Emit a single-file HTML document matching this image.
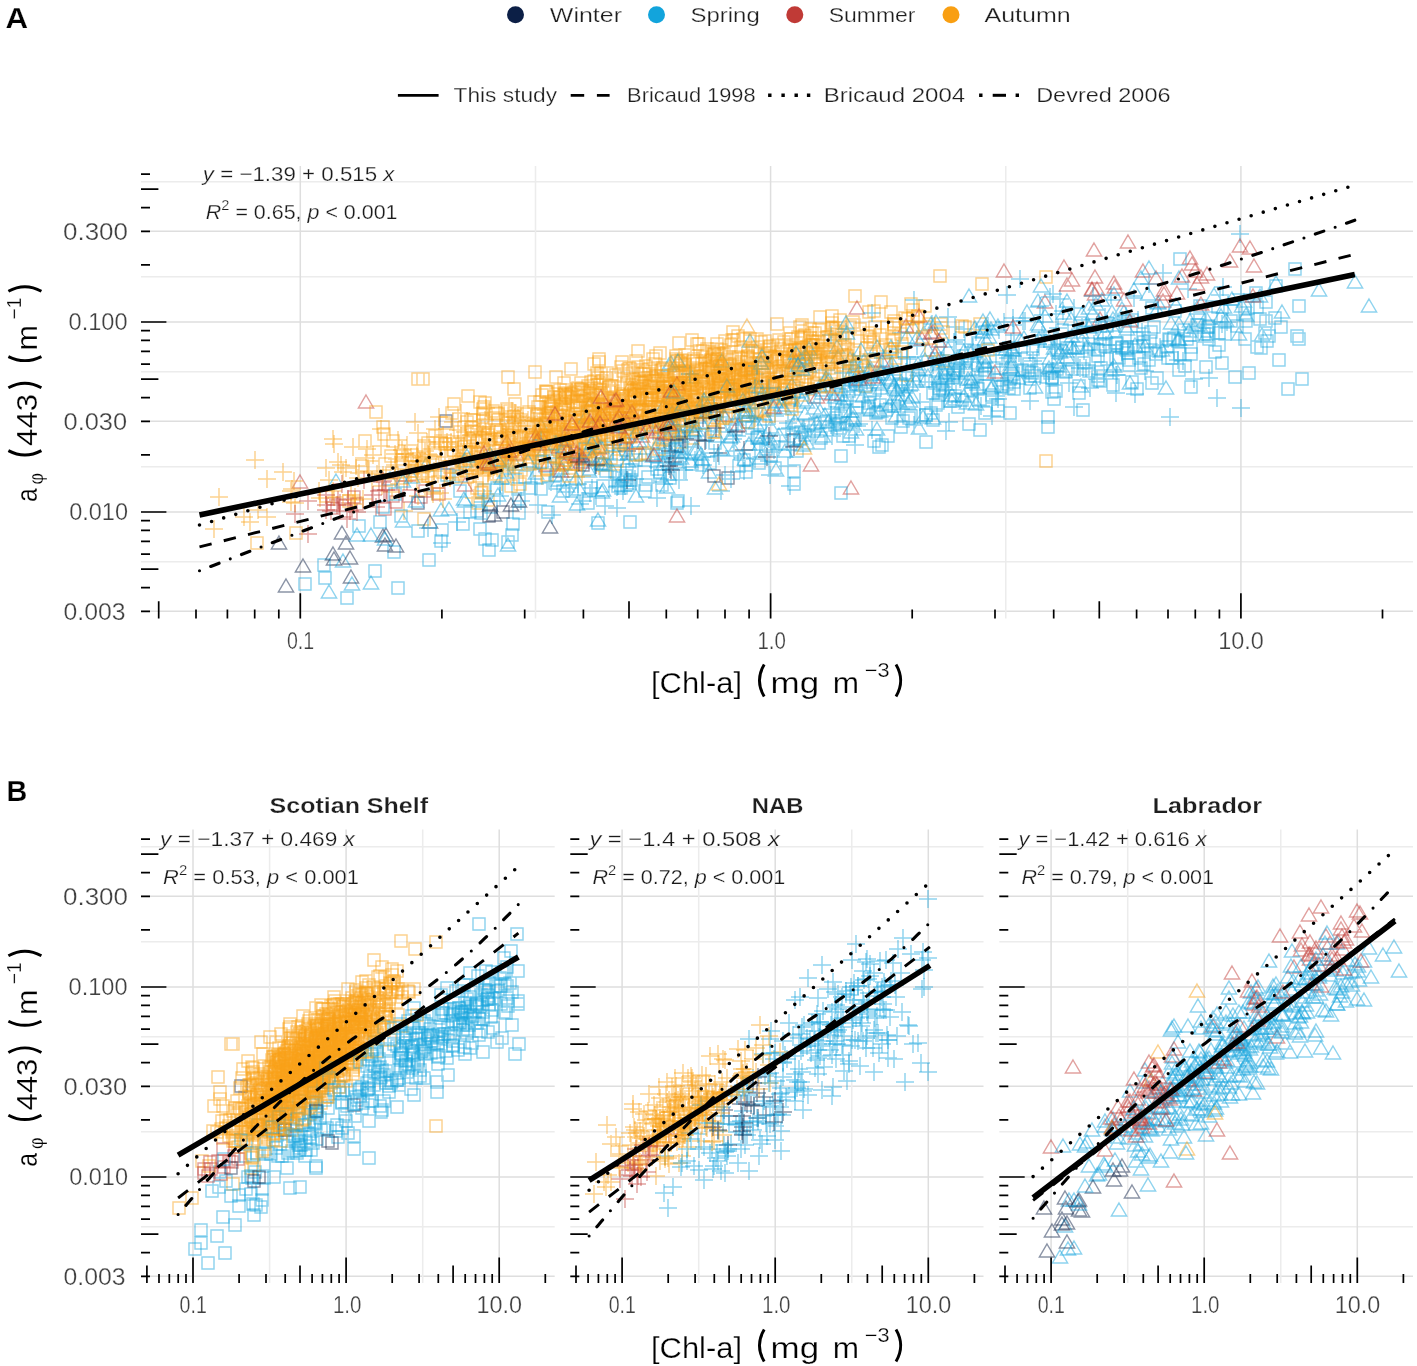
<!DOCTYPE html><html><head><meta charset="utf-8"><style>html,body{margin:0;padding:0;background:#fff;}svg{display:block;will-change:transform;}text{font-family:"Liberation Sans", sans-serif;stroke:#fff;stroke-width:0.25px;}</style></head><body>
<svg width="1417" height="1366" viewBox="0 0 1417 1366">
<rect width="100%" height="100%" fill="#fff"/>
<text x="5.6" y="27.9" font-size="29" font-weight="bold" textLength="22.6" lengthAdjust="spacingAndGlyphs" fill="#000">A</text>
<text x="6.6" y="800.7" font-size="29" font-weight="bold" textLength="20.8" lengthAdjust="spacingAndGlyphs" fill="#000">B</text>
<circle cx="515.5" cy="14.8" r="8.5" fill="#0c1f46"/>
<text x="549.8" y="22.1" font-size="21" textLength="72.2" lengthAdjust="spacingAndGlyphs" fill="#1e1e1e">Winter</text>
<circle cx="656.5" cy="14.8" r="8.5" fill="#12a4dc"/>
<text x="690.5" y="22.1" font-size="21" textLength="69.2" lengthAdjust="spacingAndGlyphs" fill="#1e1e1e">Spring</text>
<circle cx="794.8" cy="14.8" r="8.5" fill="#c03a36"/>
<text x="828.7" y="22.1" font-size="21" textLength="86.8" lengthAdjust="spacingAndGlyphs" fill="#1e1e1e">Summer</text>
<circle cx="951" cy="14.8" r="8.5" fill="#f99f12"/>
<text x="984.5" y="22.1" font-size="21" textLength="86.2" lengthAdjust="spacingAndGlyphs" fill="#1e1e1e">Autumn</text>
<line x1="397.9" x2="438.6" y1="95.3" y2="95.3" stroke="#000" stroke-width="2.8"/>
<text x="453.5" y="102.3" font-size="21" textLength="103.6" lengthAdjust="spacingAndGlyphs" fill="#1e1e1e">This study</text>
<path d="M570.7 95.3h13.5M596.9 95.3h12.7" stroke="#000" stroke-width="2.8"/>
<text x="627.1" y="102.3" font-size="21" textLength="128.5" lengthAdjust="spacingAndGlyphs" fill="#1e1e1e">Bricaud 1998</text>
<path d="M768.1 95.3h3.4M781.4 95.3h3.4M794.5 95.3h3.4M806.9 95.3h3.4" stroke="#000" stroke-width="3.4"/>
<text x="823.7" y="102.3" font-size="21" textLength="141.4" lengthAdjust="spacingAndGlyphs" fill="#1e1e1e">Bricaud 2004</text>
<path d="M979.1 95.3h3.4M1015.6 95.3h3.4" stroke="#000" stroke-width="3.4"/>
<path d="M992.7 95.3h13.3" stroke="#000" stroke-width="3"/>
<text x="1036.2" y="102.3" font-size="21" textLength="134.3" lengthAdjust="spacingAndGlyphs" fill="#1e1e1e">Devred 2006</text>
<line x1="141" x2="1413" y1="561.7" y2="561.7" stroke="#ececec" stroke-width="1.5"/>
<line x1="141" x2="1413" y1="466.7" y2="466.7" stroke="#ececec" stroke-width="1.5"/>
<line x1="141" x2="1413" y1="371.7" y2="371.7" stroke="#ececec" stroke-width="1.5"/>
<line x1="141" x2="1413" y1="276.7" y2="276.7" stroke="#ececec" stroke-width="1.5"/>
<line x1="141" x2="1413" y1="181.7" y2="181.7" stroke="#ececec" stroke-width="1.5"/>
<line x1="141" x2="1413" y1="611.3" y2="611.3" stroke="#dedede" stroke-width="1.5"/>
<line x1="141" x2="1413" y1="512.0" y2="512.0" stroke="#dedede" stroke-width="1.5"/>
<line x1="141" x2="1413" y1="421.3" y2="421.3" stroke="#dedede" stroke-width="1.5"/>
<line x1="141" x2="1413" y1="322.0" y2="322.0" stroke="#dedede" stroke-width="1.5"/>
<line x1="141" x2="1413" y1="231.3" y2="231.3" stroke="#dedede" stroke-width="1.5"/>
<line y1="166" y2="618.6" x1="535.5" x2="535.5" stroke="#ececec" stroke-width="1.5"/>
<line y1="166" y2="618.6" x1="1005.8" x2="1005.8" stroke="#ececec" stroke-width="1.5"/>
<line y1="166" y2="618.6" x1="300.3" x2="300.3" stroke="#dedede" stroke-width="1.5"/>
<line y1="166" y2="618.6" x1="770.6" x2="770.6" stroke="#dedede" stroke-width="1.5"/>
<line y1="166" y2="618.6" x1="1240.9" x2="1240.9" stroke="#dedede" stroke-width="1.5"/>
<g fill="none" stroke-width="1.45" stroke-opacity="0.48">
<path stroke="#12a4dc" d="M890 371l7.6 13h-15.2zM952 388l7.6 13h-15.2zM927 414h12v12h-12zM1355 275l7.6 13h-15.2zM352 577l7.6 13h-15.2zM582 497h12v12h-12zM1229 371h12v12h-12zM967 332h18m-9-9v18M630 454h12v12h-12zM947 394h18m-9-9v18M846 379l7.6 13h-15.2zM1214 287h18m-9-9v18M948 367h12v12h-12zM850 424h18m-9-9v18M625 474h12v12h-12zM1246 308l7.6 13h-15.2zM1024 373h12v12h-12zM817 370h18m-9-9v18M485 501h12v12h-12zM388 546h12v12h-12zM557 446h12v12h-12zM781 435h18m-9-9v18M1184 329h12v12h-12zM1110 351h12v12h-12zM644 436l7.6 13h-15.2zM760 431l7.6 13h-15.2zM940 375h12v12h-12zM513 507h12v12h-12zM1194 314h12v12h-12zM976 397l7.6 13h-15.2zM1162 343l7.6 13h-15.2zM1122 302l7.6 13h-15.2zM602 485l7.6 13h-15.2zM1051 299h18m-9-9v18M998 295h18m-9-9v18M1195 320l7.6 13h-15.2zM1148 321h12v12h-12zM837 430h12v12h-12zM1197 301l7.6 13h-15.2zM535 483h12v12h-12zM779 428l7.6 13h-15.2zM692 370l7.6 13h-15.2zM1369 299l7.6 13h-15.2zM1141 271l7.6 13h-15.2zM693 423l7.6 13h-15.2zM474 523h12v12h-12zM598 513l7.6 13h-15.2zM992 399h12v12h-12zM972 383h12v12h-12zM791 390h18m-9-9v18M832 418h12v12h-12zM864 354l7.6 13h-15.2zM748 408l7.6 13h-15.2zM1129 320h18m-9-9v18M1064 306l7.6 13h-15.2zM946 327h18m-9-9v18M1024 382h12v12h-12zM1043 347h18m-9-9v18M1003 382h12v12h-12zM479 533h12v12h-12zM1135 362h12v12h-12zM620 444h12v12h-12zM880 404h12v12h-12zM968 345h12v12h-12zM881 366h18m-9-9v18M1137 328h12v12h-12zM821 391h18m-9-9v18M934 382h12v12h-12zM1178 324h12v12h-12zM1054 341l7.6 13h-15.2zM842 395l7.6 13h-15.2zM1101 320h12v12h-12zM1055 344h12v12h-12zM795 414l7.6 13h-15.2zM423 491h18m-9-9v18M621 464h12v12h-12zM765 412l7.6 13h-15.2zM519 471h12v12h-12zM1028 358h18m-9-9v18M488 457l7.6 13h-15.2zM880 404l7.6 13h-15.2zM731 411h18m-9-9v18M1260 296h12v12h-12zM931 385h18m-9-9v18M862 401h12v12h-12zM856 422l7.6 13h-15.2zM1078 326h18m-9-9v18M897 383l7.6 13h-15.2zM541 419l7.6 13h-15.2zM876 439h12v12h-12zM1201 325h12v12h-12zM650 450h12v12h-12zM552 464h12v12h-12zM1185 381h12v12h-12zM822 415h18m-9-9v18M906 388l7.6 13h-15.2zM1243 367h12v12h-12zM1044 371h18m-9-9v18M1149 308h18m-9-9v18M684 402l7.6 13h-15.2zM832 388h12v12h-12zM544 450h12v12h-12zM740 409h18m-9-9v18M1126 376h12v12h-12zM1104 370h18m-9-9v18M449 502l7.6 13h-15.2zM936 345l7.6 13h-15.2zM553 436h18m-9-9v18M1130 341h12v12h-12zM695 418l7.6 13h-15.2zM1004 407h12v12h-12zM515 457l7.6 13h-15.2zM1225 315h12v12h-12zM781 486h18m-9-9v18M1123 359h12v12h-12zM1244 294l7.6 13h-15.2zM512 501h18m-9-9v18M550 469h12v12h-12zM863 397h12v12h-12zM1276 276l7.6 13h-15.2zM784 376h18m-9-9v18M1124 305l7.6 13h-15.2zM841 417h18m-9-9v18M357 528l7.6 13h-15.2zM1075 351h18m-9-9v18M845 379h12v12h-12zM928 343l7.6 13h-15.2zM963 418h12v12h-12zM564 457l7.6 13h-15.2zM1119 320h12v12h-12zM968 362h18m-9-9v18M842 407h18m-9-9v18M1112 305l7.6 13h-15.2zM1102 295h18m-9-9v18M1056 324h12v12h-12zM964 344l7.6 13h-15.2zM911 402h18m-9-9v18M738 454h12v12h-12zM979 326h18m-9-9v18M390 472l7.6 13h-15.2zM590 398l7.6 13h-15.2zM1113 312l7.6 13h-15.2zM1144 335h12v12h-12zM1221 309l7.6 13h-15.2zM963 362h18m-9-9v18M614 491h18m-9-9v18M524 469h18m-9-9v18M664 472h12v12h-12zM1051 344h12v12h-12zM1098 321h18m-9-9v18M1074 341l7.6 13h-15.2zM762 387l7.6 13h-15.2zM983 368h12v12h-12zM823 436h18m-9-9v18M586 437h12v12h-12zM841 386h18m-9-9v18M1088 343h12v12h-12zM747 391l7.6 13h-15.2zM995 381h12v12h-12zM1039 332l7.6 13h-15.2zM1260 289l7.6 13h-15.2zM1024 331l7.6 13h-15.2zM746 374h18m-9-9v18M815 432h12v12h-12zM771 420l7.6 13h-15.2zM656 456h18m-9-9v18M799 429h12v12h-12zM898 357h18m-9-9v18M369 565h12v12h-12zM781 450h18m-9-9v18M993 374h12v12h-12zM955 329h18m-9-9v18M1239 307h12v12h-12zM1191 319h12v12h-12zM1161 341h12v12h-12zM579 482l7.6 13h-15.2z"/>
<path stroke="#f99f12" d="M758 405h12v12h-12zM570 415h12v12h-12zM745 387h12v12h-12zM438 447h18m-9-9v18M671 355h12v12h-12zM662 389h12v12h-12zM461 416h12v12h-12zM888 319h12v12h-12zM475 444h12v12h-12zM357 458h18m-9-9v18M657 411h18m-9-9v18M708 376h12v12h-12zM637 364h12v12h-12zM643 394h12v12h-12zM363 480h18m-9-9v18M606 380h12v12h-12zM709 426h12v12h-12zM660 409h18m-9-9v18M734 379h12v12h-12zM480 450h12v12h-12zM606 408l7.6 13h-15.2zM661 415h12v12h-12zM705 397h12v12h-12zM805 353h12v12h-12zM560 390h12v12h-12zM666 405h12v12h-12zM763 343h12v12h-12zM687 432h12v12h-12zM606 395h18m-9-9v18M655 411h12v12h-12zM324 491h18m-9-9v18M694 387h12v12h-12zM624 407h12v12h-12zM706 361h12v12h-12zM587 401h12v12h-12zM708 348h12v12h-12zM470 432h18m-9-9v18M502 371h12v12h-12zM635 426h12v12h-12zM602 470h18m-9-9v18M686 407h12v12h-12zM959 321h12v12h-12zM540 424h12v12h-12zM466 458h12v12h-12zM482 494h12v12h-12zM568 435h12v12h-12zM597 459h12v12h-12zM502 435h12v12h-12zM559 454h12v12h-12zM477 443h12v12h-12zM506 445h12v12h-12zM460 477h18m-9-9v18M767 376h12v12h-12zM849 290h12v12h-12zM697 406h12v12h-12zM429 430h12v12h-12zM274 472h18m-9-9v18M602 433h12v12h-12zM664 408h18m-9-9v18M773 371h12v12h-12zM593 356h12v12h-12zM653 443h12v12h-12zM418 457h12v12h-12zM493 482h18m-9-9v18M584 393h12v12h-12zM396 454h18m-9-9v18M539 418h12v12h-12zM474 463h18m-9-9v18M907 312h12v12h-12zM576 438h12v12h-12zM704 362h12v12h-12zM491 458h12v12h-12zM714 370h12v12h-12zM519 420h18m-9-9v18M385 450h12v12h-12zM618 406h12v12h-12zM596 375h12v12h-12zM715 385h12v12h-12zM501 420h12v12h-12zM821 331h12v12h-12zM767 361h12v12h-12zM728 390h12v12h-12zM556 459h12v12h-12zM708 373h12v12h-12zM466 456h18m-9-9v18M400 470h18m-9-9v18M732 373h12v12h-12zM685 368h12v12h-12zM652 398h12v12h-12zM735 341h12v12h-12zM802 383h12v12h-12zM679 359h12v12h-12zM612 413h18m-9-9v18M738 400h12v12h-12zM716 365h12v12h-12zM740 386h12v12h-12zM701 343h12v12h-12zM464 454h12v12h-12zM714 363h12v12h-12zM477 408h18m-9-9v18M462 465h18m-9-9v18M649 375h12v12h-12zM859 364h12v12h-12zM657 396h18m-9-9v18M467 432h12v12h-12zM707 364h12v12h-12zM837 367h12v12h-12zM525 448h18m-9-9v18M454 426h12v12h-12zM712 379h12v12h-12zM769 351h12v12h-12zM749 381h12v12h-12zM653 385h12v12h-12zM813 368h12v12h-12zM583 442h18m-9-9v18M742 350h12v12h-12zM720 373h12v12h-12zM718 382h12v12h-12zM409 469h18m-9-9v18M622 406h12v12h-12zM650 409h12v12h-12zM585 407h12v12h-12zM691 387h12v12h-12zM557 457h12v12h-12zM577 420h12v12h-12zM823 356h12v12h-12zM595 387h12v12h-12zM656 381h12v12h-12zM769 376h12v12h-12zM638 386h12v12h-12zM377 421h12v12h-12zM552 416h12v12h-12zM601 419h12v12h-12zM649 401h12v12h-12zM492 414h12v12h-12zM730 379h12v12h-12zM532 401h12v12h-12zM777 387h18m-9-9v18M484 470h18m-9-9v18M622 430h12v12h-12zM919 300h12v12h-12zM447 471h12v12h-12zM646 405h12v12h-12zM728 384h12v12h-12zM447 456h18m-9-9v18M825 346h12v12h-12zM592 372h12v12h-12zM642 389h12v12h-12zM652 390h12v12h-12zM557 420h18m-9-9v18M719 363h12v12h-12zM566 419h12v12h-12zM790 380h12v12h-12zM500 446h12v12h-12zM606 393h12v12h-12zM630 383h12v12h-12zM497 432h18m-9-9v18M699 400h12v12h-12zM656 373h12v12h-12zM836 329h12v12h-12zM786 357h12v12h-12zM716 386h12v12h-12zM884 343h12v12h-12zM776 379h12v12h-12zM799 329h12v12h-12zM538 432h12v12h-12zM739 364h12v12h-12zM743 371h18m-9-9v18M430 437h18m-9-9v18M626 409h12v12h-12zM545 438h12v12h-12zM495 442h12v12h-12zM687 423h12v12h-12zM462 446h18m-9-9v18M482 427h12v12h-12zM804 323h12v12h-12zM735 356h12v12h-12zM687 379h12v12h-12zM387 435h12v12h-12zM743 381h12v12h-12zM640 397h12v12h-12zM657 362h12v12h-12zM569 456h18m-9-9v18M770 369h12v12h-12zM565 431h12v12h-12zM585 432h12v12h-12zM754 361h12v12h-12zM549 419h18m-9-9v18M717 394h12v12h-12zM696 358h12v12h-12zM714 382h12v12h-12zM912 310h12v12h-12zM626 423h12v12h-12zM656 370h12v12h-12zM627 416h12v12h-12zM643 391h12v12h-12zM507 445h18m-9-9v18M693 393h12v12h-12zM602 420h12v12h-12zM447 461h12v12h-12zM555 401h12v12h-12zM574 402h12v12h-12zM587 404h12v12h-12zM429 444h12v12h-12zM721 358h12v12h-12zM689 402h12v12h-12zM895 328h12v12h-12zM724 383h12v12h-12zM258 479h18m-9-9v18M592 428h18m-9-9v18M601 401h12v12h-12zM584 387h12v12h-12zM644 406h12v12h-12zM726 381h12v12h-12zM767 379h12v12h-12zM810 348h12v12h-12zM885 306h12v12h-12zM644 404h12v12h-12zM441 477h18m-9-9v18M624 382h12v12h-12zM749 358h12v12h-12zM761 357h12v12h-12zM769 366h12v12h-12zM537 410h18m-9-9v18M634 405h12v12h-12zM622 405h12v12h-12zM751 384h12v12h-12zM458 421h18m-9-9v18M374 475h18m-9-9v18M584 440h12v12h-12zM623 426h12v12h-12zM320 480h18m-9-9v18M758 361h12v12h-12zM358 449h18m-9-9v18M579 395h12v12h-12zM741 367h12v12h-12zM799 352h12v12h-12zM789 344h12v12h-12zM714 366h12v12h-12zM722 381h12v12h-12zM697 378h12v12h-12zM494 455h12v12h-12zM683 384h12v12h-12zM582 400h12v12h-12zM706 391h12v12h-12zM537 460h18m-9-9v18M606 403h12v12h-12zM567 396h12v12h-12zM674 357h12v12h-12zM738 397h12v12h-12zM533 426h12v12h-12zM589 414h12v12h-12zM502 417h12v12h-12zM868 334h12v12h-12zM449 444h18m-9-9v18M627 373h12v12h-12zM543 406h12v12h-12zM566 429h18m-9-9v18M685 383h12v12h-12zM686 403h12v12h-12zM471 482h12v12h-12zM684 377h12v12h-12zM649 358h12v12h-12zM728 393h12v12h-12zM477 407h12v12h-12zM469 471h18m-9-9v18M418 513h12v12h-12zM788 349h12v12h-12zM625 395h12v12h-12zM686 374h12v12h-12zM468 425h12v12h-12zM673 365h12v12h-12zM869 321h12v12h-12zM620 407h12v12h-12zM530 419h12v12h-12zM511 441h12v12h-12zM675 436h12v12h-12zM741 367h12v12h-12zM673 379h12v12h-12zM729 370h12v12h-12zM565 388h12v12h-12zM249 510h18m-9-9v18M754 369h12v12h-12zM593 428h12v12h-12zM536 450h18m-9-9v18M735 369h12v12h-12zM724 391h12v12h-12zM648 381h12v12h-12zM686 407h12v12h-12zM628 388h12v12h-12zM442 442h18m-9-9v18M630 410h12v12h-12zM652 370h12v12h-12z"/>
<path stroke="#c03a36" d="M566 427l7.6 13h-15.2zM1115 280l7.6 13h-15.2zM419 485h12v12h-12zM390 496h12v12h-12zM1192 257l7.6 13h-15.2zM593 418l7.6 13h-15.2zM1092 283l7.6 13h-15.2zM636 415l7.6 13h-15.2zM1045 295l7.6 13h-15.2zM339 499h18m-9-9v18M322 511h18m-9-9v18M724 408l7.6 13h-15.2zM1067 278l7.6 13h-15.2zM366 395l7.6 13h-15.2zM327 498h12v12h-12zM1072 273l7.6 13h-15.2zM465 478l7.6 13h-15.2zM1100 312l7.6 13h-15.2zM575 450l7.6 13h-15.2zM1128 235l7.6 13h-15.2zM333 484h18m-9-9v18"/>
<path stroke="#0c1f46" d="M618 451h18m-9-9v18M670 437h18m-9-9v18M655 439h18m-9-9v18M334 552l7.6 13h-15.2zM788 434h12v12h-12zM440 415h12v12h-12zM604 445h18m-9-9v18M664 462h18m-9-9v18"/>
<path stroke="#12a4dc" d="M842 388l7.6 13h-15.2zM643 448l7.6 13h-15.2zM891 373l7.6 13h-15.2zM695 413h18m-9-9v18M954 370l7.6 13h-15.2zM586 466h18m-9-9v18M1107 393h18m-9-9v18M730 430l7.6 13h-15.2zM853 371h12v12h-12zM1102 293l7.6 13h-15.2zM616 486h18m-9-9v18M1179 332l7.6 13h-15.2zM657 441h12v12h-12zM1185 348h12v12h-12zM1213 339h12v12h-12zM779 423h18m-9-9v18M1089 320l7.6 13h-15.2zM1092 344h12v12h-12zM670 480h18m-9-9v18M969 390h18m-9-9v18M1145 339l7.6 13h-15.2zM843 385h12v12h-12zM952 394l7.6 13h-15.2zM1064 364l7.6 13h-15.2zM665 436l7.6 13h-15.2zM1174 361h18m-9-9v18M1007 368h12v12h-12zM536 466l7.6 13h-15.2zM991 322l7.6 13h-15.2zM945 368l7.6 13h-15.2zM628 416l7.6 13h-15.2zM1203 333h12v12h-12zM1027 305l7.6 13h-15.2zM893 379h18m-9-9v18M1138 336h12v12h-12zM435 535h12v12h-12zM1154 273h18m-9-9v18M1081 379l7.6 13h-15.2zM722 442l7.6 13h-15.2zM896 409l7.6 13h-15.2zM1208 398h18m-9-9v18M1011 279h18m-9-9v18M856 374l7.6 13h-15.2zM969 353h18m-9-9v18M979 368h12v12h-12zM1171 316l7.6 13h-15.2zM663 400l7.6 13h-15.2zM895 421h12v12h-12zM1242 302h12v12h-12zM1145 326h12v12h-12zM983 416h18m-9-9v18M830 412h12v12h-12zM732 389l7.6 13h-15.2zM626 479h18m-9-9v18M939 371l7.6 13h-15.2zM589 464l7.6 13h-15.2zM663 420h18m-9-9v18M626 435l7.6 13h-15.2zM674 468h12v12h-12zM1116 341h12v12h-12zM585 482h12v12h-12zM651 463h12v12h-12zM1051 363h12v12h-12zM695 442l7.6 13h-15.2zM454 485h12v12h-12zM979 407h12v12h-12zM859 373l7.6 13h-15.2zM930 370h18m-9-9v18M851 360h18m-9-9v18M746 459h18m-9-9v18M1046 349h18m-9-9v18M1006 342l7.6 13h-15.2zM927 387h12v12h-12zM904 381h18m-9-9v18M675 440h12v12h-12zM545 442l7.6 13h-15.2zM1020 333l7.6 13h-15.2zM1065 407h18m-9-9v18M1077 368h18m-9-9v18M697 442l7.6 13h-15.2zM1200 378h18m-9-9v18M749 437l7.6 13h-15.2zM1219 305h18m-9-9v18M1048 345h18m-9-9v18M873 441h12v12h-12zM792 419h12v12h-12zM971 372l7.6 13h-15.2zM775 394l7.6 13h-15.2zM758 394h18m-9-9v18M1111 363l7.6 13h-15.2zM1231 234h18m-9-9v18M918 357l7.6 13h-15.2zM547 458h18m-9-9v18M878 367l7.6 13h-15.2zM807 395l7.6 13h-15.2zM910 376h18m-9-9v18M745 452l7.6 13h-15.2zM837 340l7.6 13h-15.2zM491 458l7.6 13h-15.2zM493 454h12v12h-12zM559 473l7.6 13h-15.2zM1029 370h12v12h-12zM455 470h12v12h-12zM892 409h18m-9-9v18M1094 375h12v12h-12zM822 386l7.6 13h-15.2zM781 428h18m-9-9v18M967 375h12v12h-12zM931 353h12v12h-12zM693 457h18m-9-9v18M685 447h12v12h-12zM1190 314l7.6 13h-15.2zM1023 358h12v12h-12zM792 378l7.6 13h-15.2zM899 394l7.6 13h-15.2zM658 432h12v12h-12zM672 391l7.6 13h-15.2zM868 374h18m-9-9v18M1011 357l7.6 13h-15.2zM1219 328h12v12h-12zM901 375l7.6 13h-15.2zM1206 329l7.6 13h-15.2zM478 484h12v12h-12zM608 487h18m-9-9v18M628 454l7.6 13h-15.2zM1071 340l7.6 13h-15.2zM341 592h12v12h-12zM835 450h12v12h-12zM1009 353h12v12h-12zM822 425h18m-9-9v18M1090 322h18m-9-9v18M441 503l7.6 13h-15.2zM1042 421h12v12h-12zM1073 380h12v12h-12zM465 494l7.6 13h-15.2zM892 357h18m-9-9v18M1113 352h18m-9-9v18M319 572h12v12h-12zM1148 287l7.6 13h-15.2zM543 515h18m-9-9v18M948 393h12v12h-12zM951 379h18m-9-9v18M704 397l7.6 13h-15.2zM572 464l7.6 13h-15.2zM952 401h12v12h-12zM598 442h18m-9-9v18M426 458l7.6 13h-15.2zM850 368l7.6 13h-15.2zM892 356l7.6 13h-15.2zM1242 299l7.6 13h-15.2zM1126 394h18m-9-9v18M1169 305h12v12h-12zM870 407h12v12h-12zM620 459h18m-9-9v18M803 419h12v12h-12zM507 518h12v12h-12zM953 367h18m-9-9v18M1049 328h18m-9-9v18M838 350l7.6 13h-15.2zM490 447l7.6 13h-15.2zM1203 320h12v12h-12zM792 391l7.6 13h-15.2zM822 409h18m-9-9v18M1049 361l7.6 13h-15.2zM825 374l7.6 13h-15.2zM823 429l7.6 13h-15.2zM913 320l7.6 13h-15.2zM764 407l7.6 13h-15.2zM636 489l7.6 13h-15.2zM619 430h12v12h-12zM1166 381l7.6 13h-15.2zM674 416l7.6 13h-15.2zM817 416l7.6 13h-15.2zM669 358l7.6 13h-15.2zM725 389h18m-9-9v18M624 516h12v12h-12zM464 506h12v12h-12zM539 460h12v12h-12zM1038 317l7.6 13h-15.2zM561 461l7.6 13h-15.2zM671 356l7.6 13h-15.2zM1108 375h18m-9-9v18M1282 383h12v12h-12zM756 379l7.6 13h-15.2z"/>
<path stroke="#f99f12" d="M431 447h18m-9-9v18M787 390h12v12h-12zM677 387h12v12h-12zM736 378h12v12h-12zM716 348h12v12h-12zM752 341h12v12h-12zM592 389h12v12h-12zM709 392h12v12h-12zM408 472h18m-9-9v18M593 414h12v12h-12zM626 379h12v12h-12zM475 487h12v12h-12zM731 391h12v12h-12zM764 350h12v12h-12zM528 396h12v12h-12zM678 377h12v12h-12zM670 353h12v12h-12zM477 462h18m-9-9v18M715 344h12v12h-12zM524 443h18m-9-9v18M526 434h18m-9-9v18M780 391h12v12h-12zM372 429h18m-9-9v18M657 382h12v12h-12zM474 476h18m-9-9v18M601 426h12v12h-12zM629 385h12v12h-12zM737 333h12v12h-12zM672 399h12v12h-12zM406 455h12v12h-12zM406 465h12v12h-12zM524 458h12v12h-12zM602 409h12v12h-12zM900 369h12v12h-12zM591 367h12v12h-12zM737 374h12v12h-12zM773 334h12v12h-12zM813 332h12v12h-12zM877 344h12v12h-12zM812 373h12v12h-12zM486 449h12v12h-12zM734 383h12v12h-12zM667 402h12v12h-12zM727 377h12v12h-12zM709 349h12v12h-12zM654 433h12v12h-12zM543 440h12v12h-12zM404 461h18m-9-9v18M320 490h12v12h-12zM497 464h12v12h-12zM855 359h12v12h-12zM864 336h12v12h-12zM663 395h12v12h-12zM531 447h18m-9-9v18M550 417h12v12h-12zM711 405h12v12h-12zM535 432h18m-9-9v18M842 343h12v12h-12zM465 498h18m-9-9v18M658 420h12v12h-12zM724 384h12v12h-12zM794 321h12v12h-12zM523 444h12v12h-12zM856 356h12v12h-12zM594 441h12v12h-12zM763 389h12v12h-12zM572 424h12v12h-12zM657 418h12v12h-12zM624 429h18m-9-9v18M548 450h18m-9-9v18M797 389h12v12h-12zM646 384h18m-9-9v18M784 327h12v12h-12zM691 389h12v12h-12zM605 419h12v12h-12zM859 380h12v12h-12zM400 471h18m-9-9v18M472 497h12v12h-12zM658 366h12v12h-12zM654 388h12v12h-12zM644 392h12v12h-12zM509 416h18m-9-9v18M784 354h12v12h-12zM727 326h12v12h-12zM654 400h12v12h-12zM801 341h12v12h-12zM541 401h12v12h-12zM843 355h12v12h-12zM581 436h18m-9-9v18M714 373h12v12h-12zM661 380h12v12h-12zM427 467h18m-9-9v18M660 377h12v12h-12zM728 383h12v12h-12zM888 315h12v12h-12zM854 323h12v12h-12zM778 356h12v12h-12zM663 395h12v12h-12zM613 430h12v12h-12zM725 384h12v12h-12zM346 500h18m-9-9v18M640 374h12v12h-12zM647 353h12v12h-12zM478 463h12v12h-12zM652 416h12v12h-12zM566 435h12v12h-12zM653 380h12v12h-12zM712 353h12v12h-12zM468 414h12v12h-12zM823 344h12v12h-12zM742 344h12v12h-12zM680 393h12v12h-12zM687 355h12v12h-12zM784 376h12v12h-12zM576 420h12v12h-12zM756 404h12v12h-12zM578 421h12v12h-12zM814 311h12v12h-12zM736 364h12v12h-12zM560 384h12v12h-12zM677 407h12v12h-12zM662 382h12v12h-12zM662 408h12v12h-12zM542 402h12v12h-12zM738 372h12v12h-12zM772 353h12v12h-12zM890 352h12v12h-12zM462 435h18m-9-9v18M515 464h12v12h-12zM408 480h18m-9-9v18M395 481h18m-9-9v18M725 392h12v12h-12zM643 376h12v12h-12zM580 394h12v12h-12zM937 355h12v12h-12zM735 366h12v12h-12zM598 412h12v12h-12zM745 373h12v12h-12zM850 360h12v12h-12zM695 405h12v12h-12zM815 365h12v12h-12zM834 314h12v12h-12zM502 455h18m-9-9v18M494 444h18m-9-9v18M667 404h12v12h-12zM506 417h18m-9-9v18M597 417h18m-9-9v18M544 401h12v12h-12zM729 373h12v12h-12zM675 354h12v12h-12zM654 387h12v12h-12zM608 395h12v12h-12zM829 325h12v12h-12zM514 430h12v12h-12zM672 355h12v12h-12zM742 370h12v12h-12zM767 382h12v12h-12zM664 427h12v12h-12zM590 383h12v12h-12zM612 440h12v12h-12zM779 340h12v12h-12zM564 427h12v12h-12zM733 361h12v12h-12zM705 367h12v12h-12zM628 389h12v12h-12zM793 346h12v12h-12zM474 491h18m-9-9v18M559 398h12v12h-12zM583 420h12v12h-12zM533 476h18m-9-9v18M651 410h12v12h-12zM444 422h18m-9-9v18M703 377h12v12h-12zM659 414h12v12h-12zM811 377h12v12h-12zM630 403h12v12h-12zM874 329h12v12h-12zM578 437h12v12h-12zM406 422h18m-9-9v18M372 446h18m-9-9v18M700 377h12v12h-12zM671 407h12v12h-12zM472 429h18m-9-9v18M618 408h12v12h-12zM466 422h12v12h-12zM557 414h12v12h-12zM424 494h18m-9-9v18M554 394h12v12h-12zM571 453h12v12h-12zM703 383h18m-9-9v18M805 340h12v12h-12zM545 407h12v12h-12zM638 421h12v12h-12zM547 399h12v12h-12zM766 393h12v12h-12zM675 399h12v12h-12zM572 458h12v12h-12zM604 405h12v12h-12zM569 409h12v12h-12zM548 391h12v12h-12zM652 389h12v12h-12zM674 377h12v12h-12zM578 419h12v12h-12zM809 354h12v12h-12zM828 368h12v12h-12zM486 434h18m-9-9v18M681 421h12v12h-12zM901 321h12v12h-12zM825 351h12v12h-12zM575 411h12v12h-12zM617 397h12v12h-12zM602 435h18m-9-9v18M741 356h12v12h-12zM643 368h12v12h-12zM867 354h12v12h-12zM571 432h18m-9-9v18M508 383h12v12h-12zM500 458h18m-9-9v18M611 427h18m-9-9v18M661 393h12v12h-12zM643 411h12v12h-12zM550 419h12v12h-12zM584 385h12v12h-12zM344 504h18m-9-9v18M554 409h12v12h-12zM632 361h12v12h-12zM552 445h18m-9-9v18M700 363h12v12h-12zM503 460h12v12h-12zM806 327h12v12h-12zM538 439h18m-9-9v18M783 333h12v12h-12zM395 511h18m-9-9v18M393 450h18m-9-9v18M734 365h12v12h-12zM756 357h12v12h-12zM686 374h12v12h-12zM635 404h12v12h-12zM747 371h12v12h-12zM728 380h12v12h-12zM472 456h18m-9-9v18M783 394h12v12h-12zM448 398h12v12h-12zM796 376h12v12h-12zM737 371h12v12h-12zM684 379h12v12h-12zM795 343h12v12h-12zM653 391h12v12h-12zM617 388h12v12h-12zM560 457h12v12h-12zM703 363h12v12h-12zM766 376h12v12h-12zM683 401h12v12h-12zM719 362h12v12h-12zM515 431h12v12h-12zM644 382h12v12h-12zM784 341h12v12h-12zM907 304h12v12h-12zM593 438h12v12h-12zM728 360h12v12h-12zM934 270h12v12h-12zM360 471h18m-9-9v18M623 404h12v12h-12zM540 385h12v12h-12zM584 393h12v12h-12zM694 371h12v12h-12zM667 413h12v12h-12zM210 497h18m-9-9v18M282 502h18m-9-9v18M664 387h12v12h-12zM396 449h12v12h-12zM843 366h12v12h-12zM558 377h12v12h-12zM561 441h12v12h-12zM716 349h12v12h-12zM743 379h12v12h-12zM956 320h12v12h-12zM498 443h18m-9-9v18M528 434h12v12h-12zM484 444h18m-9-9v18"/>
<path stroke="#c03a36" d="M1163 294l7.6 13h-15.2zM507 435l7.6 13h-15.2zM796 354l7.6 13h-15.2zM617 412l7.6 13h-15.2zM599 441l7.6 13h-15.2zM653 420l7.6 13h-15.2zM600 451l7.6 13h-15.2zM1164 283l7.6 13h-15.2zM625 399l7.6 13h-15.2zM351 498h12v12h-12zM857 301l7.6 13h-15.2zM559 440l7.6 13h-15.2zM331 503h18m-9-9v18M541 429l7.6 13h-15.2zM1156 271l7.6 13h-15.2zM1095 287l7.6 13h-15.2zM995 365l7.6 13h-15.2zM1092 282l7.6 13h-15.2zM415 491h12v12h-12zM300 475l7.6 13h-15.2zM398 481h18m-9-9v18M437 469h18m-9-9v18M581 455l7.6 13h-15.2zM1097 282l7.6 13h-15.2zM1143 264l7.6 13h-15.2z"/>
<path stroke="#0c1f46" d="M722 472h12v12h-12zM383 529l7.6 13h-15.2zM430 515l7.6 13h-15.2zM396 539l7.6 13h-15.2zM351 570l7.6 13h-15.2zM385 538l7.6 13h-15.2zM709 453h18m-9-9v18M735 450h18m-9-9v18M666 458h18m-9-9v18"/>
<path stroke="#12a4dc" d="M828 415l7.6 13h-15.2zM863 403h12v12h-12zM1179 317l7.6 13h-15.2zM905 300h18m-9-9v18M736 412l7.6 13h-15.2zM865 378l7.6 13h-15.2zM985 332l7.6 13h-15.2zM569 484h18m-9-9v18M1010 353h18m-9-9v18M596 506h18m-9-9v18M870 360l7.6 13h-15.2zM795 426h12v12h-12zM1004 373h12v12h-12zM905 425h18m-9-9v18M1046 372h12v12h-12zM624 477h12v12h-12zM947 361l7.6 13h-15.2zM773 401l7.6 13h-15.2zM959 356l7.6 13h-15.2zM835 389h12v12h-12zM730 423h12v12h-12zM649 427h18m-9-9v18M1138 358h12v12h-12zM1052 359h12v12h-12zM848 415l7.6 13h-15.2zM1275 321h12v12h-12zM557 485h12v12h-12zM768 435h12v12h-12zM1097 345h18m-9-9v18M1072 342h12v12h-12zM577 497l7.6 13h-15.2zM697 440h18m-9-9v18M586 448l7.6 13h-15.2zM1023 366h12v12h-12zM1251 301h12v12h-12zM709 465l7.6 13h-15.2zM734 443l7.6 13h-15.2zM1172 335h12v12h-12zM928 369l7.6 13h-15.2zM966 397h12v12h-12zM837 332h18m-9-9v18M760 443h12v12h-12zM850 378h12v12h-12zM506 465l7.6 13h-15.2zM526 484h18m-9-9v18M1107 375h18m-9-9v18M985 350l7.6 13h-15.2zM1198 328h12v12h-12zM1022 365h12v12h-12zM1282 305l7.6 13h-15.2zM931 317l7.6 13h-15.2zM1046 334l7.6 13h-15.2zM1034 315h18m-9-9v18M787 386l7.6 13h-15.2zM829 395h12v12h-12zM834 373h18m-9-9v18M1084 296h18m-9-9v18M615 482h12v12h-12zM794 433h12v12h-12zM890 397l7.6 13h-15.2zM471 505h12v12h-12zM1096 297l7.6 13h-15.2zM662 425h18m-9-9v18M1131 383h12v12h-12zM777 429h18m-9-9v18M659 435l7.6 13h-15.2zM699 429h12v12h-12zM1146 302h12v12h-12zM897 415h12v12h-12zM1021 401h18m-9-9v18M997 380h12v12h-12zM1041 297h18m-9-9v18M1002 355h18m-9-9v18M1224 300l7.6 13h-15.2zM423 554h12v12h-12zM972 337h12v12h-12zM1173 364h12v12h-12zM1021 352h18m-9-9v18M603 483l7.6 13h-15.2zM724 439h18m-9-9v18M850 401h12v12h-12zM574 501h18m-9-9v18M1052 356h12v12h-12zM626 464h12v12h-12zM1209 346h12v12h-12zM803 358h18m-9-9v18M750 334l7.6 13h-15.2zM793 355l7.6 13h-15.2zM678 405l7.6 13h-15.2zM560 489l7.6 13h-15.2zM465 454l7.6 13h-15.2zM1083 338h12v12h-12zM1179 271l7.6 13h-15.2zM1066 344l7.6 13h-15.2zM1093 306l7.6 13h-15.2zM609 458l7.6 13h-15.2zM788 465h12v12h-12zM1120 343h12v12h-12zM655 484h18m-9-9v18M690 454l7.6 13h-15.2zM586 410l7.6 13h-15.2zM665 422h12v12h-12zM1161 417h18m-9-9v18M967 396l7.6 13h-15.2zM436 524h12v12h-12zM986 391h12v12h-12zM1232 294h18m-9-9v18M932 360h18m-9-9v18M776 463l7.6 13h-15.2zM779 466h18m-9-9v18M1005 335h18m-9-9v18M924 326l7.6 13h-15.2zM710 456h18m-9-9v18M735 417l7.6 13h-15.2zM849 414h12v12h-12zM1048 393h12v12h-12zM1296 373h12v12h-12zM843 430h12v12h-12zM895 378h12v12h-12zM908 346h18m-9-9v18M894 378l7.6 13h-15.2zM933 389h12v12h-12zM746 408h18m-9-9v18M1168 332h12v12h-12zM864 388h12v12h-12zM710 395l7.6 13h-15.2zM760 461h18m-9-9v18M671 431h12v12h-12zM827 423h18m-9-9v18M956 350h12v12h-12zM1004 350h12v12h-12zM884 367l7.6 13h-15.2zM1137 340h12v12h-12zM972 371h18m-9-9v18M1158 296l7.6 13h-15.2zM893 385h18m-9-9v18M682 506h18m-9-9v18M913 373h12v12h-12zM985 321l7.6 13h-15.2zM681 451l7.6 13h-15.2zM731 399l7.6 13h-15.2zM929 377h12v12h-12zM919 421l7.6 13h-15.2zM925 407h12v12h-12zM502 471l7.6 13h-15.2zM769 462h12v12h-12zM851 425l7.6 13h-15.2zM761 475h18m-9-9v18M1122 347h12v12h-12zM722 354l7.6 13h-15.2zM740 466h12v12h-12zM834 422h12v12h-12zM938 355l7.6 13h-15.2zM987 396h18m-9-9v18M1162 352h12v12h-12zM725 451h18m-9-9v18M612 480h12v12h-12zM912 390l7.6 13h-15.2zM499 468h18m-9-9v18M802 423l7.6 13h-15.2zM656 479h12v12h-12zM486 534h12v12h-12zM936 379h12v12h-12zM956 344h18m-9-9v18M592 517h12v12h-12zM785 412h18m-9-9v18M1169 360h18m-9-9v18M971 346l7.6 13h-15.2zM644 431h18m-9-9v18M1179 360h12v12h-12zM318 559h12v12h-12zM974 393h12v12h-12zM1121 344h12v12h-12zM860 373h18m-9-9v18M850 352l7.6 13h-15.2zM751 432h12v12h-12zM822 383l7.6 13h-15.2zM937 363l7.6 13h-15.2zM673 423l7.6 13h-15.2zM675 470h18m-9-9v18M1001 378h12v12h-12zM996 352h12v12h-12zM1060 366h12v12h-12z"/>
<path stroke="#f99f12" d="M686 334h12v12h-12zM869 358h12v12h-12zM633 427h12v12h-12zM629 418h12v12h-12zM783 351h12v12h-12zM490 453h18m-9-9v18M728 383h12v12h-12zM734 392h12v12h-12zM696 406h12v12h-12zM793 342h12v12h-12zM570 427h12v12h-12zM768 378h12v12h-12zM460 464h12v12h-12zM711 353h12v12h-12zM465 421h12v12h-12zM912 311h12v12h-12zM589 406h12v12h-12zM503 429h12v12h-12zM666 379h12v12h-12zM650 378h12v12h-12zM672 400h12v12h-12zM807 336h12v12h-12zM593 353h12v12h-12zM590 466h18m-9-9v18M571 437h18m-9-9v18M542 410h12v12h-12zM418 442h18m-9-9v18M733 383h12v12h-12zM571 401h12v12h-12zM636 410h12v12h-12zM646 424h18m-9-9v18M653 406h12v12h-12zM896 338h12v12h-12zM599 407h12v12h-12zM551 433h18m-9-9v18M623 407h12v12h-12zM347 466h18m-9-9v18M881 359h12v12h-12zM571 443h12v12h-12zM609 403h12v12h-12zM611 455h12v12h-12zM615 361h12v12h-12zM676 355h12v12h-12zM819 368h12v12h-12zM536 389h12v12h-12zM595 367h12v12h-12zM541 469h12v12h-12zM863 306h12v12h-12zM570 420h12v12h-12zM460 446h12v12h-12zM733 352h12v12h-12zM545 403h12v12h-12zM694 345h12v12h-12zM589 420h12v12h-12zM588 375h12v12h-12zM568 400h12v12h-12zM658 391h12v12h-12zM526 456h12v12h-12zM562 412h12v12h-12zM623 362h12v12h-12zM682 368h12v12h-12zM402 474h18m-9-9v18M507 423h18m-9-9v18M482 434h12v12h-12zM589 424h12v12h-12zM805 339h12v12h-12zM834 339h12v12h-12zM562 391h18m-9-9v18M614 403h12v12h-12zM537 441h18m-9-9v18M650 370h12v12h-12zM848 319h12v12h-12zM935 318h12v12h-12zM464 462h12v12h-12zM728 374h12v12h-12zM540 418h12v12h-12zM687 373h12v12h-12zM668 369h12v12h-12zM875 296h12v12h-12zM246 460h18m-9-9v18M841 353h12v12h-12zM540 386h12v12h-12zM668 404h12v12h-12zM687 414h12v12h-12zM610 417h12v12h-12zM708 406h12v12h-12zM679 394h12v12h-12zM682 377h12v12h-12zM534 448h12v12h-12zM750 405h12v12h-12zM837 332h12v12h-12zM880 339h12v12h-12zM439 438h12v12h-12zM383 492h18m-9-9v18M558 442h12v12h-12zM562 400h12v12h-12zM472 451h12v12h-12zM974 318h12v12h-12zM337 468h18m-9-9v18M629 395h12v12h-12zM612 435h18m-9-9v18M739 409h12v12h-12zM826 310h12v12h-12zM697 371h12v12h-12zM767 380h12v12h-12zM793 356h12v12h-12zM471 461h18m-9-9v18M526 443h12v12h-12zM630 380l7.6 13h-15.2zM592 440h12v12h-12zM432 476h12v12h-12zM766 391h12v12h-12zM589 443h12v12h-12zM746 342h12v12h-12zM556 435h12v12h-12zM714 361h12v12h-12zM668 400h12v12h-12zM626 406h12v12h-12zM796 348h12v12h-12zM551 463h18m-9-9v18M524 437h12v12h-12zM738 377h12v12h-12zM585 399h12v12h-12zM570 402h12v12h-12zM585 421h12v12h-12zM543 432h12v12h-12zM283 489h18m-9-9v18M480 442h18m-9-9v18M527 436h18m-9-9v18M676 359h12v12h-12zM537 433h12v12h-12zM651 390h12v12h-12zM587 422h12v12h-12zM631 383h12v12h-12zM729 358h12v12h-12zM617 365h12v12h-12zM565 421h12v12h-12zM567 477h18m-9-9v18M524 441h18m-9-9v18M690 355h12v12h-12zM629 411h12v12h-12zM482 429h12v12h-12zM418 440h12v12h-12zM636 385h12v12h-12zM777 343h12v12h-12zM386 467h12v12h-12zM742 351h12v12h-12zM577 453h12v12h-12zM587 398h12v12h-12zM673 337h12v12h-12zM395 454h18m-9-9v18M639 400h12v12h-12zM611 408h12v12h-12zM690 375h12v12h-12zM595 404h12v12h-12zM809 346h12v12h-12zM310 491h18m-9-9v18M705 403h12v12h-12zM842 333h12v12h-12zM569 415h12v12h-12zM508 434h12v12h-12zM502 456h18m-9-9v18M831 328h12v12h-12zM796 325h12v12h-12zM669 429h12v12h-12zM605 432h12v12h-12zM638 418h12v12h-12zM713 376h12v12h-12zM402 457h18m-9-9v18M691 405h12v12h-12zM559 388h12v12h-12zM286 503h18m-9-9v18M531 409h12v12h-12zM714 379h12v12h-12zM848 344h12v12h-12zM773 365h12v12h-12zM758 387h12v12h-12zM635 368h12v12h-12zM665 404h12v12h-12zM722 374h12v12h-12zM737 389h12v12h-12zM762 374h12v12h-12zM624 430h12v12h-12zM725 339h12v12h-12zM581 405h12v12h-12zM420 455h18m-9-9v18M664 380h12v12h-12zM621 378h12v12h-12zM501 458h12v12h-12zM527 433h12v12h-12zM601 367h12v12h-12zM935 322h12v12h-12zM506 427h12v12h-12zM657 387h12v12h-12zM745 366h12v12h-12zM604 415h12v12h-12zM639 447h12v12h-12zM515 414h12v12h-12zM649 401h12v12h-12zM709 408h12v12h-12zM462 448h12v12h-12zM557 435h12v12h-12zM552 443h12v12h-12zM861 342h12v12h-12zM573 383h12v12h-12zM677 414h12v12h-12zM492 408h12v12h-12zM416 451h18m-9-9v18M479 473h18m-9-9v18M779 393h12v12h-12zM554 392h12v12h-12zM558 414h12v12h-12zM636 377h12v12h-12zM670 381h12v12h-12zM786 403h12v12h-12zM687 416h12v12h-12zM523 420h12v12h-12zM569 441h12v12h-12zM781 384h12v12h-12zM796 319h12v12h-12zM463 470h18m-9-9v18M644 407h12v12h-12zM713 378h12v12h-12zM390 484h18m-9-9v18M826 321h12v12h-12zM641 392h12v12h-12zM740 366h12v12h-12zM558 430h12v12h-12zM619 393h12v12h-12zM470 452h12v12h-12zM644 392h12v12h-12zM458 457h12v12h-12zM521 408h12v12h-12zM438 442h18m-9-9v18M691 394h12v12h-12zM564 462h12v12h-12zM638 417h12v12h-12zM474 396h12v12h-12zM465 414h12v12h-12zM809 351h12v12h-12zM670 377h12v12h-12zM523 417h12v12h-12zM674 420h12v12h-12zM574 437h18m-9-9v18M585 432h12v12h-12zM722 380h12v12h-12zM844 321h12v12h-12zM742 352h12v12h-12zM640 394h12v12h-12zM571 415h12v12h-12zM503 411h18m-9-9v18M677 387h12v12h-12zM805 339h12v12h-12zM847 316h12v12h-12zM673 384h12v12h-12zM574 400h12v12h-12zM548 430h12v12h-12zM524 436h18m-9-9v18M896 346h12v12h-12zM627 392h12v12h-12zM787 365h12v12h-12zM622 402h12v12h-12zM700 388h12v12h-12zM699 363h12v12h-12zM755 336h12v12h-12zM572 408h12v12h-12zM616 412h12v12h-12zM426 470h12v12h-12zM610 429h12v12h-12zM408 456h18m-9-9v18M721 369h12v12h-12zM282 491h18m-9-9v18M386 465h18m-9-9v18M698 381h12v12h-12zM706 362h12v12h-12zM735 363h12v12h-12zM515 453h18m-9-9v18M402 472h18m-9-9v18M838 341h12v12h-12zM598 409h12v12h-12zM714 360h18m-9-9v18M241 522h18m-9-9v18M735 392h12v12h-12zM732 330h12v12h-12z"/>
<path stroke="#c03a36" d="M547 458l7.6 13h-15.2zM372 490h12v12h-12zM906 319l7.6 13h-15.2zM1201 270l7.6 13h-15.2zM919 309l7.6 13h-15.2zM433 488h12v12h-12zM1253 289l7.6 13h-15.2zM328 505h18m-9-9v18M859 372l7.6 13h-15.2zM539 437l7.6 13h-15.2zM598 420l7.6 13h-15.2zM642 429l7.6 13h-15.2zM367 507h18m-9-9v18M516 447l7.6 13h-15.2zM403 490h12v12h-12zM601 407l7.6 13h-15.2zM1164 287l7.6 13h-15.2zM832 387l7.6 13h-15.2zM1190 251l7.6 13h-15.2zM341 511h18m-9-9v18M625 412l7.6 13h-15.2zM1240 239l7.6 13h-15.2zM577 445l7.6 13h-15.2zM922 332l7.6 13h-15.2zM355 480h18m-9-9v18"/>
<path stroke="#0c1f46" d="M577 459h12v12h-12zM490 498l7.6 13h-15.2zM386 528l7.6 13h-15.2zM696 441h18m-9-9v18M618 480h18m-9-9v18M494 508l7.6 13h-15.2z"/>
<path stroke="#12a4dc" d="M939 317h18m-9-9v18M796 432h18m-9-9v18M377 501h12v12h-12zM1250 287h12v12h-12zM1255 342h12v12h-12zM419 528h18m-9-9v18M1077 404h12v12h-12zM920 409h12v12h-12zM886 412h12v12h-12zM1125 298h18m-9-9v18M1016 364h12v12h-12zM853 411l7.6 13h-15.2zM1140 284h18m-9-9v18M1150 348h12v12h-12zM863 389l7.6 13h-15.2zM696 459h12v12h-12zM754 419h12v12h-12zM745 441h18m-9-9v18M820 379l7.6 13h-15.2zM639 434l7.6 13h-15.2zM403 514l7.6 13h-15.2zM1046 372h12v12h-12zM985 359l7.6 13h-15.2zM971 382h12v12h-12zM1107 379h12v12h-12zM1047 314h18m-9-9v18M770 432l7.6 13h-15.2zM834 417h12v12h-12zM663 457l7.6 13h-15.2zM576 472l7.6 13h-15.2zM759 380l7.6 13h-15.2zM650 457h18m-9-9v18M1259 327h12v12h-12zM1133 352h12v12h-12zM868 435h12v12h-12zM671 453h12v12h-12zM565 439l7.6 13h-15.2zM667 451h12v12h-12zM506 529h12v12h-12zM992 405h12v12h-12zM871 403l7.6 13h-15.2zM898 359h18m-9-9v18M743 393l7.6 13h-15.2zM1026 367h12v12h-12zM696 423l7.6 13h-15.2zM1089 332h18m-9-9v18M619 474h12v12h-12zM583 488h18m-9-9v18M709 437h12v12h-12zM1116 342h12v12h-12zM1214 288l7.6 13h-15.2zM974 424h12v12h-12zM835 390l7.6 13h-15.2zM672 406l7.6 13h-15.2zM831 417h18m-9-9v18M755 438h18m-9-9v18M336 474l7.6 13h-15.2zM671 438h12v12h-12zM892 333h18m-9-9v18M1103 345h18m-9-9v18M594 431l7.6 13h-15.2zM636 426l7.6 13h-15.2zM1174 348h12v12h-12zM1101 353h12v12h-12zM898 392l7.6 13h-15.2zM671 497h12v12h-12zM900 391h18m-9-9v18M907 330l7.6 13h-15.2zM1081 388h18m-9-9v18M1202 321h12v12h-12zM1011 354l7.6 13h-15.2zM619 419l7.6 13h-15.2zM984 354l7.6 13h-15.2zM1226 313l7.6 13h-15.2zM642 460h18m-9-9v18M433 543h18m-9-9v18M566 485h12v12h-12zM1239 333h12v12h-12zM742 416h12v12h-12zM694 411h12v12h-12zM732 429l7.6 13h-15.2zM609 486h18m-9-9v18M822 335h18m-9-9v18M753 457h12v12h-12zM819 422l7.6 13h-15.2zM1263 330h12v12h-12zM620 470h12v12h-12zM874 399h12v12h-12zM1018 371l7.6 13h-15.2zM1046 386h12v12h-12zM879 377l7.6 13h-15.2zM678 354l7.6 13h-15.2zM1251 341h12v12h-12zM1135 338l7.6 13h-15.2zM639 454h12v12h-12zM999 358h18m-9-9v18M1143 354h12v12h-12zM1046 365h12v12h-12zM1254 313h12v12h-12zM785 444l7.6 13h-15.2zM676 442h12v12h-12zM894 380l7.6 13h-15.2zM978 329h18m-9-9v18M826 371l7.6 13h-15.2zM1045 309l7.6 13h-15.2zM1094 339h18m-9-9v18M800 431l7.6 13h-15.2zM1035 339h18m-9-9v18M905 410h12v12h-12zM868 372l7.6 13h-15.2zM940 422h18m-9-9v18M1042 411h12v12h-12zM1065 365h18m-9-9v18M374 516h12v12h-12zM457 518h12v12h-12zM1293 300h12v12h-12zM868 396h12v12h-12zM965 376h12v12h-12zM966 380h18m-9-9v18M916 374l7.6 13h-15.2zM1200 361h12v12h-12zM1031 306h18m-9-9v18M567 479l7.6 13h-15.2zM896 380h12v12h-12zM1163 333h12v12h-12zM663 446h18m-9-9v18M877 340l7.6 13h-15.2zM839 405h12v12h-12zM965 384h12v12h-12zM1110 337h12v12h-12zM475 507h12v12h-12zM474 502h18m-9-9v18M504 474h18m-9-9v18M960 364h12v12h-12zM1212 301h12v12h-12zM969 289l7.6 13h-15.2zM1095 362h12v12h-12zM787 397h18m-9-9v18M991 381l7.6 13h-15.2zM715 404l7.6 13h-15.2zM1131 332h12v12h-12zM1189 324l7.6 13h-15.2zM686 458h12v12h-12zM784 401l7.6 13h-15.2zM491 484h18m-9-9v18M502 536h12v12h-12zM770 449h18m-9-9v18M628 447l7.6 13h-15.2zM778 442h18m-9-9v18M947 369h12v12h-12zM1087 327h18m-9-9v18M1213 324h18m-9-9v18M1269 312h12v12h-12zM955 365h18m-9-9v18M353 520h12v12h-12zM918 362l7.6 13h-15.2zM1181 333h12v12h-12zM1166 352h12v12h-12zM753 442h18m-9-9v18M581 493h18m-9-9v18M595 458h12v12h-12zM949 390h12v12h-12zM1126 314h12v12h-12zM1211 295h18m-9-9v18M975 321l7.6 13h-15.2zM681 429l7.6 13h-15.2zM1060 338h12v12h-12zM1067 350l7.6 13h-15.2zM1013 343l7.6 13h-15.2zM949 363h12v12h-12zM1260 315h12v12h-12zM1096 317h18m-9-9v18M1289 263h12v12h-12zM704 457h12v12h-12zM1074 317h12v12h-12zM1117 316h18m-9-9v18M395 510h12v12h-12zM1044 367h12v12h-12zM668 467l7.6 13h-15.2zM579 443h12v12h-12zM601 440l7.6 13h-15.2zM1262 328l7.6 13h-15.2zM840 380h18m-9-9v18M561 488h18m-9-9v18M604 451h18m-9-9v18M1004 325h18m-9-9v18M1035 380l7.6 13h-15.2zM1092 374h12v12h-12zM701 447l7.6 13h-15.2z"/>
<path stroke="#f99f12" d="M664 381h12v12h-12zM686 381h12v12h-12zM765 351h12v12h-12zM586 443h12v12h-12zM789 367h12v12h-12zM781 380h12v12h-12zM592 452h12v12h-12zM691 358h12v12h-12zM458 440h18m-9-9v18M588 420h12v12h-12zM548 395h12v12h-12zM792 359h12v12h-12zM751 333h12v12h-12zM446 407h12v12h-12zM430 417h18m-9-9v18M658 411h18m-9-9v18M479 397h12v12h-12zM712 370h12v12h-12zM788 373h12v12h-12zM770 368h12v12h-12zM572 396h12v12h-12zM550 371h12v12h-12zM667 386h12v12h-12zM917 331h12v12h-12zM709 388h12v12h-12zM545 400h12v12h-12zM708 423h12v12h-12zM694 394h18m-9-9v18M807 339h12v12h-12zM575 377h12v12h-12zM633 382h12v12h-12zM488 412h12v12h-12zM455 446h18m-9-9v18M660 404h18m-9-9v18M656 434h12v12h-12zM706 354h12v12h-12zM590 390h12v12h-12zM373 486h18m-9-9v18M591 379h12v12h-12zM509 418h12v12h-12zM660 425h12v12h-12zM388 459h18m-9-9v18M628 384h12v12h-12zM841 350h12v12h-12zM730 390h12v12h-12zM692 406h12v12h-12zM329 462h18m-9-9v18M506 456h12v12h-12zM803 339h12v12h-12zM677 366h12v12h-12zM671 363h12v12h-12zM794 359h12v12h-12zM711 355h12v12h-12zM550 411h18m-9-9v18M735 369h12v12h-12zM741 352h12v12h-12zM654 347h12v12h-12zM586 389h12v12h-12zM777 392h12v12h-12zM565 395h12v12h-12zM537 414h12v12h-12zM1040 271h12v12h-12zM799 375h12v12h-12zM826 366h12v12h-12zM570 458h12v12h-12zM379 458h12v12h-12zM632 345h12v12h-12zM480 457h12v12h-12zM793 351h12v12h-12zM511 458h12v12h-12zM785 396h12v12h-12zM617 390h12v12h-12zM746 418h18m-9-9v18M586 382h12v12h-12zM710 358h12v12h-12zM689 405h12v12h-12zM651 374h12v12h-12zM667 415h12v12h-12zM626 390h12v12h-12zM635 377h12v12h-12zM455 454h12v12h-12zM655 420h12v12h-12zM503 442h12v12h-12zM736 400h12v12h-12zM677 374h12v12h-12zM747 353h12v12h-12zM501 453h18m-9-9v18M826 317h12v12h-12zM804 332h12v12h-12zM505 459h18m-9-9v18M540 417h12v12h-12zM719 477l7.6 13h-15.2zM586 385h12v12h-12zM582 441h12v12h-12zM493 413h18m-9-9v18M547 430h12v12h-12zM564 392h12v12h-12zM495 457h18m-9-9v18M425 471h18m-9-9v18M678 389h12v12h-12zM549 442h18m-9-9v18M823 331h12v12h-12zM324 439h18m-9-9v18M902 313h12v12h-12zM505 430h12v12h-12zM604 409h12v12h-12zM519 451h18m-9-9v18M542 462h12v12h-12zM434 499h18m-9-9v18M727 383h12v12h-12zM687 391h12v12h-12zM713 394h12v12h-12zM552 411h12v12h-12zM441 478h18m-9-9v18M756 376h12v12h-12zM645 394h12v12h-12zM634 383h12v12h-12zM683 366h12v12h-12zM532 452h12v12h-12zM496 455h18m-9-9v18M568 386h12v12h-12zM822 358h12v12h-12zM386 454h18m-9-9v18M576 458h18m-9-9v18M585 412h12v12h-12zM465 474h18m-9-9v18M688 401h12v12h-12zM672 368h12v12h-12zM798 355h12v12h-12zM677 368h12v12h-12zM434 435h18m-9-9v18M605 403h12v12h-12zM759 335h12v12h-12zM634 394h12v12h-12zM616 409h12v12h-12zM575 422h12v12h-12zM798 374h12v12h-12zM716 370h12v12h-12zM518 447h12v12h-12zM485 458h12v12h-12zM747 371h12v12h-12zM389 440h18m-9-9v18M534 396h12v12h-12zM710 381h12v12h-12zM427 457h12v12h-12zM589 411h12v12h-12zM925 344h12v12h-12zM800 346h12v12h-12zM759 344h12v12h-12zM477 403h12v12h-12zM830 322h12v12h-12zM595 418h12v12h-12zM792 360h12v12h-12zM661 365h12v12h-12zM621 422h12v12h-12zM783 352h12v12h-12zM749 345h12v12h-12zM742 399h12v12h-12zM476 435h12v12h-12zM660 406h12v12h-12zM409 496h18m-9-9v18M615 417h12v12h-12zM762 366h12v12h-12zM679 370h12v12h-12zM439 447h18m-9-9v18M821 380h12v12h-12zM646 386h12v12h-12zM695 417h12v12h-12zM763 341h12v12h-12zM793 371h12v12h-12zM672 367h12v12h-12zM525 421h18m-9-9v18M580 423h12v12h-12zM782 365h12v12h-12zM817 345h12v12h-12zM669 372h12v12h-12zM490 461h18m-9-9v18M788 348h12v12h-12zM651 377h12v12h-12zM664 413h18m-9-9v18M633 404h12v12h-12zM590 399h18m-9-9v18M378 428h12v12h-12zM766 352h12v12h-12zM665 421h12v12h-12zM786 379h12v12h-12zM745 368h12v12h-12zM549 422h12v12h-12zM554 384h12v12h-12zM623 401h12v12h-12zM720 368h12v12h-12zM812 343h12v12h-12zM742 416h12v12h-12zM435 437h12v12h-12zM645 372h12v12h-12zM476 420h18m-9-9v18M368 474h18m-9-9v18M638 368h12v12h-12zM580 419h12v12h-12zM648 437h12v12h-12zM565 415h12v12h-12zM532 440h12v12h-12zM553 428h12v12h-12zM689 375h12v12h-12zM675 357h12v12h-12zM656 364h12v12h-12zM707 397h12v12h-12zM572 382h12v12h-12zM742 360h12v12h-12zM612 399h12v12h-12zM485 433h12v12h-12zM581 387h12v12h-12zM744 391h12v12h-12zM565 363h12v12h-12zM778 384h12v12h-12zM800 360h12v12h-12zM490 424h12v12h-12zM782 355h12v12h-12zM567 416h12v12h-12zM827 353h12v12h-12zM449 430h18m-9-9v18M452 413h18m-9-9v18M714 391h12v12h-12zM634 448h12v12h-12zM525 434h12v12h-12zM592 397h12v12h-12zM564 415h12v12h-12zM720 410h12v12h-12zM786 344h12v12h-12zM690 402h12v12h-12zM487 456h12v12h-12zM601 400h12v12h-12zM586 394h12v12h-12zM469 457h18m-9-9v18M744 390h12v12h-12zM441 449h12v12h-12zM806 339h12v12h-12zM662 399h12v12h-12zM543 432h12v12h-12zM716 380h12v12h-12zM578 442h12v12h-12zM527 429h12v12h-12zM711 338h12v12h-12zM474 434h18m-9-9v18M508 411h12v12h-12zM695 375h12v12h-12zM583 389h12v12h-12zM688 391h12v12h-12zM506 413h18m-9-9v18M664 397h12v12h-12zM549 426h18m-9-9v18M370 406h12v12h-12zM665 393h12v12h-12zM737 391h12v12h-12zM508 430h12v12h-12zM923 318h12v12h-12zM474 465h18m-9-9v18M482 433h12v12h-12zM737 387h12v12h-12zM501 437h12v12h-12zM523 431h12v12h-12zM705 372h12v12h-12zM982 344h12v12h-12zM836 349h12v12h-12zM451 460h18m-9-9v18M609 406h12v12h-12zM367 461h12v12h-12zM747 375h12v12h-12zM614 437h12v12h-12zM716 375h12v12h-12zM647 386h12v12h-12zM426 429h18m-9-9v18"/>
<path stroke="#c03a36" d="M577 447l7.6 13h-15.2zM619 410l7.6 13h-15.2zM509 444l7.6 13h-15.2zM935 348l7.6 13h-15.2zM882 354l7.6 13h-15.2zM561 464l7.6 13h-15.2zM338 519h18m-9-9v18M536 429l7.6 13h-15.2zM1207 267l7.6 13h-15.2zM1177 286l7.6 13h-15.2zM327 502h12v12h-12zM1124 293l7.6 13h-15.2zM1114 276l7.6 13h-15.2zM377 490h18m-9-9v18M677 377l7.6 13h-15.2zM632 405l7.6 13h-15.2zM666 427l7.6 13h-15.2zM738 418l7.6 13h-15.2zM567 432l7.6 13h-15.2zM933 325l7.6 13h-15.2zM1094 243l7.6 13h-15.2zM1130 314l7.6 13h-15.2zM364 495h18m-9-9v18M286 514h18m-9-9v18M379 503h12v12h-12zM677 509l7.6 13h-15.2zM774 400l7.6 13h-15.2z"/>
<path stroke="#0c1f46" d="M286 579l7.6 13h-15.2zM671 440h12v12h-12zM661 451h18m-9-9v18M412 497h12v12h-12zM758 457h18m-9-9v18M760 436h18m-9-9v18M497 506h12v12h-12zM550 520l7.6 13h-15.2zM708 412h18m-9-9v18"/>
<path stroke="#12a4dc" d="M1232 292l7.6 13h-15.2zM329 585l7.6 13h-15.2zM910 394l7.6 13h-15.2zM1216 357h12v12h-12zM716 475h18m-9-9v18M908 396l7.6 13h-15.2zM1133 332h18m-9-9v18M392 582h12v12h-12zM717 429l7.6 13h-15.2zM939 366h12v12h-12zM806 350l7.6 13h-15.2zM694 465h18m-9-9v18M776 395l7.6 13h-15.2zM1045 337h18m-9-9v18M1031 376h18m-9-9v18M616 447l7.6 13h-15.2zM686 460h18m-9-9v18M694 425l7.6 13h-15.2zM416 494l7.6 13h-15.2zM872 406h12v12h-12zM529 505h18m-9-9v18M1202 328h12v12h-12zM858 381h18m-9-9v18M1012 343l7.6 13h-15.2zM829 419h12v12h-12zM920 436h12v12h-12zM923 324h18m-9-9v18M1192 319h12v12h-12zM903 412h12v12h-12zM829 373l7.6 13h-15.2zM721 419l7.6 13h-15.2zM713 418l7.6 13h-15.2zM1077 363h12v12h-12zM654 459h18m-9-9v18M681 445l7.6 13h-15.2zM681 374h18m-9-9v18M835 404h18m-9-9v18M1291 330h12v12h-12zM847 326l7.6 13h-15.2zM371 528l7.6 13h-15.2zM889 349h18m-9-9v18M704 393l7.6 13h-15.2zM847 382h18m-9-9v18M1085 344h18m-9-9v18M412 470l7.6 13h-15.2zM601 456l7.6 13h-15.2zM947 372h12v12h-12zM989 330l7.6 13h-15.2zM1270 280h12v12h-12zM642 471h12v12h-12zM743 418h18m-9-9v18M609 466h12v12h-12zM781 398l7.6 13h-15.2zM824 427h18m-9-9v18M979 364h12v12h-12zM722 479h18m-9-9v18M615 484h18m-9-9v18M1071 312l7.6 13h-15.2zM859 365l7.6 13h-15.2zM760 451l7.6 13h-15.2zM988 362h12v12h-12zM464 492l7.6 13h-15.2zM924 365h18m-9-9v18M1293 333h12v12h-12zM1151 347h18m-9-9v18M895 393h18m-9-9v18M726 419h12v12h-12zM1218 322h18m-9-9v18M587 496h18m-9-9v18M863 313h18m-9-9v18M727 379l7.6 13h-15.2zM948 342l7.6 13h-15.2zM1067 353h18m-9-9v18M498 453l7.6 13h-15.2zM952 365h12v12h-12zM820 404l7.6 13h-15.2zM861 343l7.6 13h-15.2zM728 436h18m-9-9v18M945 356l7.6 13h-15.2zM1050 385h12v12h-12zM613 448h12v12h-12zM1130 376l7.6 13h-15.2zM661 469h18m-9-9v18M1027 343h12v12h-12zM937 384h12v12h-12zM1004 318h18m-9-9v18M878 372l7.6 13h-15.2zM746 388h18m-9-9v18M1174 253h12v12h-12zM835 410h12v12h-12zM1145 344h12v12h-12zM803 438l7.6 13h-15.2zM937 390h18m-9-9v18M1178 332l7.6 13h-15.2zM1157 303l7.6 13h-15.2zM680 412l7.6 13h-15.2zM809 342l7.6 13h-15.2zM933 411l7.6 13h-15.2zM994 381h18m-9-9v18M441 469h12v12h-12zM809 359l7.6 13h-15.2zM1060 383h18m-9-9v18M556 436l7.6 13h-15.2zM639 420l7.6 13h-15.2zM1068 331h18m-9-9v18M528 454l7.6 13h-15.2zM758 395l7.6 13h-15.2zM1065 308h18m-9-9v18M990 312l7.6 13h-15.2zM733 460h12v12h-12zM951 358h18m-9-9v18M600 459h18m-9-9v18M1067 294l7.6 13h-15.2zM814 416h12v12h-12zM1008 376h12v12h-12zM1031 364h12v12h-12zM883 403h18m-9-9v18M944 395h12v12h-12zM1231 320h12v12h-12zM788 478h12v12h-12zM880 356h12v12h-12zM654 470h12v12h-12zM846 316l7.6 13h-15.2zM796 346l7.6 13h-15.2zM1008 375h18m-9-9v18M956 394h12v12h-12zM848 426h18m-9-9v18M616 472h12v12h-12zM990 330h18m-9-9v18M491 496h18m-9-9v18M640 479h12v12h-12zM1002 342h18m-9-9v18M947 340h18m-9-9v18M1088 340l7.6 13h-15.2zM1232 408h18m-9-9v18M701 415l7.6 13h-15.2zM938 379h18m-9-9v18M1273 354h12v12h-12zM937 431h18m-9-9v18M920 375h12v12h-12zM1014 321h18m-9-9v18M1071 368h18m-9-9v18M746 422h12v12h-12zM1087 340l7.6 13h-15.2zM508 538l7.6 13h-15.2zM532 440h18m-9-9v18M1185 379h18m-9-9v18M972 406h18m-9-9v18M1073 387h12v12h-12zM887 395h18m-9-9v18M648 498h18m-9-9v18M592 436l7.6 13h-15.2zM802 393l7.6 13h-15.2zM1040 373h18m-9-9v18M891 340l7.6 13h-15.2zM1261 335h12v12h-12zM1078 357h12v12h-12zM448 522h18m-9-9v18M958 351l7.6 13h-15.2zM1149 261l7.6 13h-15.2zM559 446h12v12h-12zM1153 345h12v12h-12zM1089 301l7.6 13h-15.2zM881 381l7.6 13h-15.2zM860 381h12v12h-12zM343 554l7.6 13h-15.2zM1105 325l7.6 13h-15.2zM1024 361h18m-9-9v18M690 419l7.6 13h-15.2zM801 353l7.6 13h-15.2zM1061 342h12v12h-12zM609 465h12v12h-12zM942 365h18m-9-9v18M863 430h18m-9-9v18M1136 371h18m-9-9v18M846 445h18m-9-9v18M1213 327h12v12h-12zM734 458h18m-9-9v18M844 362h18m-9-9v18"/>
<path stroke="#f99f12" d="M325 497h18m-9-9v18M560 447h12v12h-12zM679 349h12v12h-12zM799 353h12v12h-12zM792 370h12v12h-12zM741 376h12v12h-12zM703 373h12v12h-12zM646 414h12v12h-12zM408 453h18m-9-9v18M646 389h12v12h-12zM673 407h12v12h-12zM359 435h12v12h-12zM577 419h18m-9-9v18M801 367h12v12h-12zM673 381h12v12h-12zM514 478h12v12h-12zM474 431h12v12h-12zM631 410h12v12h-12zM699 392h12v12h-12zM761 347h12v12h-12zM679 397h12v12h-12zM545 396h12v12h-12zM444 461h12v12h-12zM708 348h12v12h-12zM412 373h12v12h-12zM205 529h18m-9-9v18M687 363h12v12h-12zM700 366h12v12h-12zM472 435h12v12h-12zM747 367h12v12h-12zM349 478h18m-9-9v18M711 424h18m-9-9v18M805 347h12v12h-12zM657 363h12v12h-12zM865 350h12v12h-12zM627 430h18m-9-9v18M577 429h18m-9-9v18M510 432h12v12h-12zM574 425h12v12h-12zM399 477h18m-9-9v18M809 351h12v12h-12zM598 430h18m-9-9v18M710 368h12v12h-12zM727 384h12v12h-12zM591 453h12v12h-12zM344 447h18m-9-9v18M559 392h12v12h-12zM569 411h12v12h-12zM701 377h12v12h-12zM778 336h12v12h-12zM730 367h12v12h-12zM508 420h12v12h-12zM509 398h12v12h-12zM631 405h12v12h-12zM713 357h12v12h-12zM625 384h12v12h-12zM585 420h12v12h-12zM776 365h12v12h-12zM660 407h12v12h-12zM454 456h18m-9-9v18M498 454h18m-9-9v18M679 358h12v12h-12zM771 387h12v12h-12zM839 339h12v12h-12zM584 411h12v12h-12zM697 389h12v12h-12zM664 395h12v12h-12zM472 446h12v12h-12zM467 443h18m-9-9v18M693 399h12v12h-12zM726 353h12v12h-12zM851 360h12v12h-12zM538 446h18m-9-9v18M346 497h18m-9-9v18M605 452h12v12h-12zM740 363h12v12h-12zM564 439h18m-9-9v18M829 335h12v12h-12zM472 436h12v12h-12zM591 427h18m-9-9v18M481 453h18m-9-9v18M456 432h18m-9-9v18M864 331h12v12h-12zM715 365h12v12h-12zM529 432h18m-9-9v18M582 445h12v12h-12zM582 380h12v12h-12zM496 433h12v12h-12zM771 318h12v12h-12zM311 498h18m-9-9v18M423 492h18m-9-9v18M421 459h18m-9-9v18M712 347h12v12h-12zM549 462h18m-9-9v18M689 399h12v12h-12zM691 338h12v12h-12zM462 390h12v12h-12zM759 403h12v12h-12zM516 443h18m-9-9v18M675 426h12v12h-12zM664 378h12v12h-12zM417 373h12v12h-12zM809 327h12v12h-12zM564 417h12v12h-12zM559 398h12v12h-12zM686 414h12v12h-12zM481 461h12v12h-12zM592 400h12v12h-12zM795 332h12v12h-12zM823 362h12v12h-12zM768 366h12v12h-12zM673 392h12v12h-12zM728 334h12v12h-12zM888 318h12v12h-12zM708 398h12v12h-12zM632 376h12v12h-12zM764 340h12v12h-12zM668 404h18m-9-9v18M659 401h12v12h-12zM481 470h18m-9-9v18M697 389h12v12h-12zM317 468h18m-9-9v18M531 410h12v12h-12zM792 373h12v12h-12zM745 362h12v12h-12zM694 408h12v12h-12zM581 414h12v12h-12zM919 321h12v12h-12zM485 467h18m-9-9v18M538 428h12v12h-12zM669 395h12v12h-12zM614 395h12v12h-12zM325 444h18m-9-9v18M554 434h18m-9-9v18M504 405h12v12h-12zM578 390h12v12h-12zM476 472h12v12h-12zM812 335h12v12h-12zM630 449h12v12h-12zM704 356h12v12h-12zM657 381h12v12h-12zM334 472h18m-9-9v18M350 473h18m-9-9v18M674 407h18m-9-9v18M749 385h12v12h-12zM807 347h12v12h-12zM591 398h12v12h-12zM511 449h12v12h-12zM707 346h12v12h-12zM342 495h18m-9-9v18M629 419h12v12h-12zM658 390h12v12h-12zM888 334h12v12h-12zM775 348h12v12h-12zM699 369h12v12h-12zM416 467h12v12h-12zM500 414h12v12h-12zM493 464h18m-9-9v18M588 433h18m-9-9v18M594 377h12v12h-12zM629 390h12v12h-12zM669 396h12v12h-12zM707 356h12v12h-12zM356 460h12v12h-12zM569 463h18m-9-9v18M687 403h12v12h-12zM477 415h12v12h-12zM595 415h12v12h-12zM570 416h12v12h-12zM672 387h12v12h-12zM396 457h12v12h-12zM691 371h12v12h-12zM702 387h12v12h-12zM557 437h12v12h-12zM538 417h12v12h-12zM670 385h18m-9-9v18M688 353h12v12h-12zM354 499h18m-9-9v18M417 470h12v12h-12zM761 384h12v12h-12zM507 421h12v12h-12zM737 363h12v12h-12zM722 401h12v12h-12zM493 455h12v12h-12zM899 312h12v12h-12zM821 346h12v12h-12zM785 333h12v12h-12zM598 403h12v12h-12zM639 366h12v12h-12zM650 350h12v12h-12zM625 431h12v12h-12zM778 380h12v12h-12zM707 426h12v12h-12zM814 381h12v12h-12zM670 350h12v12h-12zM535 419h12v12h-12zM708 381h12v12h-12zM691 378h12v12h-12zM562 390h12v12h-12zM635 422h12v12h-12zM676 398h12v12h-12zM597 396h12v12h-12zM458 441h12v12h-12zM801 360h12v12h-12zM632 421h12v12h-12zM411 461h18m-9-9v18M759 377h12v12h-12zM636 392h12v12h-12zM771 355h12v12h-12zM573 476h18m-9-9v18M508 407h12v12h-12zM534 457h12v12h-12zM775 370h12v12h-12zM937 326h12v12h-12zM746 362h12v12h-12zM561 432h12v12h-12zM719 378h12v12h-12zM588 399h12v12h-12zM576 411h12v12h-12zM603 382h12v12h-12zM680 419h12v12h-12zM487 405h12v12h-12zM781 383h12v12h-12zM664 410h12v12h-12zM848 347h12v12h-12zM516 451h18m-9-9v18M716 397h12v12h-12zM881 321h12v12h-12zM575 384h12v12h-12zM605 380h12v12h-12zM542 412h12v12h-12zM725 390h12v12h-12zM815 347h12v12h-12zM643 363h12v12h-12zM541 463h12v12h-12zM646 380h12v12h-12zM636 402h12v12h-12zM724 354h12v12h-12zM364 455h18m-9-9v18M540 409h12v12h-12zM577 414h12v12h-12zM823 345h12v12h-12zM721 397h12v12h-12zM596 448h18m-9-9v18M576 386h12v12h-12zM633 403h12v12h-12zM789 362h12v12h-12zM536 424h12v12h-12zM727 367h12v12h-12zM781 345h12v12h-12zM719 367h12v12h-12zM548 422h12v12h-12zM409 433h18m-9-9v18M633 403h12v12h-12zM436 457h18m-9-9v18M615 400h12v12h-12zM804 364h12v12h-12zM661 426h12v12h-12zM624 413h12v12h-12zM666 408h12v12h-12zM585 408h12v12h-12zM558 389h12v12h-12zM501 403h12v12h-12zM541 386h12v12h-12zM476 456h12v12h-12zM407 465h18m-9-9v18M704 358h12v12h-12zM501 424h12v12h-12zM680 396h12v12h-12zM711 370h12v12h-12zM491 426h12v12h-12zM618 438h12v12h-12zM543 396h12v12h-12zM557 423h12v12h-12zM689 362h12v12h-12zM526 455h18m-9-9v18M608 391h12v12h-12zM598 406h12v12h-12zM553 456h18m-9-9v18M554 445h12v12h-12zM477 423h12v12h-12zM569 450h12v12h-12z"/>
<path stroke="#c03a36" d="M851 481l7.6 13h-15.2zM931 326l7.6 13h-15.2zM317 510h18m-9-9v18M374 481h18m-9-9v18M671 384l7.6 13h-15.2zM625 430l7.6 13h-15.2zM817 390l7.6 13h-15.2zM636 436l7.6 13h-15.2zM583 451l7.6 13h-15.2zM567 444l7.6 13h-15.2zM317 505h18m-9-9v18M537 434l7.6 13h-15.2zM656 425l7.6 13h-15.2zM1095 270l7.6 13h-15.2zM571 447l7.6 13h-15.2zM614 394l7.6 13h-15.2zM1230 254l7.6 13h-15.2zM873 370l7.6 13h-15.2zM811 458l7.6 13h-15.2zM387 490h12v12h-12zM1250 241l7.6 13h-15.2zM299 534h18m-9-9v18M385 478h12v12h-12zM373 482h18m-9-9v18M1254 259l7.6 13h-15.2zM580 448l7.6 13h-15.2zM299 501h18m-9-9v18M487 455l7.6 13h-15.2z"/>
<path stroke="#0c1f46" d="M676 439h18m-9-9v18M694 418h18m-9-9v18M785 447h18m-9-9v18M350 551l7.6 13h-15.2zM279 536l7.6 13h-15.2zM303 559l7.6 13h-15.2zM662 470h18m-9-9v18M689 440h18m-9-9v18"/>
<path stroke="#12a4dc" d="M299 578h12v12h-12zM990 355h12v12h-12zM807 436l7.6 13h-15.2zM1167 334h12v12h-12zM986 389h12v12h-12zM403 474l7.6 13h-15.2zM1060 345l7.6 13h-15.2zM835 487h12v12h-12zM600 465h12v12h-12zM791 445h12v12h-12zM1083 365h12v12h-12zM705 453h18m-9-9v18M911 377l7.6 13h-15.2zM932 397h12v12h-12zM888 400h12v12h-12zM765 450h12v12h-12zM770 439l7.6 13h-15.2zM983 325l7.6 13h-15.2zM549 477h12v12h-12zM942 329l7.6 13h-15.2zM715 481l7.6 13h-15.2zM933 383h12v12h-12zM747 403l7.6 13h-15.2zM711 407h12v12h-12zM1113 352h12v12h-12zM1016 321h18m-9-9v18M1082 333l7.6 13h-15.2zM752 431h12v12h-12zM1008 383h12v12h-12zM1176 298l7.6 13h-15.2zM1239 327l7.6 13h-15.2zM702 397h12v12h-12zM925 353l7.6 13h-15.2zM513 493h12v12h-12zM721 404l7.6 13h-15.2zM813 437h12v12h-12zM1114 359l7.6 13h-15.2zM1066 363h12v12h-12zM483 544h12v12h-12zM851 404l7.6 13h-15.2zM671 418l7.6 13h-15.2zM1039 319l7.6 13h-15.2zM1092 366h12v12h-12zM1179 289h18m-9-9v18M1088 379h18m-9-9v18M385 532l7.6 13h-15.2zM808 391h12v12h-12zM766 416h18m-9-9v18M930 399h12v12h-12zM371 576l7.6 13h-15.2zM1121 341h12v12h-12zM1319 283l7.6 13h-15.2zM853 395h12v12h-12zM1240 315h12v12h-12zM884 375h18m-9-9v18M1044 294h18m-9-9v18M1114 287l7.6 13h-15.2zM744 409l7.6 13h-15.2zM748 366h18m-9-9v18M1054 311h18m-9-9v18M676 427h18m-9-9v18M760 437l7.6 13h-15.2zM802 362l7.6 13h-15.2zM989 399h18m-9-9v18M491 482h12v12h-12zM536 456h12v12h-12zM1033 335h18m-9-9v18M653 449l7.6 13h-15.2zM968 372l7.6 13h-15.2zM964 389l7.6 13h-15.2zM1115 325l7.6 13h-15.2zM842 369h18m-9-9v18M1194 300h12v12h-12zM669 452h12v12h-12zM910 357h12v12h-12zM809 418h12v12h-12zM825 408l7.6 13h-15.2zM1151 372h12v12h-12zM923 410l7.6 13h-15.2zM467 449l7.6 13h-15.2zM604 480h18m-9-9v18M672 495h12v12h-12zM512 483h12v12h-12zM1038 294l7.6 13h-15.2zM874 358h18m-9-9v18M592 449l7.6 13h-15.2zM525 482h12v12h-12zM597 480h12v12h-12zM972 375l7.6 13h-15.2zM571 504h18m-9-9v18M936 315l7.6 13h-15.2zM964 354h18m-9-9v18M964 347h18m-9-9v18M805 407l7.6 13h-15.2zM799 394h18m-9-9v18M762 349l7.6 13h-15.2zM681 430h18m-9-9v18M870 363l7.6 13h-15.2zM798 358l7.6 13h-15.2zM1073 327h18m-9-9v18M1146 377h12v12h-12zM976 356l7.6 13h-15.2zM877 422l7.6 13h-15.2zM389 488h12v12h-12zM765 450h18m-9-9v18M570 458h18m-9-9v18M1059 359l7.6 13h-15.2zM1092 350h12v12h-12zM1092 370h12v12h-12zM744 405l7.6 13h-15.2zM669 444h12v12h-12zM712 491h18m-9-9v18M756 416l7.6 13h-15.2zM999 375h18m-9-9v18M995 322h18m-9-9v18M1082 307l7.6 13h-15.2zM1016 376h18m-9-9v18M608 508h18m-9-9v18M654 466h12v12h-12zM917 331l7.6 13h-15.2zM760 388h18m-9-9v18M735 471h18m-9-9v18M667 480l7.6 13h-15.2zM945 359h18m-9-9v18M639 485h12v12h-12zM945 376h18m-9-9v18M649 467h18m-9-9v18M542 482h18m-9-9v18M1134 283l7.6 13h-15.2zM897 372h18m-9-9v18M786 398h18m-9-9v18M1205 312h12v12h-12zM779 387l7.6 13h-15.2zM814 401l7.6 13h-15.2zM674 385l7.6 13h-15.2zM498 488l7.6 13h-15.2zM702 452l7.6 13h-15.2zM1050 351l7.6 13h-15.2zM583 463h12v12h-12zM475 498h18m-9-9v18M1099 340h12v12h-12zM1113 320h18m-9-9v18M881 365l7.6 13h-15.2zM935 347h18m-9-9v18M1127 322l7.6 13h-15.2zM945 342h18m-9-9v18M1111 337h12v12h-12zM1114 318l7.6 13h-15.2zM761 356l7.6 13h-15.2zM993 379l7.6 13h-15.2zM1072 329l7.6 13h-15.2zM1040 383h18m-9-9v18M872 388h18m-9-9v18M808 425h12v12h-12zM1011 360l7.6 13h-15.2zM604 457l7.6 13h-15.2zM412 525h12v12h-12zM542 506h12v12h-12zM998 319l7.6 13h-15.2zM621 479h12v12h-12zM1164 334h12v12h-12zM1041 279l7.6 13h-15.2zM882 430h12v12h-12zM1081 325l7.6 13h-15.2zM983 314l7.6 13h-15.2zM1029 344h18m-9-9v18M971 357h12v12h-12zM683 397l7.6 13h-15.2zM1206 311l7.6 13h-15.2zM1097 338h12v12h-12zM1123 354h12v12h-12zM1185 341h12v12h-12zM920 409h12v12h-12zM842 383h12v12h-12z"/>
<path stroke="#f99f12" d="M550 435h12v12h-12zM617 399h12v12h-12zM543 436h18m-9-9v18M478 401h12v12h-12zM444 438h12v12h-12zM697 406h12v12h-12zM682 398h12v12h-12zM723 410h12v12h-12zM834 356h12v12h-12zM533 448h12v12h-12zM816 340h12v12h-12zM633 375h12v12h-12zM477 432h18m-9-9v18M752 363h12v12h-12zM672 380h12v12h-12zM719 335h12v12h-12zM529 366h12v12h-12zM632 389h12v12h-12zM235 517h18m-9-9v18M451 468h12v12h-12zM643 401h12v12h-12zM674 401h12v12h-12zM712 393h12v12h-12zM472 448h12v12h-12zM521 421h12v12h-12zM543 426h12v12h-12zM511 473h12v12h-12zM686 394h12v12h-12zM667 427h18m-9-9v18M616 356h12v12h-12zM807 343h12v12h-12zM684 415h12v12h-12zM516 426h18m-9-9v18M584 419h12v12h-12zM674 397h12v12h-12zM505 480h12v12h-12zM671 387h12v12h-12zM761 352h12v12h-12zM840 349h12v12h-12zM600 372h12v12h-12zM726 334h12v12h-12zM670 391h12v12h-12zM496 431h18m-9-9v18M623 421h12v12h-12zM663 417h12v12h-12zM905 298h12v12h-12zM821 351h12v12h-12zM712 386h12v12h-12zM697 373h12v12h-12zM545 413h12v12h-12zM419 454h18m-9-9v18M669 406h12v12h-12zM691 365h12v12h-12zM558 404h12v12h-12zM711 343h12v12h-12zM764 382h12v12h-12zM412 462h18m-9-9v18M520 438h18m-9-9v18M495 433h12v12h-12zM755 357h12v12h-12zM814 351h12v12h-12zM523 406h12v12h-12zM533 419h12v12h-12zM601 394h18m-9-9v18M612 397h12v12h-12zM545 431h18m-9-9v18M643 414h12v12h-12zM906 321h12v12h-12zM626 425h12v12h-12zM452 438h12v12h-12zM867 356h12v12h-12zM619 405h12v12h-12zM783 362h12v12h-12zM704 403h12v12h-12zM617 404h12v12h-12zM526 448h12v12h-12zM646 420h12v12h-12zM781 355h12v12h-12zM808 378h12v12h-12zM684 383h12v12h-12zM624 363h12v12h-12zM332 465h18m-9-9v18M707 374h12v12h-12zM413 458h18m-9-9v18M585 376h12v12h-12zM741 363h12v12h-12zM680 413h18m-9-9v18M593 398h12v12h-12zM448 459h18m-9-9v18M798 330h12v12h-12zM700 398h12v12h-12zM744 333h12v12h-12zM693 338h12v12h-12zM804 441l7.6 13h-15.2zM258 517h18m-9-9v18M1040 455h12v12h-12zM563 470h12v12h-12zM586 398h12v12h-12zM689 394h12v12h-12zM607 385h12v12h-12zM555 398h12v12h-12zM976 278h12v12h-12zM285 481h18m-9-9v18M566 387h12v12h-12zM684 391h12v12h-12zM575 384h12v12h-12zM601 429h12v12h-12zM618 370h12v12h-12zM747 319l7.6 13h-15.2zM597 392h12v12h-12zM616 390h12v12h-12zM622 364h12v12h-12zM728 386h12v12h-12zM611 393h12v12h-12zM888 322h12v12h-12zM499 450h18m-9-9v18M759 349h12v12h-12zM706 384h12v12h-12zM582 445h12v12h-12zM531 443h18m-9-9v18M562 391h12v12h-12zM585 389h18m-9-9v18M885 346h12v12h-12zM763 410h12v12h-12zM734 376h12v12h-12zM645 381h12v12h-12zM610 369h12v12h-12zM733 386h12v12h-12zM491 462h12v12h-12zM386 478h18m-9-9v18M431 493h18m-9-9v18M792 344h12v12h-12zM640 360h12v12h-12zM658 373h12v12h-12zM609 396h12v12h-12zM614 413h12v12h-12zM765 361h12v12h-12zM723 380h18m-9-9v18M867 336h12v12h-12zM490 407h12v12h-12zM705 354h12v12h-12zM449 450h18m-9-9v18M691 364h12v12h-12zM524 451h12v12h-12zM684 385h12v12h-12zM509 432h18m-9-9v18M631 381h12v12h-12zM827 323h12v12h-12zM559 387h12v12h-12zM601 423h12v12h-12zM597 427h12v12h-12zM863 327h12v12h-12zM412 469h18m-9-9v18M813 324h12v12h-12zM724 390h18m-9-9v18M634 393h12v12h-12zM827 322h12v12h-12zM738 393h12v12h-12zM683 369h12v12h-12zM624 389h12v12h-12zM697 345h12v12h-12zM714 381h12v12h-12zM686 391h12v12h-12zM744 335h12v12h-12zM670 392h12v12h-12zM418 460h12v12h-12zM461 471h12v12h-12zM522 440h12v12h-12zM552 435h18m-9-9v18M593 398h12v12h-12zM868 305h12v12h-12zM290 527h12v12h-12zM536 425h12v12h-12zM576 383h12v12h-12zM751 357h12v12h-12zM785 399h12v12h-12zM576 390h12v12h-12zM792 331h12v12h-12zM724 359h12v12h-12zM752 366h12v12h-12zM570 439h12v12h-12zM785 368h12v12h-12zM743 400h18m-9-9v18M820 348h12v12h-12zM518 443h12v12h-12zM559 454h12v12h-12zM614 436h12v12h-12zM588 358h12v12h-12zM436 478h18m-9-9v18M752 396h12v12h-12zM556 424h12v12h-12zM617 434h12v12h-12zM612 394h12v12h-12zM476 486h12v12h-12zM886 343h12v12h-12zM634 376h12v12h-12zM551 406h12v12h-12zM422 437h12v12h-12zM704 407h18m-9-9v18M556 458h12v12h-12zM660 370h12v12h-12zM600 405h12v12h-12zM675 390h12v12h-12zM603 381h12v12h-12zM452 436h18m-9-9v18M645 394h12v12h-12zM671 367h12v12h-12zM501 454h12v12h-12zM491 424h12v12h-12zM422 470h12v12h-12zM579 427h18m-9-9v18M747 346h12v12h-12zM570 400h12v12h-12zM489 468h12v12h-12zM590 439h18m-9-9v18M616 399h12v12h-12zM679 385h12v12h-12zM713 395h12v12h-12zM745 382h12v12h-12zM603 428h18m-9-9v18M717 412h12v12h-12zM756 380h12v12h-12zM732 351h12v12h-12zM648 416h12v12h-12zM772 339h12v12h-12zM545 421h12v12h-12zM343 495h12v12h-12zM587 436h12v12h-12zM415 461h12v12h-12zM735 389h12v12h-12zM759 372h12v12h-12zM599 387h12v12h-12zM406 449h12v12h-12zM844 357h12v12h-12zM706 352h12v12h-12zM684 391h12v12h-12zM726 364h12v12h-12zM464 435h12v12h-12zM767 380h12v12h-12zM605 386h12v12h-12zM540 448h18m-9-9v18M597 424h12v12h-12zM648 375h12v12h-12zM726 393h12v12h-12zM837 359h12v12h-12zM554 391h12v12h-12zM630 355h12v12h-12zM419 477h18m-9-9v18M758 357h12v12h-12zM667 398h12v12h-12zM557 441h18m-9-9v18M545 436h18m-9-9v18M887 335h12v12h-12zM597 428h18m-9-9v18M624 392h12v12h-12zM598 413h12v12h-12zM861 330h12v12h-12zM398 445h18m-9-9v18M713 397h12v12h-12zM830 381h12v12h-12zM652 401h12v12h-12zM521 442h12v12h-12zM545 407h12v12h-12zM679 365h12v12h-12zM488 456l7.6 13h-15.2zM713 370h12v12h-12zM724 382h12v12h-12zM566 445h12v12h-12zM674 371h12v12h-12zM584 406h12v12h-12zM439 417h12v12h-12zM718 348h12v12h-12zM538 434h12v12h-12zM534 430h12v12h-12zM596 446h12v12h-12zM251 537h12v12h-12zM621 368h12v12h-12zM699 351h12v12h-12zM659 375h12v12h-12zM607 401h12v12h-12zM846 365h12v12h-12zM820 354h12v12h-12zM550 388h12v12h-12zM532 420h12v12h-12z"/>
<path stroke="#c03a36" d="M348 491h12v12h-12zM939 334l7.6 13h-15.2zM669 417l7.6 13h-15.2zM601 390l7.6 13h-15.2zM1195 264l7.6 13h-15.2zM1182 269l7.6 13h-15.2zM590 414l7.6 13h-15.2zM654 448l7.6 13h-15.2zM572 417l7.6 13h-15.2zM600 416l7.6 13h-15.2zM1004 264l7.6 13h-15.2zM1013 320l7.6 13h-15.2zM348 512h18m-9-9v18M619 420l7.6 13h-15.2zM1201 297l7.6 13h-15.2zM616 393l7.6 13h-15.2zM555 407l7.6 13h-15.2zM340 505h12v12h-12zM666 417l7.6 13h-15.2zM1064 260l7.6 13h-15.2zM1197 277l7.6 13h-15.2zM489 457l7.6 13h-15.2zM317 495h18m-9-9v18M647 422l7.6 13h-15.2zM484 446l7.6 13h-15.2zM370 491h18m-9-9v18M329 500h18m-9-9v18"/>
<path stroke="#0c1f46" d="M346 536l7.6 13h-15.2zM707 428h18m-9-9v18M708 470h12v12h-12zM587 465h18m-9-9v18M511 498l7.6 13h-15.2zM660 466h18m-9-9v18M342 526l7.6 13h-15.2zM333 547l7.6 13h-15.2zM570 462h18m-9-9v18M727 432h18m-9-9v18M519 494l7.6 13h-15.2zM483 510h12v12h-12z"/>
</g>
<polyline points="199.5,546.9 777.2,400.6 1354.8,254.3" fill="none" stroke="#000" stroke-width="2.9" stroke-dasharray="12.5 12.5"/>
<polyline points="199.5,525.0 777.2,355.1 1354.8,185.2" fill="none" stroke="#000" stroke-width="3.6" stroke-linecap="round" stroke-dasharray="0 12.6"/>
<polyline points="199.5,570.8 214.0,565.2 228.4,559.6 242.8,554.0 257.3,548.5 271.7,542.9 286.2,537.4 300.6,531.9 315.0,526.5 329.5,521.0 343.9,515.6 358.4,510.2 372.8,504.9 387.2,499.6 401.7,494.3 416.1,489.0 430.6,483.8 445.0,478.7 459.5,473.5 473.9,468.5 488.3,463.4 502.8,458.5 517.2,453.6 531.7,448.7 546.1,443.9 560.5,439.2 575.0,434.5 589.4,429.9 603.9,425.4 618.3,420.9 632.7,416.5 647.2,412.2 661.6,408.0 676.1,403.9 690.5,399.8 705.0,395.9 719.4,392.0 733.8,388.2 748.3,384.5 762.7,380.9 777.2,377.3 791.6,373.8 806.0,370.4 820.5,367.1 834.9,363.8 849.4,360.6 863.8,357.4 878.2,354.2 892.7,351.1 907.1,347.9 921.6,344.8 936.0,341.6 950.5,338.4 964.9,335.2 979.3,331.9 993.8,328.6 1008.2,325.2 1022.7,321.7 1037.1,318.2 1051.5,314.6 1066.0,310.8 1080.4,307.0 1094.9,303.2 1109.3,299.2 1123.7,295.1 1138.2,291.0 1152.6,286.7 1167.1,282.4 1181.5,278.0 1196.0,273.6 1210.4,269.0 1224.8,264.4 1239.3,259.7 1253.7,255.0 1268.2,250.2 1282.6,245.3 1297.0,240.4 1311.5,235.4 1325.9,230.4 1340.4,225.4 1354.8,220.2" fill="none" stroke="#000" stroke-width="3.1" stroke-linecap="round" stroke-dasharray="0 12 9 12"/>
<polyline points="199.5,514.9 777.2,394.7 1354.8,274.6" fill="none" stroke="#000" stroke-width="5.6"/>
<path d="M141.0 611.3h9.0M141.0 587.6h9.0M141.0 569.2h17.4M141.0 554.2h9.0M141.0 541.4h9.0M141.0 530.4h9.0M141.0 520.7h9.0M141.0 512.0h25.4M141.0 454.8h9.0M141.0 421.3h9.0M141.0 397.6h9.0M141.0 379.2h17.4M158.7 618.6v-17.4M141.0 364.2h9.0M196.0 618.6v-9.0M141.0 351.4h9.0M227.4 618.6v-9.0M141.0 340.4h9.0M254.7 618.6v-9.0M141.0 330.7h9.0M278.8 618.6v-9.0M141.0 322.0h25.4M300.3 618.6v-25.4M141.0 264.8h9.0M441.9 618.6v-9.0M141.0 231.3h9.0M524.7 618.6v-9.0M141.0 207.6h9.0M583.4 618.6v-9.0M141.0 189.2h17.4M629.0 618.6v-17.4M141.0 174.2h9.0M666.3 618.6v-9.0M697.7 618.6v-9.0M725.0 618.6v-9.0M749.1 618.6v-9.0M770.6 618.6v-25.4M912.2 618.6v-9.0M995.0 618.6v-9.0M1053.7 618.6v-9.0M1099.3 618.6v-17.4M1136.6 618.6v-9.0M1168.0 618.6v-9.0M1195.3 618.6v-9.0M1219.4 618.6v-9.0M1240.9 618.6v-25.4M1382.5 618.6v-9.0" stroke="#000" stroke-width="1.7" fill="none"/>
<text x="63.0" y="239.5" font-size="23" textLength="65.0" lengthAdjust="spacingAndGlyphs" fill="#404040">0.300</text>
<text x="68.6" y="330.2" font-size="23" textLength="58.9" lengthAdjust="spacingAndGlyphs" fill="#404040">0.100</text>
<text x="63.5" y="429.5" font-size="23" textLength="63.6" lengthAdjust="spacingAndGlyphs" fill="#404040">0.030</text>
<text x="69.2" y="520.2" font-size="23" textLength="58.8" lengthAdjust="spacingAndGlyphs" fill="#404040">0.010</text>
<text x="63.6" y="619.5" font-size="23" textLength="62.0" lengthAdjust="spacingAndGlyphs" fill="#404040">0.003</text>
<text x="286.9" y="648.5" font-size="23" textLength="27.2" lengthAdjust="spacingAndGlyphs" fill="#404040">0.1</text>
<text x="757.4" y="648.5" font-size="23" textLength="28.5" lengthAdjust="spacingAndGlyphs" fill="#404040">1.0</text>
<text x="1218.3" y="648.5" font-size="23" textLength="45.5" lengthAdjust="spacingAndGlyphs" fill="#404040">10.0</text>
<text x="202.8" y="181" font-size="20.5" fill="#1a1a1a" textLength="191.7" lengthAdjust="spacingAndGlyphs"><tspan font-style="italic">y</tspan> = −1.39 + 0.515 <tspan font-style="italic">x</tspan></text>
<text x="205.8" y="218.5" font-size="20.5" fill="#1a1a1a" textLength="191.7" lengthAdjust="spacingAndGlyphs"><tspan font-style="italic">R</tspan><tspan dy="-9" font-size="14">2</tspan><tspan dy="9"> = 0.65, </tspan><tspan font-style="italic">p</tspan> &lt; 0.001</text>
<g transform="translate(36.7,502.1) rotate(-90)" fill="#000" font-size="29.5">
<text x="0" y="0" textLength="13.8" lengthAdjust="spacingAndGlyphs">a</text>
<text x="17.6" y="6.5" font-size="20" textLength="11.5" lengthAdjust="spacingAndGlyphs">φ</text>
<path d="M51.5,-28.3 Q42.8,-11.8 51.5,4.7" fill="none" stroke="#000" stroke-width="2.9"/>
<text x="56.2" y="0" textLength="51.9" lengthAdjust="spacingAndGlyphs">443</text>
<path d="M114.3,-28.3 Q123.4,-11.8 114.3,4.7" fill="none" stroke="#000" stroke-width="2.9"/>
<path d="M145.5,-28.3 Q137.4,-11.8 145.5,4.7" fill="none" stroke="#000" stroke-width="2.9"/>
<text x="151.6" y="0" textLength="25.5" lengthAdjust="spacingAndGlyphs">m</text>
<text x="182.5" y="-15.5" font-size="20" textLength="22" lengthAdjust="spacingAndGlyphs">−1</text>
<path d="M210.9,-28.3 Q219.9,-11.8 210.9,4.7" fill="none" stroke="#000" stroke-width="2.9"/>
</g>
<g transform="translate(0,0)" fill="#000" font-size="29.5">
<text x="651" y="692.5" textLength="91" lengthAdjust="spacingAndGlyphs">[Chl-a]</text>
<path d="M764.2,664.5 Q754.7,680.5 764.2,696.5" fill="none" stroke="#000" stroke-width="2.9"/>
<text x="770.5" y="692.5" textLength="48.6" lengthAdjust="spacingAndGlyphs">mg</text>
<text x="832.8" y="692.5" textLength="26.3" lengthAdjust="spacingAndGlyphs">m</text>
<text x="864.8" y="676.5" font-size="20" textLength="24.8" lengthAdjust="spacingAndGlyphs">−3</text>
<path d="M896,664.5 Q905.4,680.5 896,696.5" fill="none" stroke="#000" stroke-width="2.9"/>
</g>
<line x1="141" x2="554.7" y1="1226.7" y2="1226.7" stroke="#ececec" stroke-width="1.5"/>
<line x1="141" x2="554.7" y1="1131.7" y2="1131.7" stroke="#ececec" stroke-width="1.5"/>
<line x1="141" x2="554.7" y1="1036.7" y2="1036.7" stroke="#ececec" stroke-width="1.5"/>
<line x1="141" x2="554.7" y1="941.7" y2="941.7" stroke="#ececec" stroke-width="1.5"/>
<line x1="141" x2="554.7" y1="846.7" y2="846.7" stroke="#ececec" stroke-width="1.5"/>
<line x1="141" x2="554.7" y1="1276.3" y2="1276.3" stroke="#dedede" stroke-width="1.5"/>
<line x1="141" x2="554.7" y1="1177.0" y2="1177.0" stroke="#dedede" stroke-width="1.5"/>
<line x1="141" x2="554.7" y1="1086.3" y2="1086.3" stroke="#dedede" stroke-width="1.5"/>
<line x1="141" x2="554.7" y1="987.0" y2="987.0" stroke="#dedede" stroke-width="1.5"/>
<line x1="141" x2="554.7" y1="896.3" y2="896.3" stroke="#dedede" stroke-width="1.5"/>
<line y1="829.6" y2="1283.0" x1="269.6" x2="269.6" stroke="#ececec" stroke-width="1.5"/>
<line y1="829.6" y2="1283.0" x1="422.7" x2="422.7" stroke="#ececec" stroke-width="1.5"/>
<line y1="829.6" y2="1283.0" x1="193.0" x2="193.0" stroke="#dedede" stroke-width="1.5"/>
<line y1="829.6" y2="1283.0" x1="346.1" x2="346.1" stroke="#dedede" stroke-width="1.5"/>
<line y1="829.6" y2="1283.0" x1="499.2" x2="499.2" stroke="#dedede" stroke-width="1.5"/>
<g fill="none" stroke-width="1.45" stroke-opacity="0.48">
<path stroke="#12a4dc" d="M393 1079h12v12h-12zM281 1162h12v12h-12zM491 1036h12v12h-12zM296 1119h12v12h-12zM400 1032h12v12h-12zM295 1139h12v12h-12zM425 1038h12v12h-12zM249 1166h12v12h-12zM217 1211h12v12h-12zM272 1111h12v12h-12zM477 994h12v12h-12zM453 1016h12v12h-12zM397 1040h12v12h-12zM258 1172h12v12h-12zM480 979h12v12h-12zM465 986h12v12h-12zM364 1095h12v12h-12zM265 1148h12v12h-12zM245 1188h12v12h-12zM414 1064h12v12h-12zM408 1048h12v12h-12zM362 1083h12v12h-12zM425 1047h12v12h-12zM418 1047h12v12h-12zM247 1198h12v12h-12zM461 1027h12v12h-12zM293 1109h12v12h-12zM378 1069h12v12h-12zM406 1010h12v12h-12zM461 993h12v12h-12zM395 1047h12v12h-12zM475 989h12v12h-12zM450 985h12v12h-12zM435 1009h12v12h-12zM293 1129h12v12h-12zM260 1136h12v12h-12zM501 961h12v12h-12zM372 1066h12v12h-12zM376 1104h12v12h-12zM482 990h12v12h-12zM303 1115h12v12h-12zM271 1129h12v12h-12zM477 1046h12v12h-12zM496 1032h12v12h-12zM362 1053h12v12h-12zM269 1115h12v12h-12zM458 1041h12v12h-12zM459 1006h12v12h-12zM418 1072h12v12h-12zM490 980h12v12h-12zM457 1024h12v12h-12zM270 1134h12v12h-12zM372 1062h12v12h-12zM366 1044h12v12h-12zM405 1083h12v12h-12zM456 985h12v12h-12zM435 989h12v12h-12zM331 1119h12v12h-12zM464 1000h12v12h-12zM307 1137h12v12h-12zM433 1009h12v12h-12zM411 1033h12v12h-12zM282 1102h12v12h-12zM446 1008h12v12h-12zM415 1046h12v12h-12zM357 1097h12v12h-12zM351 1094h12v12h-12zM211 1230h12v12h-12zM414 1039h12v12h-12zM494 972h12v12h-12zM479 984h12v12h-12zM469 1006h12v12h-12z"/>
<path stroke="#f99f12" d="M338 1070h12v12h-12zM277 1080h12v12h-12zM334 1052h12v12h-12zM310 1020h12v12h-12zM307 1054h12v12h-12zM241 1081h12v12h-12zM380 984h12v12h-12zM246 1109h12v12h-12zM322 1041h12v12h-12zM299 1029h12v12h-12zM301 1059h12v12h-12zM289 1045h12v12h-12zM322 1091h12v12h-12zM330 1044h12v12h-12zM247 1115h12v12h-12zM306 1080h12v12h-12zM321 1062h12v12h-12zM353 1018h12v12h-12zM273 1055h12v12h-12zM308 1070h12v12h-12zM340 1008h12v12h-12zM315 1097h12v12h-12zM305 1076h12v12h-12zM317 1052h12v12h-12zM294 1072h12v12h-12zM321 1026h12v12h-12zM283 1066h12v12h-12zM322 1013h12v12h-12zM255 1036h12v12h-12zM298 1091h12v12h-12zM315 1072h12v12h-12zM403 986h12v12h-12zM267 1089h12v12h-12zM243 1123h12v12h-12zM248 1159h12v12h-12zM276 1100h12v12h-12zM286 1124h12v12h-12zM255 1100h12v12h-12zM273 1119h12v12h-12zM247 1108h12v12h-12zM256 1110h12v12h-12zM341 1041h12v12h-12zM368 954h12v12h-12zM318 1071h12v12h-12zM231 1095h12v12h-12zM287 1098h12v12h-12zM343 1036h12v12h-12zM284 1021h12v12h-12zM304 1108h12v12h-12zM227 1122h12v12h-12zM281 1058h12v12h-12zM267 1083h12v12h-12zM387 977h12v12h-12zM279 1103h12v12h-12zM321 1027h12v12h-12zM251 1123h12v12h-12zM324 1035h12v12h-12zM216 1115h12v12h-12zM292 1071h12v12h-12zM285 1040h12v12h-12zM324 1050h12v12h-12zM254 1085h12v12h-12zM358 996h12v12h-12zM341 1026h12v12h-12zM328 1055h12v12h-12zM272 1124h12v12h-12zM322 1038h12v12h-12zM329 1038h12v12h-12zM314 1033h12v12h-12zM303 1063h12v12h-12zM330 1006h12v12h-12zM352 1048h12v12h-12zM312 1024h12v12h-12zM331 1065h12v12h-12zM324 1030h12v12h-12zM332 1051h12v12h-12zM320 1008h12v12h-12zM242 1119h12v12h-12zM324 1028h12v12h-12zM303 1040h12v12h-12zM371 1029h12v12h-12zM243 1097h12v12h-12zM321 1029h12v12h-12zM364 1032h12v12h-12zM239 1091h12v12h-12zM323 1044h12v12h-12zM341 1016h12v12h-12zM335 1046h12v12h-12zM304 1050h12v12h-12zM356 1033h12v12h-12zM333 1015h12v12h-12zM325 1038h12v12h-12zM325 1047h12v12h-12zM294 1071h12v12h-12zM303 1074h12v12h-12zM282 1072h12v12h-12zM316 1052h12v12h-12zM273 1122h12v12h-12zM279 1085h12v12h-12zM359 1021h12v12h-12zM285 1052h12v12h-12zM305 1046h12v12h-12zM342 1041h12v12h-12zM299 1051h12v12h-12zM214 1086h12v12h-12zM271 1081h12v12h-12zM287 1084h12v12h-12zM302 1066h12v12h-12zM252 1079h12v12h-12zM329 1044h12v12h-12zM264 1066h12v12h-12zM294 1095h12v12h-12zM391 965h12v12h-12zM237 1136h12v12h-12zM301 1070h12v12h-12zM328 1049h12v12h-12zM360 1011h12v12h-12zM284 1037h12v12h-12zM300 1054h12v12h-12zM304 1055h12v12h-12zM325 1028h12v12h-12zM276 1084h12v12h-12zM348 1045h12v12h-12zM254 1111h12v12h-12zM289 1058h12v12h-12zM296 1048h12v12h-12zM319 1065h12v12h-12zM305 1038h12v12h-12zM363 994h12v12h-12zM347 1022h12v12h-12zM324 1051h12v12h-12zM379 1008h12v12h-12zM344 1044h12v12h-12zM351 994h12v12h-12zM266 1097h12v12h-12zM332 1029h12v12h-12zM295 1074h12v12h-12zM269 1103h12v12h-12zM253 1107h12v12h-12zM315 1088h12v12h-12zM248 1092h12v12h-12zM353 988h12v12h-12zM331 1021h12v12h-12zM315 1044h12v12h-12zM217 1100h12v12h-12zM333 1046h12v12h-12zM300 1062h12v12h-12zM305 1027h12v12h-12zM342 1034h12v12h-12zM275 1096h12v12h-12zM282 1097h12v12h-12zM337 1026h12v12h-12zM325 1059h12v12h-12zM318 1023h12v12h-12zM324 1047h12v12h-12zM388 975h12v12h-12zM295 1088h12v12h-12zM305 1035h12v12h-12zM295 1081h12v12h-12zM300 1056h12v12h-12zM317 1058h12v12h-12zM287 1085h12v12h-12zM237 1126h12v12h-12zM272 1066h12v12h-12zM278 1067h12v12h-12zM282 1069h12v12h-12zM231 1109h12v12h-12zM326 1023h12v12h-12zM316 1067h12v12h-12zM383 993h12v12h-12zM327 1048h12v12h-12zM287 1066h12v12h-12zM281 1052h12v12h-12zM301 1071h12v12h-12zM328 1046h12v12h-12zM341 1044h12v12h-12zM355 1013h12v12h-12zM379 971h12v12h-12zM301 1069h12v12h-12zM295 1047h12v12h-12zM335 1023h12v12h-12zM339 1022h12v12h-12zM342 1031h12v12h-12zM297 1070h12v12h-12zM294 1070h12v12h-12zM336 1049h12v12h-12zM281 1105h12v12h-12zM294 1091h12v12h-12zM338 1026h12v12h-12zM280 1060h12v12h-12zM333 1032h12v12h-12zM352 1017h12v12h-12zM348 1009h12v12h-12zM324 1031h12v12h-12zM326 1046h12v12h-12zM318 1043h12v12h-12zM252 1120h12v12h-12zM314 1049h12v12h-12zM281 1065h12v12h-12zM321 1056h12v12h-12zM288 1068h12v12h-12zM276 1061h12v12h-12zM311 1022h12v12h-12zM331 1062h12v12h-12zM265 1091h12v12h-12zM283 1079h12v12h-12zM255 1082h12v12h-12zM374 999h12v12h-12zM295 1038h12v12h-12zM268 1071h12v12h-12zM314 1048h12v12h-12zM315 1068h12v12h-12zM245 1147h12v12h-12zM314 1042h12v12h-12zM302 1023h12v12h-12zM328 1058h12v12h-12zM247 1072h12v12h-12zM227 1178h12v12h-12zM348 1014h12v12h-12zM295 1060h12v12h-12zM314 1039h12v12h-12zM244 1090h12v12h-12zM310 1030h12v12h-12zM374 986h12v12h-12zM293 1072h12v12h-12zM264 1084h12v12h-12zM258 1106h12v12h-12zM311 1101h12v12h-12zM332 1032h12v12h-12zM310 1044h12v12h-12zM328 1035h12v12h-12zM275 1053h12v12h-12zM337 1034h12v12h-12zM284 1093h12v12h-12zM331 1034h12v12h-12zM327 1056h12v12h-12zM302 1046h12v12h-12zM315 1072h12v12h-12zM296 1053h12v12h-12zM296 1075h12v12h-12zM304 1035h12v12h-12z"/>
<path stroke="#c03a36" d="M228 1150h12v12h-12zM218 1161h12v12h-12zM198 1163h12v12h-12z"/>
<path stroke="#0c1f46" d="M348 1099h12v12h-12zM235 1080h12v12h-12z"/>
<path stroke="#12a4dc" d="M369 1036h12v12h-12zM305 1106h12v12h-12zM477 1013h12v12h-12zM486 1004h12v12h-12zM447 1009h12v12h-12zM366 1050h12v12h-12zM419 1033h12v12h-12zM483 998h12v12h-12zM462 1001h12v12h-12zM233 1200h12v12h-12zM410 1033h12v12h-12zM383 1086h12v12h-12zM496 967h12v12h-12zM464 991h12v12h-12zM361 1077h12v12h-12zM311 1133h12v12h-12zM455 1006h12v12h-12zM282 1147h12v12h-12zM303 1128h12v12h-12zM433 1028h12v12h-12zM239 1150h12v12h-12zM410 1072h12v12h-12zM393 1052h12v12h-12zM311 1105h12v12h-12zM375 1106h12v12h-12zM349 1084h12v12h-12zM252 1119h12v12h-12zM426 1035h12v12h-12zM240 1135h12v12h-12zM447 1040h12v12h-12zM406 1040h12v12h-12zM394 1018h12v12h-12zM314 1112h12v12h-12zM424 1023h12v12h-12zM306 1097h12v12h-12zM488 993h12v12h-12zM247 1149h12v12h-12zM202 1257h12v12h-12zM363 1115h12v12h-12zM420 1018h12v12h-12zM431 1086h12v12h-12zM440 1045h12v12h-12zM195 1237h12v12h-12zM400 1058h12v12h-12zM401 1066h12v12h-12zM472 970h12v12h-12zM374 1072h12v12h-12zM353 1084h12v12h-12zM256 1183h12v12h-12zM483 985h12v12h-12zM293 1095h12v12h-12zM294 1181h12v12h-12zM242 1171h12v12h-12zM267 1125h12v12h-12zM509 1048h12v12h-12z"/>
<path stroke="#f99f12" d="M348 1055h12v12h-12zM312 1052h12v12h-12zM331 1043h12v12h-12zM324 1013h12v12h-12zM336 1006h12v12h-12zM284 1054h12v12h-12zM322 1057h12v12h-12zM284 1079h12v12h-12zM295 1044h12v12h-12zM246 1152h12v12h-12zM329 1056h12v12h-12zM340 1015h12v12h-12zM263 1061h12v12h-12zM312 1042h12v12h-12zM309 1018h12v12h-12zM324 1009h12v12h-12zM345 1056h12v12h-12zM305 1047h12v12h-12zM287 1091h12v12h-12zM296 1050h12v12h-12zM331 998h12v12h-12zM310 1064h12v12h-12zM223 1120h12v12h-12zM223 1130h12v12h-12zM262 1123h12v12h-12zM287 1074h12v12h-12zM384 1034h12v12h-12zM284 1032h12v12h-12zM331 1039h12v12h-12zM343 999h12v12h-12zM356 997h12v12h-12zM377 1009h12v12h-12zM356 1038h12v12h-12zM250 1114h12v12h-12zM330 1048h12v12h-12zM308 1067h12v12h-12zM328 1042h12v12h-12zM322 1014h12v12h-12zM304 1098h12v12h-12zM268 1105h12v12h-12zM196 1155h12v12h-12zM253 1129h12v12h-12zM369 1024h12v12h-12zM373 1001h12v12h-12zM307 1060h12v12h-12zM270 1082h12v12h-12zM323 1070h12v12h-12zM365 1008h12v12h-12zM306 1085h12v12h-12zM327 1049h12v12h-12zM350 986h12v12h-12zM261 1109h12v12h-12zM370 1021h12v12h-12zM285 1106h12v12h-12zM340 1054h12v12h-12zM278 1089h12v12h-12zM305 1083h12v12h-12zM351 1054h12v12h-12zM346 992h12v12h-12zM316 1054h12v12h-12zM288 1084h12v12h-12zM371 1045h12v12h-12zM245 1162h12v12h-12zM305 1031h12v12h-12zM304 1053h12v12h-12zM301 1057h12v12h-12zM346 1019h12v12h-12zM328 991h12v12h-12zM304 1065h12v12h-12zM352 1006h12v12h-12zM267 1066h12v12h-12zM366 1020h12v12h-12zM324 1038h12v12h-12zM307 1045h12v12h-12zM306 1042h12v12h-12zM328 1048h12v12h-12zM380 980h12v12h-12zM369 988h12v12h-12zM345 1021h12v12h-12zM307 1060h12v12h-12zM291 1095h12v12h-12zM327 1049h12v12h-12zM300 1039h12v12h-12zM302 1018h12v12h-12zM247 1128h12v12h-12zM304 1081h12v12h-12zM276 1100h12v12h-12zM304 1045h12v12h-12zM323 1018h12v12h-12zM244 1079h12v12h-12zM359 1009h12v12h-12zM333 1009h12v12h-12zM313 1058h12v12h-12zM315 1020h12v12h-12zM346 1041h12v12h-12zM279 1085h12v12h-12zM337 1069h12v12h-12zM279 1086h12v12h-12zM356 976h12v12h-12zM331 1029h12v12h-12zM274 1049h12v12h-12zM312 1072h12v12h-12zM307 1047h12v12h-12zM307 1073h12v12h-12zM268 1067h12v12h-12zM331 1037h12v12h-12zM342 1018h12v12h-12zM381 1017h12v12h-12zM259 1129h12v12h-12zM327 1057h12v12h-12zM301 1041h12v12h-12zM280 1059h12v12h-12zM396 1020h12v12h-12zM331 1031h12v12h-12zM286 1077h12v12h-12zM334 1038h12v12h-12zM368 1025h12v12h-12zM318 1070h12v12h-12zM356 1030h12v12h-12zM363 979h12v12h-12zM309 1069h12v12h-12zM268 1066h12v12h-12zM329 1038h12v12h-12zM311 1019h12v12h-12zM304 1052h12v12h-12zM289 1060h12v12h-12zM361 990h12v12h-12zM259 1095h12v12h-12zM310 1020h12v12h-12zM333 1035h12v12h-12zM341 1047h12v12h-12zM307 1092h12v12h-12zM283 1048h12v12h-12zM290 1105h12v12h-12zM345 1005h12v12h-12zM275 1092h12v12h-12zM330 1026h12v12h-12zM321 1032h12v12h-12zM296 1054h12v12h-12zM349 1011h12v12h-12zM273 1063h12v12h-12zM281 1085h12v12h-12zM303 1075h12v12h-12zM320 1042h12v12h-12zM306 1079h12v12h-12zM355 1042h12v12h-12zM296 1068h12v12h-12zM376 994h12v12h-12zM279 1102h12v12h-12zM319 1042h12v12h-12zM310 1072h12v12h-12zM292 1073h12v12h-12zM243 1087h12v12h-12zM273 1079h12v12h-12zM272 1059h12v12h-12zM277 1118h12v12h-12zM353 1005h12v12h-12zM269 1072h12v12h-12zM299 1086h12v12h-12zM269 1064h12v12h-12zM341 1058h12v12h-12zM311 1064h12v12h-12zM277 1123h12v12h-12zM288 1070h12v12h-12zM276 1074h12v12h-12zM270 1056h12v12h-12zM303 1054h12v12h-12zM311 1042h12v12h-12zM279 1084h12v12h-12zM355 1019h12v12h-12zM361 1033h12v12h-12zM313 1086h12v12h-12zM385 986h12v12h-12zM360 1016h12v12h-12zM278 1076h12v12h-12zM292 1062h12v12h-12zM333 1021h12v12h-12zM301 1033h12v12h-12zM374 1019h12v12h-12zM257 1048h12v12h-12zM306 1058h12v12h-12zM300 1076h12v12h-12zM270 1084h12v12h-12zM281 1050h12v12h-12zM272 1074h12v12h-12zM297 1026h12v12h-12zM319 1028h12v12h-12zM255 1125h12v12h-12zM354 992h12v12h-12zM346 998h12v12h-12zM330 1030h12v12h-12zM337 1022h12v12h-12zM315 1039h12v12h-12zM298 1069h12v12h-12zM334 1036h12v12h-12zM328 1045h12v12h-12zM346 1059h12v12h-12zM237 1063h12v12h-12zM350 1041h12v12h-12zM331 1036h12v12h-12zM314 1044h12v12h-12zM350 1008h12v12h-12zM304 1056h12v12h-12zM292 1053h12v12h-12zM274 1122h12v12h-12zM320 1028h12v12h-12zM341 1041h12v12h-12zM313 1066h12v12h-12zM325 1027h12v12h-12zM259 1096h12v12h-12zM301 1047h12v12h-12zM346 1006h12v12h-12zM386 969h12v12h-12zM284 1103h12v12h-12zM328 1025h12v12h-12zM395 935h12v12h-12zM294 1069h12v12h-12zM267 1050h12v12h-12zM281 1058h12v12h-12zM317 1036h12v12h-12zM308 1078h12v12h-12zM308 1052h12v12h-12zM220 1114h12v12h-12zM366 1031h12v12h-12zM273 1042h12v12h-12zM274 1106h12v12h-12zM324 1014h12v12h-12zM333 1044h12v12h-12zM402 985h12v12h-12zM263 1099h12v12h-12z"/>
<path stroke="#c03a36" d="M205 1163h12v12h-12zM226 1156h12v12h-12z"/>
<path stroke="#0c1f46" d="M326 1137h12v12h-12z"/>
<path stroke="#12a4dc" d="M372 1068h12v12h-12zM350 1091h12v12h-12zM418 1038h12v12h-12zM432 1037h12v12h-12zM294 1142h12v12h-12zM363 1054h12v12h-12zM329 1088h12v12h-12zM462 1023h12v12h-12zM434 1024h12v12h-12zM506 986h12v12h-12zM272 1150h12v12h-12zM341 1100h12v12h-12zM440 1007h12v12h-12zM424 1031h12v12h-12zM498 966h12v12h-12zM473 1000h12v12h-12zM406 1062h12v12h-12zM339 1108h12v12h-12zM368 1043h12v12h-12zM481 993h12v12h-12zM424 1030h12v12h-12zM361 1060h12v12h-12zM291 1147h12v12h-12zM350 1098h12v12h-12zM245 1170h12v12h-12zM459 1048h12v12h-12zM319 1094h12v12h-12zM464 967h12v12h-12zM383 1080h12v12h-12zM416 1045h12v12h-12zM229 1219h12v12h-12zM408 1002h12v12h-12zM473 1029h12v12h-12zM368 1066h12v12h-12zM434 1021h12v12h-12zM295 1129h12v12h-12zM485 1011h12v12h-12zM444 1003h12v12h-12zM348 1130h12v12h-12zM456 1008h12v12h-12zM308 1087h12v12h-12zM233 1189h12v12h-12zM412 1056h12v12h-12zM368 1079h12v12h-12zM432 1058h12v12h-12zM513 1038h12v12h-12zM366 1095h12v12h-12zM382 1043h12v12h-12zM395 1054h12v12h-12zM471 997h12v12h-12zM373 1053h12v12h-12zM310 1096h12v12h-12zM402 1015h12v12h-12zM418 1015h12v12h-12zM461 1005h12v12h-12zM388 1038h12v12h-12zM394 1042h12v12h-12zM393 1072h12v12h-12zM342 1127h12v12h-12zM457 1012h12v12h-12zM332 1131h12v12h-12zM363 1087h12v12h-12zM469 1017h12v12h-12zM290 1145h12v12h-12zM305 1144h12v12h-12zM250 1199h12v12h-12zM396 1044h12v12h-12zM284 1182h12v12h-12zM475 1025h12v12h-12zM195 1224h12v12h-12zM408 1058h12v12h-12zM456 1009h12v12h-12zM336 1097h12v12h-12zM417 1043h12v12h-12zM416 1017h12v12h-12zM436 1031h12v12h-12z"/>
<path stroke="#f99f12" d="M315 999h12v12h-12zM374 1023h12v12h-12zM297 1092h12v12h-12zM296 1083h12v12h-12zM346 1016h12v12h-12zM328 1048h12v12h-12zM330 1057h12v12h-12zM318 1071h12v12h-12zM349 1007h12v12h-12zM277 1092h12v12h-12zM341 1043h12v12h-12zM241 1129h12v12h-12zM323 1018h12v12h-12zM243 1086h12v12h-12zM388 976h12v12h-12zM283 1071h12v12h-12zM255 1094h12v12h-12zM308 1044h12v12h-12zM303 1043h12v12h-12zM310 1065h12v12h-12zM354 1001h12v12h-12zM284 1018h12v12h-12zM268 1075h12v12h-12zM330 1048h12v12h-12zM277 1066h12v12h-12zM298 1075h12v12h-12zM304 1071h12v12h-12zM383 1003h12v12h-12zM286 1072h12v12h-12zM294 1072h12v12h-12zM378 1024h12v12h-12zM277 1108h12v12h-12zM290 1068h12v12h-12zM290 1120h12v12h-12zM291 1026h12v12h-12zM311 1020h12v12h-12zM358 1033h12v12h-12zM266 1054h12v12h-12zM285 1032h12v12h-12zM267 1134h12v12h-12zM372 971h12v12h-12zM277 1085h12v12h-12zM241 1111h12v12h-12zM330 1017h12v12h-12zM269 1068h12v12h-12zM317 1010h12v12h-12zM283 1085h12v12h-12zM283 1040h12v12h-12zM276 1065h12v12h-12zM306 1056h12v12h-12zM262 1121h12v12h-12zM274 1077h12v12h-12zM294 1027h12v12h-12zM313 1033h12v12h-12zM248 1099h12v12h-12zM283 1089h12v12h-12zM353 1004h12v12h-12zM363 1004h12v12h-12zM291 1068h12v12h-12zM303 1035h12v12h-12zM367 984h12v12h-12zM396 983h12v12h-12zM242 1127h12v12h-12zM328 1039h12v12h-12zM267 1083h12v12h-12zM315 1038h12v12h-12zM309 1034h12v12h-12zM376 961h12v12h-12zM365 1018h12v12h-12zM267 1051h12v12h-12zM309 1069h12v12h-12zM315 1079h12v12h-12zM290 1082h12v12h-12zM322 1071h12v12h-12zM312 1059h12v12h-12zM313 1042h12v12h-12zM265 1113h12v12h-12zM335 1070h12v12h-12zM364 997h12v12h-12zM378 1004h12v12h-12zM234 1103h12v12h-12zM273 1107h12v12h-12zM274 1065h12v12h-12zM245 1116h12v12h-12zM408 983h12v12h-12zM296 1060h12v12h-12zM332 1074h12v12h-12zM360 975h12v12h-12zM318 1036h12v12h-12zM341 1045h12v12h-12zM349 1021h12v12h-12zM263 1108h12v12h-12zM284 1105h12v12h-12zM232 1141h12v12h-12zM341 1056h12v12h-12zM283 1108h12v12h-12zM334 1007h12v12h-12zM272 1100h12v12h-12zM324 1026h12v12h-12zM309 1065h12v12h-12zM295 1071h12v12h-12zM350 1013h12v12h-12zM262 1102h12v12h-12zM332 1042h12v12h-12zM282 1064h12v12h-12zM277 1067h12v12h-12zM282 1086h12v12h-12zM268 1097h12v12h-12zM311 1024h12v12h-12zM266 1098h12v12h-12zM303 1055h12v12h-12zM282 1087h12v12h-12zM297 1048h12v12h-12zM329 1023h12v12h-12zM292 1030h12v12h-12zM275 1086h12v12h-12zM316 1020h12v12h-12zM296 1076h12v12h-12zM248 1094h12v12h-12zM227 1105h12v12h-12zM298 1050h12v12h-12zM344 1008h12v12h-12zM217 1132h12v12h-12zM333 1016h12v12h-12zM279 1118h12v12h-12zM282 1063h12v12h-12zM310 1002h12v12h-12zM299 1065h12v12h-12zM290 1073h12v12h-12zM316 1040h12v12h-12zM285 1069h12v12h-12zM354 1011h12v12h-12zM321 1068h12v12h-12zM365 998h12v12h-12zM276 1080h12v12h-12zM257 1099h12v12h-12zM362 993h12v12h-12zM350 990h12v12h-12zM309 1094h12v12h-12zM288 1097h12v12h-12zM299 1083h12v12h-12zM323 1041h12v12h-12zM316 1070h12v12h-12zM273 1053h12v12h-12zM264 1074h12v12h-12zM324 1044h12v12h-12zM367 1009h12v12h-12zM343 1030h12v12h-12zM338 1052h12v12h-12zM298 1033h12v12h-12zM308 1069h12v12h-12zM326 1039h12v12h-12zM331 1054h12v12h-12zM339 1039h12v12h-12zM295 1095h12v12h-12zM327 1004h12v12h-12zM281 1070h12v12h-12zM308 1045h12v12h-12zM293 1043h12v12h-12zM254 1123h12v12h-12zM263 1098h12v12h-12zM287 1032h12v12h-12zM396 987h12v12h-12zM256 1092h12v12h-12zM305 1052h12v12h-12zM334 1031h12v12h-12zM288 1080h12v12h-12zM299 1112h12v12h-12zM259 1079h12v12h-12zM303 1066h12v12h-12zM322 1073h12v12h-12zM242 1113h12v12h-12zM273 1100h12v12h-12zM271 1108h12v12h-12zM372 1007h12v12h-12zM278 1048h12v12h-12zM312 1079h12v12h-12zM251 1073h12v12h-12zM345 1058h12v12h-12zM271 1057h12v12h-12zM273 1079h12v12h-12zM298 1042h12v12h-12zM309 1046h12v12h-12zM347 1068h12v12h-12zM315 1081h12v12h-12zM262 1085h12v12h-12zM276 1106h12v12h-12zM346 1049h12v12h-12zM350 984h12v12h-12zM301 1072h12v12h-12zM324 1043h12v12h-12zM360 986h12v12h-12zM300 1057h12v12h-12zM332 1031h12v12h-12zM273 1095h12v12h-12zM293 1058h12v12h-12zM244 1117h12v12h-12zM301 1057h12v12h-12zM240 1122h12v12h-12zM261 1073h12v12h-12zM316 1059h12v12h-12zM275 1127h12v12h-12zM299 1082h12v12h-12zM246 1061h12v12h-12zM243 1079h12v12h-12zM354 1016h12v12h-12zM309 1042h12v12h-12zM262 1082h12v12h-12zM311 1085h12v12h-12zM282 1097h12v12h-12zM326 1045h12v12h-12zM366 986h12v12h-12zM333 1017h12v12h-12zM300 1059h12v12h-12zM277 1080h12v12h-12zM312 1052h12v12h-12zM353 1004h12v12h-12zM367 981h12v12h-12zM310 1049h12v12h-12zM278 1065h12v12h-12zM270 1095h12v12h-12zM383 1011h12v12h-12zM295 1057h12v12h-12zM347 1030h12v12h-12zM294 1067h12v12h-12zM319 1053h12v12h-12zM319 1028h12v12h-12zM337 1001h12v12h-12zM278 1073h12v12h-12zM292 1077h12v12h-12zM230 1135h12v12h-12zM290 1094h12v12h-12zM326 1034h12v12h-12zM318 1046h12v12h-12zM321 1027h12v12h-12zM331 1028h12v12h-12zM364 1006h12v12h-12zM286 1074h12v12h-12zM330 1057h12v12h-12zM329 995h12v12h-12z"/>
<path stroke="#c03a36" d="M212 1155h12v12h-12zM232 1153h12v12h-12zM223 1155h12v12h-12z"/>
<path stroke="#0c1f46" d="M279 1124h12v12h-12z"/>
<path stroke="#12a4dc" d="M214 1166h12v12h-12zM498 952h12v12h-12zM500 1007h12v12h-12zM442 1069h12v12h-12zM391 1074h12v12h-12zM380 1077h12v12h-12zM422 1029h12v12h-12zM466 1013h12v12h-12zM318 1124h12v12h-12zM337 1084h12v12h-12zM432 1037h12v12h-12zM407 1047h12v12h-12zM452 1044h12v12h-12zM363 1082h12v12h-12zM501 992h12v12h-12zM460 1017h12v12h-12zM374 1100h12v12h-12zM310 1118h12v12h-12zM308 1116h12v12h-12zM256 1194h12v12h-12zM414 1070h12v12h-12zM425 1032h12v12h-12zM293 1139h12v12h-12zM322 1102h12v12h-12zM455 1007h12v12h-12zM408 1089h12v12h-12zM310 1103h12v12h-12zM473 1013h12v12h-12zM450 1018h12v12h-12zM310 1162h12v12h-12zM482 986h12v12h-12zM276 1150h12v12h-12zM495 998h12v12h-12zM333 1081h12v12h-12zM317 1076h12v12h-12zM336 1122h12v12h-12zM502 995h12v12h-12zM293 1135h12v12h-12zM376 1064h12v12h-12zM432 1051h12v12h-12zM498 1006h12v12h-12zM299 1119h12v12h-12zM463 1019h12v12h-12zM432 1030h12v12h-12zM499 978h12v12h-12zM311 1107h12v12h-12zM386 1075h12v12h-12zM431 1076h12v12h-12zM213 1181h12v12h-12zM240 1183h12v12h-12zM512 965h12v12h-12zM374 1061h12v12h-12zM405 1041h12v12h-12zM482 1026h12v12h-12zM383 1045h12v12h-12zM470 998h12v12h-12zM364 1070h12v12h-12zM406 1049h12v12h-12zM453 1002h12v12h-12zM246 1172h12v12h-12zM404 1029h12v12h-12zM486 966h12v12h-12zM448 1027h12v12h-12zM459 997h12v12h-12zM315 1123h12v12h-12zM255 1201h12v12h-12zM400 1034h12v12h-12zM504 977h12v12h-12zM206 1185h12v12h-12zM476 998h12v12h-12zM471 1017h12v12h-12zM285 1123h12v12h-12zM400 1055h12v12h-12zM458 979h12v12h-12zM436 1003h12v12h-12zM400 1028h12v12h-12zM501 980h12v12h-12zM511 928h12v12h-12zM321 1122h12v12h-12zM441 982h12v12h-12zM220 1175h12v12h-12zM431 1032h12v12h-12zM280 1108h12v12h-12zM447 1039h12v12h-12z"/>
<path stroke="#f99f12" d="M307 1046h12v12h-12zM315 1046h12v12h-12zM340 1016h12v12h-12zM282 1108h12v12h-12zM348 1032h12v12h-12zM346 1045h12v12h-12zM284 1117h12v12h-12zM316 1023h12v12h-12zM283 1085h12v12h-12zM270 1060h12v12h-12zM349 1024h12v12h-12zM336 998h12v12h-12zM236 1072h12v12h-12zM247 1062h12v12h-12zM323 1035h12v12h-12zM348 1038h12v12h-12zM342 1033h12v12h-12zM277 1061h12v12h-12zM270 1036h12v12h-12zM308 1051h12v12h-12zM390 996h12v12h-12zM322 1053h12v12h-12zM269 1065h12v12h-12zM322 1088h12v12h-12zM354 1004h12v12h-12zM278 1042h12v12h-12zM297 1047h12v12h-12zM250 1077h12v12h-12zM305 1099h12v12h-12zM321 1019h12v12h-12zM283 1055h12v12h-12zM284 1044h12v12h-12zM257 1083h12v12h-12zM306 1090h12v12h-12zM296 1049h12v12h-12zM365 1015h12v12h-12zM329 1055h12v12h-12zM316 1071h12v12h-12zM256 1121h12v12h-12zM353 1004h12v12h-12zM312 1031h12v12h-12zM310 1028h12v12h-12zM350 1024h12v12h-12zM323 1020h12v12h-12zM330 1034h12v12h-12zM333 1017h12v12h-12zM304 1012h12v12h-12zM282 1054h12v12h-12zM344 1057h12v12h-12zM275 1060h12v12h-12zM266 1079h12v12h-12zM430 936h12v12h-12zM351 1040h12v12h-12zM360 1031h12v12h-12zM277 1123h12v12h-12zM215 1123h12v12h-12zM297 1010h12v12h-12zM248 1122h12v12h-12zM349 1016h12v12h-12zM257 1123h12v12h-12zM347 1061h12v12h-12zM292 1055h12v12h-12zM282 1047h12v12h-12zM322 1023h12v12h-12zM316 1070h12v12h-12zM303 1039h12v12h-12zM308 1080h12v12h-12zM295 1055h12v12h-12zM298 1042h12v12h-12zM240 1119h12v12h-12zM304 1085h12v12h-12zM255 1107h12v12h-12zM331 1065h12v12h-12zM312 1039h12v12h-12zM334 1018h12v12h-12zM360 982h12v12h-12zM353 997h12v12h-12zM267 1082h12v12h-12zM282 1050h12v12h-12zM281 1106h12v12h-12zM269 1095h12v12h-12zM275 1057h12v12h-12zM312 1054h12v12h-12zM359 996h12v12h-12zM385 978h12v12h-12zM256 1095h12v12h-12zM288 1074h12v12h-12zM268 1127h12v12h-12zM328 1048h12v12h-12zM315 1056h12v12h-12zM323 1059h12v12h-12zM271 1076h12v12h-12zM337 1041h12v12h-12zM301 1059h12v12h-12zM298 1048h12v12h-12zM314 1031h12v12h-12zM264 1117h12v12h-12zM276 1051h12v12h-12zM359 1023h12v12h-12zM282 1077h12v12h-12zM315 1066h12v12h-12zM310 1033h12v12h-12zM351 1020h12v12h-12zM312 1033h12v12h-12zM288 1068h12v12h-12zM338 1000h12v12h-12zM298 1059h12v12h-12zM292 1074h12v12h-12zM279 1087h12v12h-12zM351 1039h12v12h-12zM324 1035h12v12h-12zM260 1112h12v12h-12zM249 1123h12v12h-12zM335 1036h12v12h-12zM265 1061h12v12h-12zM322 1046h12v12h-12zM230 1122h12v12h-12zM283 1076h12v12h-12zM392 1009h12v12h-12zM352 1011h12v12h-12zM338 1009h12v12h-12zM246 1068h12v12h-12zM361 987h12v12h-12zM285 1083h12v12h-12zM349 1025h12v12h-12zM306 1030h12v12h-12zM293 1087h12v12h-12zM346 1017h12v12h-12zM335 1010h12v12h-12zM333 1064h12v12h-12zM246 1100h12v12h-12zM306 1071h12v12h-12zM292 1082h12v12h-12zM339 1031h12v12h-12zM312 1035h12v12h-12zM359 1045h12v12h-12zM301 1051h12v12h-12zM318 1082h12v12h-12zM340 1006h12v12h-12zM350 1036h12v12h-12zM310 1032h12v12h-12zM280 1088h12v12h-12zM346 1030h12v12h-12zM357 1010h12v12h-12zM309 1037h12v12h-12zM348 1013h12v12h-12zM303 1042h12v12h-12zM297 1069h12v12h-12zM214 1093h12v12h-12zM341 1017h12v12h-12zM308 1086h12v12h-12zM347 1044h12v12h-12zM334 1033h12v12h-12zM270 1087h12v12h-12zM272 1049h12v12h-12zM294 1066h12v12h-12zM326 1033h12v12h-12zM356 1008h12v12h-12zM333 1081h12v12h-12zM233 1102h12v12h-12zM301 1037h12v12h-12zM299 1033h12v12h-12zM280 1084h12v12h-12zM302 1102h12v12h-12zM275 1080h12v12h-12zM264 1105h12v12h-12zM271 1093h12v12h-12zM315 1040h12v12h-12zM311 1022h12v12h-12zM305 1029h12v12h-12zM321 1062h12v12h-12zM278 1047h12v12h-12zM333 1025h12v12h-12zM291 1064h12v12h-12zM249 1098h12v12h-12zM280 1052h12v12h-12zM334 1056h12v12h-12zM275 1028h12v12h-12zM345 1049h12v12h-12zM352 1025h12v12h-12zM251 1089h12v12h-12zM346 1020h12v12h-12zM276 1081h12v12h-12zM360 1018h12v12h-12zM324 1056h12v12h-12zM298 1113h12v12h-12zM262 1099h12v12h-12zM284 1062h12v12h-12zM275 1080h12v12h-12zM326 1075h12v12h-12zM347 1009h12v12h-12zM316 1067h12v12h-12zM250 1121h12v12h-12zM287 1065h12v12h-12zM282 1059h12v12h-12zM334 1055h12v12h-12zM235 1114h12v12h-12zM354 1004h12v12h-12zM307 1064h12v12h-12zM268 1097h12v12h-12zM324 1045h12v12h-12zM280 1107h12v12h-12zM263 1094h12v12h-12zM323 1003h12v12h-12zM257 1076h12v12h-12zM317 1040h12v12h-12zM281 1054h12v12h-12zM315 1056h12v12h-12zM308 1062h12v12h-12zM212 1071h12v12h-12zM308 1058h12v12h-12zM331 1056h12v12h-12zM257 1095h12v12h-12zM392 983h12v12h-12zM248 1098h12v12h-12zM331 1052h12v12h-12zM254 1102h12v12h-12zM262 1096h12v12h-12zM321 1037h12v12h-12zM411 1009h12v12h-12zM363 1014h12v12h-12zM290 1071h12v12h-12zM211 1126h12v12h-12zM335 1040h12v12h-12zM291 1102h12v12h-12zM324 1040h12v12h-12zM302 1051h12v12h-12z"/>
<path stroke="#c03a36" d="M198 1167h12v12h-12zM215 1168h12v12h-12z"/>
<path stroke="#0c1f46" d="M310 1105h12v12h-12zM225 1162h12v12h-12zM253 1171h12v12h-12z"/>
<path stroke="#12a4dc" d="M487 1022h12v12h-12zM219 1247h12v12h-12zM397 1031h12v12h-12zM375 1071h12v12h-12zM482 993h12v12h-12zM361 1084h12v12h-12zM391 1101h12v12h-12zM479 984h12v12h-12zM385 1077h12v12h-12zM442 1028h12v12h-12zM512 995h12v12h-12zM400 1037h12v12h-12zM505 945h12v12h-12zM300 1136h12v12h-12zM289 1131h12v12h-12zM410 1029h12v12h-12zM413 1027h12v12h-12zM512 998h12v12h-12zM328 1084h12v12h-12zM401 1030h12v12h-12zM433 1050h12v12h-12zM291 1113h12v12h-12zM426 1008h12v12h-12zM396 1049h12v12h-12zM473 918h12v12h-12zM363 1075h12v12h-12zM464 1009h12v12h-12zM235 1134h12v12h-12zM330 1125h12v12h-12zM356 1081h12v12h-12zM419 1041h12v12h-12zM427 1029h12v12h-12zM399 1060h12v12h-12zM492 985h12v12h-12zM348 1143h12v12h-12zM378 1021h12v12h-12zM304 1135h12v12h-12zM403 1059h12v12h-12zM292 1137h12v12h-12zM300 1144h12v12h-12zM506 1019h12v12h-12zM391 1040h12v12h-12zM334 1087h12v12h-12zM441 1052h12v12h-12zM502 1000h12v12h-12zM442 1022h12v12h-12zM273 1111h12v12h-12zM467 1010h12v12h-12zM371 1046h12v12h-12zM437 1007h12v12h-12zM289 1130h12v12h-12zM486 992h12v12h-12z"/>
<path stroke="#f99f12" d="M274 1112h12v12h-12zM312 1014h12v12h-12zM351 1018h12v12h-12zM349 1035h12v12h-12zM333 1041h12v12h-12zM320 1038h12v12h-12zM301 1079h12v12h-12zM302 1054h12v12h-12zM310 1072h12v12h-12zM208 1100h12v12h-12zM352 1032h12v12h-12zM310 1046h12v12h-12zM259 1143h12v12h-12zM245 1096h12v12h-12zM297 1075h12v12h-12zM319 1057h12v12h-12zM339 1012h12v12h-12zM312 1062h12v12h-12zM269 1061h12v12h-12zM236 1126h12v12h-12zM322 1013h12v12h-12zM225 1038h12v12h-12zM315 1028h12v12h-12zM319 1031h12v12h-12zM245 1100h12v12h-12zM335 1032h12v12h-12zM353 1012h12v12h-12zM305 1028h12v12h-12zM373 1015h12v12h-12zM257 1097h12v12h-12zM278 1090h12v12h-12zM355 1016h12v12h-12zM322 1033h12v12h-12zM328 1049h12v12h-12zM284 1118h12v12h-12zM273 1057h12v12h-12zM277 1076h12v12h-12zM320 1042h12v12h-12zM345 1001h12v12h-12zM329 1032h12v12h-12zM257 1085h12v12h-12zM257 1063h12v12h-12zM297 1070h12v12h-12zM324 1022h12v12h-12zM295 1049h12v12h-12zM282 1085h12v12h-12zM344 1030h12v12h-12zM306 1072h12v12h-12zM312 1023h12v12h-12zM342 1052h12v12h-12zM364 1004h12v12h-12zM281 1076h12v12h-12zM318 1054h12v12h-12zM307 1060h12v12h-12zM245 1111h12v12h-12zM317 1064h12v12h-12zM328 1018h12v12h-12zM368 1025h12v12h-12zM288 1117h12v12h-12zM332 1028h12v12h-12zM361 1000h12v12h-12zM245 1101h12v12h-12zM373 996h12v12h-12zM324 1030h12v12h-12zM281 1110h12v12h-12zM281 1045h12v12h-12zM253 1098h12v12h-12zM342 983h12v12h-12zM323 1012h12v12h-12zM316 1064h12v12h-12zM316 1003h12v12h-12zM242 1055h12v12h-12zM338 1068h12v12h-12zM311 1091h12v12h-12zM308 1043h12v12h-12zM227 1038h12v12h-12zM355 992h12v12h-12zM275 1082h12v12h-12zM273 1063h12v12h-12zM315 1079h12v12h-12zM248 1126h12v12h-12zM284 1065h12v12h-12zM350 997h12v12h-12zM359 1027h12v12h-12zM341 1031h12v12h-12zM310 1057h12v12h-12zM328 999h12v12h-12zM380 983h12v12h-12zM322 1063h12v12h-12zM297 1041h12v12h-12zM340 1005h12v12h-12zM306 1066h12v12h-12zM318 1054h12v12h-12zM264 1075h12v12h-12zM349 1038h12v12h-12zM334 1027h12v12h-12zM317 1073h12v12h-12zM280 1079h12v12h-12zM390 986h12v12h-12zM266 1093h12v12h-12zM309 1060h12v12h-12zM291 1060h12v12h-12zM255 1070h12v12h-12zM280 1055h12v12h-12zM246 1137h12v12h-12zM356 1000h12v12h-12zM296 1114h12v12h-12zM321 1021h12v12h-12zM305 1046h12v12h-12zM335 1050h12v12h-12zM354 1012h12v12h-12zM284 1063h12v12h-12zM257 1114h12v12h-12zM321 1011h12v12h-12zM296 1084h12v12h-12zM305 1055h12v12h-12zM380 999h12v12h-12zM343 1013h12v12h-12zM319 1034h12v12h-12zM227 1132h12v12h-12zM254 1079h12v12h-12zM285 1042h12v12h-12zM296 1055h12v12h-12zM309 1061h12v12h-12zM321 1021h12v12h-12zM207 1125h12v12h-12zM315 1068h12v12h-12zM246 1080h12v12h-12zM285 1080h12v12h-12zM277 1081h12v12h-12zM310 1052h12v12h-12zM220 1122h12v12h-12zM316 1036h12v12h-12zM320 1052h12v12h-12zM273 1102h12v12h-12zM266 1082h12v12h-12zM315 1018h12v12h-12zM227 1135h12v12h-12zM339 1049h12v12h-12zM256 1086h12v12h-12zM331 1028h12v12h-12zM326 1066h12v12h-12zM252 1120h12v12h-12zM384 977h12v12h-12zM359 1011h12v12h-12zM347 998h12v12h-12zM286 1068h12v12h-12zM299 1031h12v12h-12zM303 1015h12v12h-12zM295 1096h12v12h-12zM345 1045h12v12h-12zM321 1091h12v12h-12zM356 1046h12v12h-12zM310 1015h12v12h-12zM265 1084h12v12h-12zM322 1046h12v12h-12zM316 1043h12v12h-12zM274 1055h12v12h-12zM298 1087h12v12h-12zM311 1063h12v12h-12zM286 1061h12v12h-12zM240 1106h12v12h-12zM352 1025h12v12h-12zM297 1086h12v12h-12zM338 1042h12v12h-12zM298 1057h12v12h-12zM342 1020h12v12h-12zM257 1072h12v12h-12zM265 1122h12v12h-12zM343 1035h12v12h-12zM396 991h12v12h-12zM334 1027h12v12h-12zM274 1097h12v12h-12zM325 1043h12v12h-12zM283 1064h12v12h-12zM279 1076h12v12h-12zM288 1047h12v12h-12zM313 1084h12v12h-12zM250 1070h12v12h-12zM346 1048h12v12h-12zM307 1075h12v12h-12zM367 1012h12v12h-12zM324 1062h12v12h-12zM378 986h12v12h-12zM278 1049h12v12h-12zM288 1045h12v12h-12zM268 1077h12v12h-12zM327 1055h12v12h-12zM356 1012h12v12h-12zM301 1028h12v12h-12zM267 1128h12v12h-12zM302 1045h12v12h-12zM298 1067h12v12h-12zM327 1019h12v12h-12zM267 1074h12v12h-12zM279 1079h12v12h-12zM359 1010h12v12h-12zM326 1062h12v12h-12zM279 1051h12v12h-12zM297 1068h12v12h-12zM348 1027h12v12h-12zM266 1089h12v12h-12zM328 1032h12v12h-12zM346 1010h12v12h-12zM325 1032h12v12h-12zM270 1087h12v12h-12zM297 1068h12v12h-12zM291 1065h12v12h-12zM353 1029h12v12h-12zM307 1091h12v12h-12zM294 1078h12v12h-12zM308 1073h12v12h-12zM282 1073h12v12h-12zM273 1054h12v12h-12zM254 1068h12v12h-12zM268 1051h12v12h-12zM246 1121h12v12h-12zM320 1023h12v12h-12zM254 1089h12v12h-12zM313 1061h12v12h-12zM323 1035h12v12h-12zM251 1091h12v12h-12zM293 1103h12v12h-12zM268 1061h12v12h-12zM273 1088h12v12h-12zM316 1027h12v12h-12zM289 1056h12v12h-12zM286 1071h12v12h-12zM272 1110h12v12h-12zM246 1088h12v12h-12zM277 1115h12v12h-12z"/>
<path stroke="#c03a36" d="M217 1155h12v12h-12zM217 1143h12v12h-12z"/>
<path stroke="#12a4dc" d="M189 1243h12v12h-12zM413 1020h12v12h-12zM471 999h12v12h-12zM412 1054h12v12h-12zM363 1152h12v12h-12zM287 1130h12v12h-12zM349 1110h12v12h-12zM444 1030h12v12h-12zM395 1062h12v12h-12zM380 1065h12v12h-12zM340 1115h12v12h-12zM270 1142h12v12h-12zM395 1048h12v12h-12zM323 1072h12v12h-12zM454 1017h12v12h-12zM336 1096h12v12h-12zM419 1048h12v12h-12zM320 1062h12v12h-12zM258 1158h12v12h-12zM356 1102h12v12h-12zM438 1028h12v12h-12zM248 1209h12v12h-12zM447 1031h12v12h-12zM354 1056h12v12h-12zM394 1064h12v12h-12zM456 1006h12v12h-12zM369 1060h12v12h-12zM495 980h12v12h-12zM251 1147h12v12h-12zM266 1121h12v12h-12zM480 965h12v12h-12zM309 1117h12v12h-12zM388 1022h12v12h-12zM354 1083h12v12h-12zM466 1037h12v12h-12zM310 1160h12v12h-12zM258 1148h12v12h-12zM262 1147h12v12h-12zM286 1145h12v12h-12zM464 1042h12v12h-12zM218 1153h12v12h-12zM447 1015h12v12h-12zM447 1035h12v12h-12zM309 1109h12v12h-12zM304 1131h12v12h-12zM299 1150h12v12h-12zM483 977h12v12h-12zM281 1128h12v12h-12zM449 1005h12v12h-12zM453 1002h12v12h-12zM354 1090h12v12h-12zM225 1190h12v12h-12zM268 1171h12v12h-12zM293 1144h12v12h-12zM470 999h12v12h-12zM378 1095h12v12h-12zM407 1022h12v12h-12zM448 1003h12v12h-12zM457 1019h12v12h-12zM477 1006h12v12h-12zM391 1074h12v12h-12zM365 1048h12v12h-12z"/>
<path stroke="#f99f12" d="M270 1100h12v12h-12zM292 1064h12v12h-12zM247 1066h12v12h-12zM236 1103h12v12h-12zM318 1071h12v12h-12zM313 1063h12v12h-12zM327 1075h12v12h-12zM363 1021h12v12h-12zM265 1113h12v12h-12zM357 1005h12v12h-12zM297 1040h12v12h-12zM336 1028h12v12h-12zM310 1045h12v12h-12zM325 1000h12v12h-12zM264 1031h12v12h-12zM297 1054h12v12h-12zM238 1133h12v12h-12zM301 1066h12v12h-12zM311 1066h12v12h-12zM323 1058h12v12h-12zM245 1113h12v12h-12zM261 1086h12v12h-12zM268 1091h12v12h-12zM258 1138h12v12h-12zM314 1059h12v12h-12zM292 1021h12v12h-12zM354 1008h12v12h-12zM314 1080h12v12h-12zM281 1084h12v12h-12zM311 1062h12v12h-12zM256 1145h12v12h-12zM310 1052h12v12h-12zM339 1017h12v12h-12zM365 1014h12v12h-12zM287 1037h12v12h-12zM328 999h12v12h-12zM309 1056h12v12h-12zM294 1086h12v12h-12zM307 1082h12v12h-12zM386 963h12v12h-12zM359 1016h12v12h-12zM323 1051h12v12h-12zM318 1038h12v12h-12zM269 1078h12v12h-12zM309 1071h12v12h-12zM316 1030h12v12h-12zM273 1069h12v12h-12zM323 1008h12v12h-12zM340 1047h12v12h-12zM252 1098h12v12h-12zM337 1022h12v12h-12zM356 1016h12v12h-12zM261 1071h12v12h-12zM265 1084h12v12h-12zM291 1062h12v12h-12zM301 1079h12v12h-12zM386 986h12v12h-12zM295 1090h12v12h-12zM239 1103h12v12h-12zM374 1021h12v12h-12zM293 1070h12v12h-12zM346 1027h12v12h-12zM320 1068h12v12h-12zM292 1069h12v12h-12zM262 1113h12v12h-12zM301 1085h12v12h-12zM346 1020h12v12h-12zM354 1043h12v12h-12zM314 1048h12v12h-12zM294 1028h12v12h-12zM321 1039h12v12h-12zM282 1041h12v12h-12zM333 1028h12v12h-12zM284 1063h12v12h-12zM351 995h12v12h-12zM319 1063h12v12h-12zM334 998h12v12h-12zM317 1003h12v12h-12zM430 1120h12v12h-12zM275 1135h12v12h-12zM282 1063h12v12h-12zM316 1059h12v12h-12zM289 1050h12v12h-12zM272 1063h12v12h-12zM409 943h12v12h-12zM275 1052h12v12h-12zM314 1056h12v12h-12zM279 1049h12v12h-12zM287 1094h12v12h-12zM293 1035h12v12h-12zM286 1057h12v12h-12zM292 1055h12v12h-12zM294 1029h12v12h-12zM328 1051h12v12h-12zM290 1058h12v12h-12zM380 987h12v12h-12zM338 1014h12v12h-12zM321 1049h12v12h-12zM281 1110h12v12h-12zM274 1056h12v12h-12zM379 1011h12v12h-12zM340 1075h12v12h-12zM330 1041h12v12h-12zM301 1046h12v12h-12zM290 1034h12v12h-12zM330 1051h12v12h-12zM251 1127h12v12h-12zM349 1009h12v12h-12zM300 1025h12v12h-12zM306 1038h12v12h-12zM290 1061h12v12h-12zM291 1078h12v12h-12zM340 1026h12v12h-12zM373 1001h12v12h-12zM251 1072h12v12h-12zM321 1019h12v12h-12zM316 1029h12v12h-12zM262 1116h12v12h-12zM314 1050h12v12h-12zM297 1046h12v12h-12zM360 988h12v12h-12zM273 1052h12v12h-12zM287 1088h12v12h-12zM286 1092h12v12h-12zM372 992h12v12h-12zM356 989h12v12h-12zM297 1058h12v12h-12zM360 987h12v12h-12zM331 1058h12v12h-12zM313 1034h12v12h-12zM294 1054h12v12h-12zM318 1010h12v12h-12zM324 1046h12v12h-12zM315 1056h12v12h-12zM333 1000h12v12h-12zM309 1057h12v12h-12zM227 1125h12v12h-12zM241 1136h12v12h-12zM261 1105h12v12h-12zM284 1063h12v12h-12zM374 970h12v12h-12zM186 1192h12v12h-12zM266 1090h12v12h-12zM279 1048h12v12h-12zM336 1022h12v12h-12zM347 1064h12v12h-12zM279 1055h12v12h-12zM349 996h12v12h-12zM327 1024h12v12h-12zM336 1031h12v12h-12zM277 1104h12v12h-12zM347 1033h12v12h-12zM358 1013h12v12h-12zM260 1108h12v12h-12zM273 1119h12v12h-12zM291 1101h12v12h-12zM283 1023h12v12h-12zM336 1061h12v12h-12zM272 1089h12v12h-12zM292 1099h12v12h-12zM290 1059h12v12h-12zM246 1151h12v12h-12zM380 1008h12v12h-12zM298 1041h12v12h-12zM271 1071h12v12h-12zM229 1102h12v12h-12zM272 1123h12v12h-12zM306 1035h12v12h-12zM287 1070h12v12h-12zM311 1055h12v12h-12zM288 1046h12v12h-12zM301 1059h12v12h-12zM310 1032h12v12h-12zM254 1119h12v12h-12zM251 1089h12v12h-12zM229 1135h12v12h-12zM334 1011h12v12h-12zM277 1065h12v12h-12zM250 1133h12v12h-12zM292 1064h12v12h-12zM312 1050h12v12h-12zM323 1060h12v12h-12zM334 1047h12v12h-12zM325 1077h12v12h-12zM337 1045h12v12h-12zM329 1016h12v12h-12zM302 1081h12v12h-12zM343 1004h12v12h-12zM269 1086h12v12h-12zM203 1160h12v12h-12zM282 1101h12v12h-12zM226 1126h12v12h-12zM330 1054h12v12h-12zM338 1037h12v12h-12zM286 1052h12v12h-12zM224 1114h12v12h-12zM366 1022h12v12h-12zM321 1017h12v12h-12zM314 1056h12v12h-12zM328 1029h12v12h-12zM242 1100h12v12h-12zM341 1045h12v12h-12zM288 1051h12v12h-12zM286 1089h12v12h-12zM302 1040h12v12h-12zM328 1058h12v12h-12zM364 1024h12v12h-12zM271 1056h12v12h-12zM296 1020h12v12h-12zM338 1022h12v12h-12zM308 1063h12v12h-12zM380 1000h12v12h-12zM294 1057h12v12h-12zM286 1078h12v12h-12zM371 995h12v12h-12zM323 1062h12v12h-12zM361 1046h12v12h-12zM304 1066h12v12h-12zM261 1107h12v12h-12zM269 1072h12v12h-12zM312 1030h12v12h-12zM323 1035h12v12h-12zM327 1047h12v12h-12zM276 1110h12v12h-12zM311 1036h12v12h-12zM281 1071h12v12h-12zM234 1082h12v12h-12zM325 1013h12v12h-12zM266 1099h12v12h-12zM265 1095h12v12h-12zM285 1111h12v12h-12zM173 1202h12v12h-12zM294 1033h12v12h-12zM319 1016h12v12h-12zM306 1040h12v12h-12zM289 1066h12v12h-12zM367 1030h12v12h-12zM358 1019h12v12h-12zM270 1053h12v12h-12zM265 1085h12v12h-12z"/>
<path stroke="#c03a36" d="M204 1156h12v12h-12zM202 1170h12v12h-12z"/>
<path stroke="#0c1f46" d="M322 1135h12v12h-12zM248 1175h12v12h-12z"/>
</g>
<polyline points="178.1,1198.0 348.3,1065.6 518.4,933.2" fill="none" stroke="#000" stroke-width="2.9" stroke-dasharray="12.5 12.5"/>
<polyline points="178.1,1173.8 348.3,1020.1 518.4,866.4" fill="none" stroke="#000" stroke-width="3.6" stroke-linecap="round" stroke-dasharray="0 12.6"/>
<polyline points="178.1,1214.5 182.4,1209.4 186.7,1204.5 190.9,1199.5 195.2,1194.5 199.4,1189.6 203.7,1184.7 207.9,1179.8 212.2,1174.9 216.4,1170.1 220.7,1165.3 224.9,1160.5 229.2,1155.7 233.4,1151.0 237.7,1146.3 241.9,1141.7 246.2,1137.0 250.5,1132.5 254.7,1127.9 259.0,1123.4 263.2,1119.0 267.5,1114.6 271.7,1110.2 276.0,1105.9 280.2,1101.7 284.5,1097.5 288.7,1093.3 293.0,1089.3 297.2,1085.2 301.5,1081.3 305.7,1077.4 310.0,1073.6 314.2,1069.8 318.5,1066.2 322.8,1062.5 327.0,1059.0 331.3,1055.5 335.5,1052.1 339.8,1048.8 344.0,1045.5 348.3,1042.3 352.5,1039.1 356.8,1036.1 361.0,1033.0 365.3,1030.0 369.5,1027.1 373.8,1024.2 378.0,1021.3 382.3,1018.4 386.6,1015.6 390.8,1012.8 395.1,1009.9 399.3,1007.1 403.6,1004.2 407.8,1001.3 412.1,998.3 416.3,995.3 420.6,992.3 424.8,989.2 429.1,986.0 433.3,982.8 437.6,979.5 441.8,976.2 446.1,972.7 450.3,969.2 454.6,965.7 458.9,962.0 463.1,958.3 467.4,954.5 471.6,950.7 475.9,946.8 480.1,942.8 484.4,938.7 488.6,934.6 492.9,930.5 497.1,926.3 501.4,922.0 505.6,917.7 509.9,913.3 514.1,908.9 518.4,904.4" fill="none" stroke="#000" stroke-width="3.1" stroke-linecap="round" stroke-dasharray="0 12 9 12"/>
<polyline points="178.1,1155.1 348.3,1056.0 518.4,957.0" fill="none" stroke="#000" stroke-width="5.6"/>
<path d="M141.0 1276.3h9.0M141.0 1252.6h9.0M141.0 1234.2h17.4M141.0 1219.2h9.0M141.0 1206.4h9.0M141.0 1195.4h9.0M141.0 1185.7h9.0M141.0 1177.0h25.4M141.0 1119.8h9.0M141.0 1086.3h9.0M141.0 1062.6h9.0M141.0 1044.2h17.4M146.9 1283.0v-17.4M141.0 1029.2h9.0M159.0 1283.0v-9.0M141.0 1016.4h9.0M169.3 1283.0v-9.0M141.0 1005.4h9.0M178.2 1283.0v-9.0M141.0 995.7h9.0M186.0 1283.0v-9.0M141.0 987.0h25.4M193.0 1283.0v-25.4M141.0 929.8h9.0M239.1 1283.0v-9.0M141.0 896.3h9.0M266.0 1283.0v-9.0M141.0 872.6h9.0M285.2 1283.0v-9.0M141.0 854.2h17.4M300.0 1283.0v-17.4M141.0 839.2h9.0M312.1 1283.0v-9.0M322.4 1283.0v-9.0M331.3 1283.0v-9.0M339.1 1283.0v-9.0M346.1 1283.0v-25.4M392.2 1283.0v-9.0M419.1 1283.0v-9.0M438.3 1283.0v-9.0M453.1 1283.0v-17.4M465.2 1283.0v-9.0M475.5 1283.0v-9.0M484.4 1283.0v-9.0M492.2 1283.0v-9.0M499.2 1283.0v-25.4M545.3 1283.0v-9.0" stroke="#000" stroke-width="1.7" fill="none"/>
<text x="179.6" y="1313.3" font-size="23" textLength="27.2" lengthAdjust="spacingAndGlyphs" fill="#404040">0.1</text>
<text x="332.9" y="1313.3" font-size="23" textLength="28.5" lengthAdjust="spacingAndGlyphs" fill="#404040">1.0</text>
<text x="476.6" y="1313.3" font-size="23" textLength="45.5" lengthAdjust="spacingAndGlyphs" fill="#404040">10.0</text>
<text x="269.6" y="813.3" font-size="22.5" font-weight="bold" textLength="158.4" lengthAdjust="spacingAndGlyphs" fill="#1e1e1e">Scotian Shelf</text>
<text x="160.1" y="846.1" font-size="20.5" fill="#1a1a1a" textLength="194.8" lengthAdjust="spacingAndGlyphs"><tspan font-style="italic">y</tspan> = −1.37 + 0.469 <tspan font-style="italic">x</tspan></text>
<text x="163.1" y="883.6" font-size="20.5" fill="#1a1a1a" textLength="195.9" lengthAdjust="spacingAndGlyphs"><tspan font-style="italic">R</tspan><tspan dy="-9" font-size="14">2</tspan><tspan dy="9"> = 0.53, </tspan><tspan font-style="italic">p</tspan> &lt; 0.001</text>
<line x1="570.3" x2="983.5" y1="1226.7" y2="1226.7" stroke="#ececec" stroke-width="1.5"/>
<line x1="570.3" x2="983.5" y1="1131.7" y2="1131.7" stroke="#ececec" stroke-width="1.5"/>
<line x1="570.3" x2="983.5" y1="1036.7" y2="1036.7" stroke="#ececec" stroke-width="1.5"/>
<line x1="570.3" x2="983.5" y1="941.7" y2="941.7" stroke="#ececec" stroke-width="1.5"/>
<line x1="570.3" x2="983.5" y1="846.7" y2="846.7" stroke="#ececec" stroke-width="1.5"/>
<line x1="570.3" x2="983.5" y1="1276.3" y2="1276.3" stroke="#dedede" stroke-width="1.5"/>
<line x1="570.3" x2="983.5" y1="1177.0" y2="1177.0" stroke="#dedede" stroke-width="1.5"/>
<line x1="570.3" x2="983.5" y1="1086.3" y2="1086.3" stroke="#dedede" stroke-width="1.5"/>
<line x1="570.3" x2="983.5" y1="987.0" y2="987.0" stroke="#dedede" stroke-width="1.5"/>
<line x1="570.3" x2="983.5" y1="896.3" y2="896.3" stroke="#dedede" stroke-width="1.5"/>
<line y1="829.6" y2="1283.0" x1="698.7" x2="698.7" stroke="#ececec" stroke-width="1.5"/>
<line y1="829.6" y2="1283.0" x1="851.8" x2="851.8" stroke="#ececec" stroke-width="1.5"/>
<line y1="829.6" y2="1283.0" x1="622.1" x2="622.1" stroke="#dedede" stroke-width="1.5"/>
<line y1="829.6" y2="1283.0" x1="775.2" x2="775.2" stroke="#dedede" stroke-width="1.5"/>
<line y1="829.6" y2="1283.0" x1="928.3" x2="928.3" stroke="#dedede" stroke-width="1.5"/>
<g fill="none" stroke-width="1.45" stroke-opacity="0.48">
<path stroke="#12a4dc" d="M833 997h18m-9-9v18M827 1059h18m-9-9v18M914 952h18m-9-9v18M795 1089h18m-9-9v18M784 1035h18m-9-9v18M773 1100h18m-9-9v18M861 964h18m-9-9v18M843 960h18m-9-9v18M776 1055h18m-9-9v18M886 985h18m-9-9v18M826 992h18m-9-9v18M858 1012h18m-9-9v18M805 1031h18m-9-9v18M786 1056h18m-9-9v18M656 1156h18m-9-9v18M853 1023h18m-9-9v18M756 1076h18m-9-9v18M821 1050h18m-9-9v18M869 991h18m-9-9v18M786 1080h18m-9-9v18M858 1036h18m-9-9v18M892 973h18m-9-9v18M759 1074h18m-9-9v18M878 1035h18m-9-9v18M698 1101h18m-9-9v18M772 1151h18m-9-9v18M685 1166h18m-9-9v18M774 1041h18m-9-9v18M792 1082h18m-9-9v18M868 1016h18m-9-9v18M833 1027h18m-9-9v18M793 1072h18m-9-9v18M877 960h18m-9-9v18M815 1067h18m-9-9v18M837 991h18m-9-9v18M832 1027h18m-9-9v18M718 1156h18m-9-9v18M689 1134h18m-9-9v18M876 986h18m-9-9v18M786 1101h18m-9-9v18M792 1051h18m-9-9v18M761 1039h18m-9-9v18M732 1121h18m-9-9v18M811 1022h18m-9-9v18M773 1115h18m-9-9v18M829 994h18m-9-9v18"/>
<path stroke="#f99f12" d="M661 1112h18m-9-9v18M634 1123h18m-9-9v18M732 1076h18m-9-9v18M636 1145h18m-9-9v18M733 1074h18m-9-9v18M716 1060h18m-9-9v18M624 1156h18m-9-9v18M671 1097h18m-9-9v18M714 1135h18m-9-9v18M668 1142h18m-9-9v18M607 1137h18m-9-9v18M734 1073h18m-9-9v18M679 1147h18m-9-9v18M647 1119h18m-9-9v18M673 1128h18m-9-9v18M687 1085h18m-9-9v18M670 1121h18m-9-9v18M648 1135h18m-9-9v18M718 1078h18m-9-9v18M674 1073h18m-9-9v18M669 1130h18m-9-9v18M732 1061h18m-9-9v18M689 1113h18m-9-9v18M708 1107h18m-9-9v18M651 1134h18m-9-9v18M771 1052h18m-9-9v18M676 1135h18m-9-9v18M664 1121h18m-9-9v18M700 1085h18m-9-9v18M680 1097h18m-9-9v18M760 1036h18m-9-9v18M658 1102h18m-9-9v18M669 1111h18m-9-9v18M703 1121h18m-9-9v18M697 1084h18m-9-9v18M683 1110h18m-9-9v18M602 1144h18m-9-9v18M711 1093h18m-9-9v18M662 1142h18m-9-9v18M693 1075h18m-9-9v18M667 1086h18m-9-9v18M640 1140h18m-9-9v18M622 1145h18m-9-9v18M635 1114h18m-9-9v18M693 1125h18m-9-9v18M665 1109h18m-9-9v18M703 1094h18m-9-9v18M671 1136h18m-9-9v18M599 1175h18m-9-9v18M693 1115h18m-9-9v18M662 1107h18m-9-9v18"/>
<path stroke="#c03a36" d="M629 1164h18m-9-9v18M623 1176h18m-9-9v18M627 1149h18m-9-9v18"/>
<path stroke="#0c1f46" d="M720 1116h18m-9-9v18M736 1102h18m-9-9v18M732 1104h18m-9-9v18M715 1110h18m-9-9v18M734 1127h18m-9-9v18"/>
<path stroke="#12a4dc" d="M744 1078h18m-9-9v18M709 1131h18m-9-9v18M879 1058h18m-9-9v18M719 1151h18m-9-9v18M772 1088h18m-9-9v18M736 1145h18m-9-9v18M834 1055h18m-9-9v18M900 1026h18m-9-9v18M809 1044h18m-9-9v18M894 938h18m-9-9v18M912 1063h18m-9-9v18M847 944h18m-9-9v18M834 1018h18m-9-9v18M838 1081h18m-9-9v18M722 1144h18m-9-9v18M734 1085h18m-9-9v18M821 1035h18m-9-9v18M795 1025h18m-9-9v18M761 1124h18m-9-9v18M859 1014h18m-9-9v18M812 1046h18m-9-9v18M865 1072h18m-9-9v18M869 1033h18m-9-9v18M909 1043h18m-9-9v18M915 970h18m-9-9v18M859 1010h18m-9-9v18M765 1059h18m-9-9v18M919 899h18m-9-9v18M696 1123h18m-9-9v18M814 1041h18m-9-9v18M809 1074h18m-9-9v18M772 1093h18m-9-9v18M744 1122h18m-9-9v18M801 1039h18m-9-9v18M716 1152h18m-9-9v18M786 1090h18m-9-9v18M873 987h18m-9-9v18M809 1022h18m-9-9v18M881 1017h18m-9-9v18M695 1180h18m-9-9v18M828 1044h18m-9-9v18M713 1107h18m-9-9v18M885 1059h18m-9-9v18M720 1124h18m-9-9v18M828 1032h18m-9-9v18M860 993h18m-9-9v18M786 1074h18m-9-9v18M754 1054h18m-9-9v18M879 1040h18m-9-9v18"/>
<path stroke="#f99f12" d="M659 1112h18m-9-9v18M651 1137h18m-9-9v18M674 1127h18m-9-9v18M689 1108h18m-9-9v18M689 1099h18m-9-9v18M640 1094h18m-9-9v18M673 1141h18m-9-9v18M650 1126h18m-9-9v18M691 1112h18m-9-9v18M692 1097h18m-9-9v18M670 1163h18m-9-9v18M722 1094h18m-9-9v18M697 1115h18m-9-9v18M729 1049h18m-9-9v18M649 1136h18m-9-9v18M684 1081h18m-9-9v18M708 1101h18m-9-9v18M657 1132h18m-9-9v18M631 1165h18m-9-9v18M669 1100h18m-9-9v18M651 1145h18m-9-9v18M647 1146h18m-9-9v18M682 1120h18m-9-9v18M679 1109h18m-9-9v18M683 1082h18m-9-9v18M713 1082h18m-9-9v18M673 1156h18m-9-9v18M692 1141h18m-9-9v18M663 1087h18m-9-9v18M650 1087h18m-9-9v18M639 1111h18m-9-9v18M672 1094h18m-9-9v18M656 1159h18m-9-9v18M747 1048h18m-9-9v18M676 1099h18m-9-9v18M714 1100h18m-9-9v18M704 1097h18m-9-9v18M681 1123h18m-9-9v18M717 1092h18m-9-9v18M630 1169h18m-9-9v18M698 1110h18m-9-9v18M693 1104h18m-9-9v18M647 1176h18m-9-9v18M646 1115h18m-9-9v18M672 1121h18m-9-9v18M635 1136h18m-9-9v18M587 1162h18m-9-9v18M610 1167h18m-9-9v18M680 1108h18m-9-9v18M676 1109h18m-9-9v18"/>
<path stroke="#c03a36" d="M626 1168h18m-9-9v18M648 1146h18m-9-9v18M660 1134h18m-9-9v18"/>
<path stroke="#0c1f46" d="M749 1118h18m-9-9v18M757 1115h18m-9-9v18M735 1123h18m-9-9v18"/>
<path stroke="#12a4dc" d="M813 965h18m-9-9v18M703 1149h18m-9-9v18M847 1018h18m-9-9v18M712 1171h18m-9-9v18M813 1090h18m-9-9v18M730 1092h18m-9-9v18M875 1010h18m-9-9v18M745 1105h18m-9-9v18M791 997h18m-9-9v18M690 1149h18m-9-9v18M879 1040h18m-9-9v18M855 980h18m-9-9v18M790 1038h18m-9-9v18M871 961h18m-9-9v18M734 1090h18m-9-9v18M771 1094h18m-9-9v18M851 1066h18m-9-9v18M857 962h18m-9-9v18M844 1020h18m-9-9v18M851 1017h18m-9-9v18M754 1104h18m-9-9v18M705 1166h18m-9-9v18M780 1023h18m-9-9v18M732 1149h18m-9-9v18M896 1082h18m-9-9v18M919 958h18m-9-9v18M822 1025h18m-9-9v18M772 1131h18m-9-9v18M845 1000h18m-9-9v18M749 1121h18m-9-9v18M814 1011h18m-9-9v18M761 1073h18m-9-9v18M766 1126h18m-9-9v18M788 1088h18m-9-9v18M835 1036h18m-9-9v18M809 1050h18m-9-9v18M740 1171h18m-9-9v18M766 1140h18m-9-9v18M840 1061h18m-9-9v18M754 1116h18m-9-9v18M681 1133h18m-9-9v18M829 1009h18m-9-9v18M774 1077h18m-9-9v18M899 1025h18m-9-9v18M728 1096h18m-9-9v18M798 1038h18m-9-9v18M738 1135h18m-9-9v18"/>
<path stroke="#f99f12" d="M678 1118h18m-9-9v18M710 1131h18m-9-9v18M704 1102h18m-9-9v18M654 1107h18m-9-9v18M728 1089h18m-9-9v18M698 1098h18m-9-9v18M631 1131h18m-9-9v18M649 1139h18m-9-9v18M683 1088h18m-9-9v18M701 1056h18m-9-9v18M693 1106h18m-9-9v18M598 1125h18m-9-9v18M643 1157h18m-9-9v18M628 1133h18m-9-9v18M718 1100h18m-9-9v18M672 1126h18m-9-9v18M698 1128h18m-9-9v18M610 1154h18m-9-9v18M674 1107h18m-9-9v18M690 1101h18m-9-9v18M703 1142h18m-9-9v18M689 1106h18m-9-9v18M647 1119h18m-9-9v18M619 1156h18m-9-9v18M682 1121h18m-9-9v18M649 1122h18m-9-9v18M611 1168h18m-9-9v18M655 1120h18m-9-9v18M654 1116h18m-9-9v18M674 1138h18m-9-9v18M669 1135h18m-9-9v18M645 1149h18m-9-9v18M661 1107h18m-9-9v18M705 1102h18m-9-9v18M682 1076h18m-9-9v18M689 1101h18m-9-9v18M651 1121h18m-9-9v18M610 1156h18m-9-9v18M644 1130h18m-9-9v18M686 1118h18m-9-9v18M649 1137h18m-9-9v18M751 1025h18m-9-9v18M597 1187h18m-9-9v18"/>
<path stroke="#c03a36" d="M625 1170h18m-9-9v18M638 1172h18m-9-9v18M629 1176h18m-9-9v18M634 1145h18m-9-9v18"/>
<path stroke="#0c1f46" d="M745 1106h18m-9-9v18M719 1145h18m-9-9v18"/>
<path stroke="#12a4dc" d="M824 982h18m-9-9v18M777 1097h18m-9-9v18M655 1193h18m-9-9v18M884 963h18m-9-9v18M889 949h18m-9-9v18M761 1106h18m-9-9v18M859 979h18m-9-9v18M730 1122h18m-9-9v18M811 1024h18m-9-9v18M873 997h18m-9-9v18M708 1153h18m-9-9v18M789 1082h18m-9-9v18M764 1103h18m-9-9v18M809 998h18m-9-9v18M877 1010h18m-9-9v18M811 1056h18m-9-9v18M870 1053h18m-9-9v18M727 1125h18m-9-9v18M659 1208h18m-9-9v18M717 1151h18m-9-9v18M786 1000h18m-9-9v18M843 1023h18m-9-9v18M837 994h18m-9-9v18M874 1004h18m-9-9v18M855 1004h18m-9-9v18M824 1087h18m-9-9v18M865 1030h18m-9-9v18M833 1045h18m-9-9v18M854 971h18m-9-9v18M734 1111h18m-9-9v18M672 1167h18m-9-9v18M682 1139h18m-9-9v18M774 1062h18m-9-9v18M678 1149h18m-9-9v18M769 1114h18m-9-9v18M771 1107h18m-9-9v18M872 992h18m-9-9v18M913 989h18m-9-9v18M829 1030h18m-9-9v18M764 1107h18m-9-9v18M707 1158h18m-9-9v18M913 960h18m-9-9v18M875 982h18m-9-9v18M882 981h18m-9-9v18M792 1045h18m-9-9v18M701 1153h18m-9-9v18M715 1116h18m-9-9v18M845 990h18m-9-9v18"/>
<path stroke="#f99f12" d="M667 1105h18m-9-9v18M658 1082h18m-9-9v18M733 1076h18m-9-9v18M744 1059h18m-9-9v18M666 1111h18m-9-9v18M733 1069h18m-9-9v18M640 1151h18m-9-9v18M644 1124h18m-9-9v18M625 1127h18m-9-9v18M697 1076h18m-9-9v18M761 1083h18m-9-9v18M682 1118h18m-9-9v18M683 1124h18m-9-9v18M679 1078h18m-9-9v18M679 1122h18m-9-9v18M657 1136h18m-9-9v18M697 1107h18m-9-9v18M624 1104h18m-9-9v18M687 1116h18m-9-9v18M660 1164h18m-9-9v18M662 1143h18m-9-9v18M680 1120h18m-9-9v18M644 1119h18m-9-9v18M706 1123h18m-9-9v18M670 1139h18m-9-9v18M660 1100h18m-9-9v18M645 1105h18m-9-9v18M651 1161h18m-9-9v18M661 1112h18m-9-9v18M689 1086h18m-9-9v18M678 1126h18m-9-9v18M734 1078h18m-9-9v18M710 1064h18m-9-9v18M673 1085h18m-9-9v18M638 1139h18m-9-9v18M665 1095h18m-9-9v18M666 1078h18m-9-9v18M671 1122h18m-9-9v18M672 1099h18m-9-9v18M683 1078h18m-9-9v18M697 1091h18m-9-9v18M672 1130h18m-9-9v18M665 1125h18m-9-9v18M657 1094h18m-9-9v18"/>
<path stroke="#c03a36" d="M628 1184h18m-9-9v18M641 1155h18m-9-9v18M637 1160h18m-9-9v18M611 1179h18m-9-9v18"/>
<path stroke="#0c1f46" d="M733 1116h18m-9-9v18M765 1122h18m-9-9v18M766 1101h18m-9-9v18M749 1077h18m-9-9v18"/>
<path stroke="#12a4dc" d="M751 1140h18m-9-9v18M887 997h18m-9-9v18M744 1130h18m-9-9v18M858 1002h18m-9-9v18M854 1041h18m-9-9v18M741 1125h18m-9-9v18M690 1170h18m-9-9v18M798 1046h18m-9-9v18M819 989h18m-9-9v18M731 1124h18m-9-9v18M740 1039h18m-9-9v18M790 1069h18m-9-9v18M808 1014h18m-9-9v18M794 1047h18m-9-9v18M871 1009h18m-9-9v18M760 1083h18m-9-9v18M786 1092h18m-9-9v18M753 1144h18m-9-9v18M719 1149h18m-9-9v18M819 1030h18m-9-9v18M893 1012h18m-9-9v18M809 1058h18m-9-9v18M915 987h18m-9-9v18M709 1161h18m-9-9v18M799 978h18m-9-9v18M866 1018h18m-9-9v18M755 1101h18m-9-9v18M734 1134h18m-9-9v18M845 983h18m-9-9v18M761 1053h18m-9-9v18M823 1055h18m-9-9v18M842 1046h18m-9-9v18M864 1048h18m-9-9v18M866 996h18m-9-9v18M865 973h18m-9-9v18M828 1023h18m-9-9v18M714 1124h18m-9-9v18M806 1068h18m-9-9v18M846 1040h18m-9-9v18M794 1091h18m-9-9v18M841 995h18m-9-9v18M678 1161h18m-9-9v18M844 1007h18m-9-9v18M827 1005h18m-9-9v18M919 1072h18m-9-9v18M824 1044h18m-9-9v18M823 1096h18m-9-9v18M849 986h18m-9-9v18M867 1033h18m-9-9v18M692 1105h18m-9-9v18M904 1044h18m-9-9v18M835 1071h18m-9-9v18M807 1060h18m-9-9v18M729 1163h18m-9-9v18M857 1038h18m-9-9v18M664 1187h18m-9-9v18M852 1026h18m-9-9v18M825 1030h18m-9-9v18M799 1095h18m-9-9v18M888 1036h18m-9-9v18M794 1110h18m-9-9v18M757 1123h18m-9-9v18M793 1027h18m-9-9v18"/>
<path stroke="#f99f12" d="M624 1162h18m-9-9v18M651 1118h18m-9-9v18M706 1084h18m-9-9v18M585 1194h18m-9-9v18M632 1143h18m-9-9v18M750 1089h18m-9-9v18M723 1095h18m-9-9v18M706 1094h18m-9-9v18M648 1142h18m-9-9v18M713 1095h18m-9-9v18M630 1112h18m-9-9v18M666 1121h18m-9-9v18M680 1119h18m-9-9v18M670 1108h18m-9-9v18M693 1111h18m-9-9v18M631 1162h18m-9-9v18M702 1104h18m-9-9v18M711 1092h18m-9-9v18M675 1118h18m-9-9v18M667 1097h18m-9-9v18M690 1097h18m-9-9v18M619 1163h18m-9-9v18M656 1157h18m-9-9v18M655 1124h18m-9-9v18M697 1127h18m-9-9v18M686 1108h18m-9-9v18M736 1069h18m-9-9v18M675 1135h18m-9-9v18M621 1133h18m-9-9v18M676 1132h18m-9-9v18M624 1109h18m-9-9v18M699 1099h18m-9-9v18M627 1137h18m-9-9v18M632 1138h18m-9-9v18M738 1072h18m-9-9v18M630 1160h18m-9-9v18M679 1129h18m-9-9v18M710 1098h18m-9-9v18M703 1128h18m-9-9v18M736 1050h18m-9-9v18M633 1164h18m-9-9v18M652 1126h18m-9-9v18M705 1141h18m-9-9v18M686 1116h18m-9-9v18M637 1120h18m-9-9v18M712 1113h18m-9-9v18M651 1098h18m-9-9v18M660 1122h18m-9-9v18M651 1130h18m-9-9v18M690 1120h18m-9-9v18M698 1121h18m-9-9v18"/>
<path stroke="#c03a36" d="M621 1175h18m-9-9v18M640 1146h18m-9-9v18M621 1170h18m-9-9v18M616 1199h18m-9-9v18M640 1147h18m-9-9v18M616 1166h18m-9-9v18"/>
<path stroke="#0c1f46" d="M738 1104h18m-9-9v18M744 1083h18m-9-9v18M774 1112h18m-9-9v18M734 1135h18m-9-9v18M742 1105h18m-9-9v18"/>
<path stroke="#12a4dc" d="M748 1118h18m-9-9v18M849 986h18m-9-9v18M902 954h18m-9-9v18M873 1044h18m-9-9v18M767 1081h18m-9-9v18M806 1040h18m-9-9v18M858 959h18m-9-9v18M762 1031h18m-9-9v18M861 976h18m-9-9v18M738 1092h18m-9-9v18M840 1064h18m-9-9v18M854 1000h18m-9-9v18M792 1034h18m-9-9v18M715 1145h18m-9-9v18M803 1023h18m-9-9v18M704 1169h18m-9-9v18M832 1019h18m-9-9v18M832 1012h18m-9-9v18M778 1059h18m-9-9v18M740 1095h18m-9-9v18M868 992h18m-9-9v18M767 1115h18m-9-9v18M704 1123h18m-9-9v18M750 1156h18m-9-9v18M843 1040h18m-9-9v18M842 987h18m-9-9v18M849 1041h18m-9-9v18M716 1173h18m-9-9v18M766 1053h18m-9-9v18M758 1136h18m-9-9v18M826 1024h18m-9-9v18M826 1041h18m-9-9v18M730 1132h18m-9-9v18M695 1147h18m-9-9v18M810 1037h18m-9-9v18M774 1063h18m-9-9v18M673 1163h18m-9-9v18M881 985h18m-9-9v18M823 1012h18m-9-9v18M826 1007h18m-9-9v18M857 1048h18m-9-9v18M802 1053h18m-9-9v18M853 1009h18m-9-9v18"/>
<path stroke="#f99f12" d="M695 1101h18m-9-9v18M674 1097h18m-9-9v18M595 1182h18m-9-9v18M735 1092h18m-9-9v18M686 1091h18m-9-9v18M680 1096h18m-9-9v18M655 1119h18m-9-9v18M652 1127h18m-9-9v18M687 1103h18m-9-9v18M714 1059h18m-9-9v18M696 1096h18m-9-9v18M626 1130h18m-9-9v18M653 1123h18m-9-9v18M740 1078h18m-9-9v18M664 1124h18m-9-9v18M602 1182h18m-9-9v18M611 1146h18m-9-9v18M681 1115h18m-9-9v18M691 1108h18m-9-9v18M709 1054h18m-9-9v18M644 1143h18m-9-9v18M659 1158h18m-9-9v18M754 1045h18m-9-9v18M665 1115h18m-9-9v18M684 1097h18m-9-9v18M653 1134h18m-9-9v18M754 1055h18m-9-9v18M698 1100h18m-9-9v18M760 1065h18m-9-9v18M660 1143h18m-9-9v18M747 1072h18m-9-9v18M666 1101h18m-9-9v18M707 1092h18m-9-9v18M710 1104h18m-9-9v18M715 1093h18m-9-9v18M694 1113h18m-9-9v18M655 1142h18m-9-9v18M700 1106h18m-9-9v18M696 1101h18m-9-9v18M713 1093h18m-9-9v18M648 1110h18m-9-9v18"/>
<path stroke="#c03a36" d="M632 1177h18m-9-9v18M621 1160h18m-9-9v18M639 1156h18m-9-9v18M625 1165h18m-9-9v18"/>
<path stroke="#0c1f46" d="M748 1093h18m-9-9v18M709 1130h18m-9-9v18M733 1131h18m-9-9v18M704 1127h18m-9-9v18M755 1097h18m-9-9v18"/>
</g>
<polyline points="589.1,1212.1 759.5,1079.5 929.9,946.9" fill="none" stroke="#000" stroke-width="2.9" stroke-dasharray="12.5 12.5"/>
<polyline points="589.1,1190.2 759.5,1036.2 929.9,882.3" fill="none" stroke="#000" stroke-width="3.6" stroke-linecap="round" stroke-dasharray="0 12.6"/>
<polyline points="589.1,1236.0 593.4,1230.9 597.6,1225.9 601.9,1220.8 606.1,1215.8 610.4,1210.8 614.7,1205.7 618.9,1200.8 623.2,1195.8 627.4,1190.8 631.7,1185.9 636.0,1181.0 640.2,1176.1 644.5,1171.3 648.7,1166.4 653.0,1161.6 657.3,1156.9 661.5,1152.1 665.8,1147.4 670.0,1142.8 674.3,1138.1 678.6,1133.5 682.8,1129.0 687.1,1124.5 691.3,1120.0 695.6,1115.6 699.9,1111.2 704.1,1106.9 708.4,1102.6 712.6,1098.4 716.9,1094.2 721.2,1090.1 725.4,1086.1 729.7,1082.1 733.9,1078.2 738.2,1074.4 742.5,1070.6 746.7,1066.9 751.0,1063.3 755.2,1059.7 759.5,1056.2 763.8,1052.8 768.0,1049.4 772.3,1046.1 776.5,1042.9 780.8,1039.8 785.1,1036.6 789.3,1033.6 793.6,1030.6 797.8,1027.6 802.1,1024.7 806.4,1021.8 810.6,1019.0 814.9,1016.1 819.1,1013.3 823.4,1010.4 827.7,1007.6 831.9,1004.7 836.2,1001.8 840.4,998.8 844.7,995.8 849.0,992.8 853.2,989.7 857.5,986.6 861.7,983.4 866.0,980.1 870.3,976.7 874.5,973.3 878.8,969.8 883.0,966.2 887.3,962.6 891.6,958.9 895.8,955.1 900.1,951.3 904.3,947.3 908.6,943.4 912.9,939.3 917.1,935.2 921.4,931.1 925.6,926.9 929.9,922.6" fill="none" stroke="#000" stroke-width="3.1" stroke-linecap="round" stroke-dasharray="0 12 9 12"/>
<polyline points="589.1,1180.3 759.5,1072.9 929.9,965.5" fill="none" stroke="#000" stroke-width="5.6"/>
<path d="M570.3 1276.3h9.0M570.3 1252.6h9.0M570.3 1234.2h17.4M570.3 1219.2h9.0M570.3 1206.4h9.0M570.3 1195.4h9.0M570.3 1185.7h9.0M570.3 1177.0h25.4M570.3 1119.8h9.0M570.3 1086.3h9.0M570.3 1062.6h9.0M570.3 1044.2h17.4M576.0 1283.0v-17.4M570.3 1029.2h9.0M588.1 1283.0v-9.0M570.3 1016.4h9.0M598.4 1283.0v-9.0M570.3 1005.4h9.0M607.3 1283.0v-9.0M570.3 995.7h9.0M615.1 1283.0v-9.0M570.3 987.0h25.4M622.1 1283.0v-25.4M570.3 929.8h9.0M668.2 1283.0v-9.0M570.3 896.3h9.0M695.1 1283.0v-9.0M570.3 872.6h9.0M714.3 1283.0v-9.0M570.3 854.2h17.4M729.1 1283.0v-17.4M570.3 839.2h9.0M741.2 1283.0v-9.0M751.5 1283.0v-9.0M760.4 1283.0v-9.0M768.2 1283.0v-9.0M775.2 1283.0v-25.4M821.3 1283.0v-9.0M848.2 1283.0v-9.0M867.4 1283.0v-9.0M882.2 1283.0v-17.4M894.3 1283.0v-9.0M904.6 1283.0v-9.0M913.5 1283.0v-9.0M921.3 1283.0v-9.0M928.3 1283.0v-25.4M974.4 1283.0v-9.0" stroke="#000" stroke-width="1.7" fill="none"/>
<text x="608.7" y="1313.3" font-size="23" textLength="27.2" lengthAdjust="spacingAndGlyphs" fill="#404040">0.1</text>
<text x="762.0" y="1313.3" font-size="23" textLength="28.5" lengthAdjust="spacingAndGlyphs" fill="#404040">1.0</text>
<text x="905.7" y="1313.3" font-size="23" textLength="45.5" lengthAdjust="spacingAndGlyphs" fill="#404040">10.0</text>
<text x="751.8" y="813.3" font-size="22.5" font-weight="bold" textLength="51.5" lengthAdjust="spacingAndGlyphs" fill="#1e1e1e">NAB</text>
<text x="589.4" y="846.1" font-size="20.5" fill="#1a1a1a" textLength="190.6" lengthAdjust="spacingAndGlyphs"><tspan font-style="italic">y</tspan> = −1.4 + 0.508 <tspan font-style="italic">x</tspan></text>
<text x="592.4" y="883.6" font-size="20.5" fill="#1a1a1a" textLength="193.0" lengthAdjust="spacingAndGlyphs"><tspan font-style="italic">R</tspan><tspan dy="-9" font-size="14">2</tspan><tspan dy="9"> = 0.72, </tspan><tspan font-style="italic">p</tspan> &lt; 0.001</text>
<line x1="999.3" x2="1413" y1="1226.7" y2="1226.7" stroke="#ececec" stroke-width="1.5"/>
<line x1="999.3" x2="1413" y1="1131.7" y2="1131.7" stroke="#ececec" stroke-width="1.5"/>
<line x1="999.3" x2="1413" y1="1036.7" y2="1036.7" stroke="#ececec" stroke-width="1.5"/>
<line x1="999.3" x2="1413" y1="941.7" y2="941.7" stroke="#ececec" stroke-width="1.5"/>
<line x1="999.3" x2="1413" y1="846.7" y2="846.7" stroke="#ececec" stroke-width="1.5"/>
<line x1="999.3" x2="1413" y1="1276.3" y2="1276.3" stroke="#dedede" stroke-width="1.5"/>
<line x1="999.3" x2="1413" y1="1177.0" y2="1177.0" stroke="#dedede" stroke-width="1.5"/>
<line x1="999.3" x2="1413" y1="1086.3" y2="1086.3" stroke="#dedede" stroke-width="1.5"/>
<line x1="999.3" x2="1413" y1="987.0" y2="987.0" stroke="#dedede" stroke-width="1.5"/>
<line x1="999.3" x2="1413" y1="896.3" y2="896.3" stroke="#dedede" stroke-width="1.5"/>
<line y1="829.6" y2="1283.0" x1="1127.7" x2="1127.7" stroke="#ececec" stroke-width="1.5"/>
<line y1="829.6" y2="1283.0" x1="1280.8" x2="1280.8" stroke="#ececec" stroke-width="1.5"/>
<line y1="829.6" y2="1283.0" x1="1051.1" x2="1051.1" stroke="#dedede" stroke-width="1.5"/>
<line y1="829.6" y2="1283.0" x1="1204.2" x2="1204.2" stroke="#dedede" stroke-width="1.5"/>
<line y1="829.6" y2="1283.0" x1="1357.3" x2="1357.3" stroke="#dedede" stroke-width="1.5"/>
<g fill="none" stroke-width="1.45" stroke-opacity="0.48">
<path stroke="#12a4dc" d="M1243 1036l7.6 13h-15.2zM1263 1053l7.6 13h-15.2zM1394 940l7.6 13h-15.2zM1068 1242l7.6 13h-15.2zM1229 1044l7.6 13h-15.2zM1359 973l7.6 13h-15.2zM1163 1101l7.6 13h-15.2zM1201 1096l7.6 13h-15.2zM1271 1062l7.6 13h-15.2zM1331 1008l7.6 13h-15.2zM1319 967l7.6 13h-15.2zM1149 1150l7.6 13h-15.2zM1342 985l7.6 13h-15.2zM1343 966l7.6 13h-15.2zM1207 1093l7.6 13h-15.2zM1178 1035l7.6 13h-15.2zM1399 964l7.6 13h-15.2zM1325 936l7.6 13h-15.2zM1179 1088l7.6 13h-15.2zM1148 1178l7.6 13h-15.2zM1235 1019l7.6 13h-15.2zM1197 1073l7.6 13h-15.2zM1300 971l7.6 13h-15.2zM1296 1006l7.6 13h-15.2zM1227 1060l7.6 13h-15.2zM1212 1079l7.6 13h-15.2zM1202 1077l7.6 13h-15.2zM1112 1122l7.6 13h-15.2zM1240 1069l7.6 13h-15.2zM1232 1087l7.6 13h-15.2zM1245 1048l7.6 13h-15.2zM1130 1084l7.6 13h-15.2zM1248 1053l7.6 13h-15.2zM1176 1067l7.6 13h-15.2zM1099 1167l7.6 13h-15.2zM1258 1010l7.6 13h-15.2zM1180 1083l7.6 13h-15.2zM1121 1122l7.6 13h-15.2zM1358 959l7.6 13h-15.2zM1369 941l7.6 13h-15.2zM1319 970l7.6 13h-15.2zM1069 1193l7.6 13h-15.2zM1256 1008l7.6 13h-15.2zM1137 1122l7.6 13h-15.2zM1315 970l7.6 13h-15.2zM1267 1009l7.6 13h-15.2zM1080 1137l7.6 13h-15.2zM1145 1063l7.6 13h-15.2zM1316 977l7.6 13h-15.2zM1351 974l7.6 13h-15.2zM1303 1006l7.6 13h-15.2zM1201 1052l7.6 13h-15.2zM1197 1056l7.6 13h-15.2zM1291 997l7.6 13h-15.2zM1364 954l7.6 13h-15.2zM1287 996l7.6 13h-15.2zM1204 1085l7.6 13h-15.2zM1142 1147l7.6 13h-15.2z"/>
<path stroke="#f99f12" d="M1151 1073l7.6 13h-15.2z"/>
<path stroke="#c03a36" d="M1138 1092l7.6 13h-15.2zM1316 945l7.6 13h-15.2zM1341 922l7.6 13h-15.2zM1146 1083l7.6 13h-15.2zM1309 948l7.6 13h-15.2zM1160 1080l7.6 13h-15.2zM1294 960l7.6 13h-15.2zM1189 1073l7.6 13h-15.2zM1301 943l7.6 13h-15.2zM1073 1060l7.6 13h-15.2zM1302 938l7.6 13h-15.2zM1105 1143l7.6 13h-15.2zM1312 977l7.6 13h-15.2zM1140 1115l7.6 13h-15.2zM1321 900l7.6 13h-15.2z"/>
<path stroke="#0c1f46" d="M1062 1217l7.6 13h-15.2z"/>
<path stroke="#12a4dc" d="M1227 1053l7.6 13h-15.2zM1163 1113l7.6 13h-15.2zM1243 1038l7.6 13h-15.2zM1264 1035l7.6 13h-15.2zM1191 1095l7.6 13h-15.2zM1312 958l7.6 13h-15.2zM1337 997l7.6 13h-15.2zM1308 985l7.6 13h-15.2zM1326 1004l7.6 13h-15.2zM1263 1059l7.6 13h-15.2zM1300 1029l7.6 13h-15.2zM1170 1101l7.6 13h-15.2zM1128 1131l7.6 13h-15.2zM1276 987l7.6 13h-15.2zM1261 1033l7.6 13h-15.2zM1158 1081l7.6 13h-15.2zM1288 970l7.6 13h-15.2zM1305 1044l7.6 13h-15.2zM1188 1107l7.6 13h-15.2zM1245 1074l7.6 13h-15.2zM1232 1039l7.6 13h-15.2zM1335 981l7.6 13h-15.2zM1169 1065l7.6 13h-15.2zM1192 1054l7.6 13h-15.2zM1259 1036l7.6 13h-15.2zM1145 1129l7.6 13h-15.2zM1157 1100l7.6 13h-15.2zM1180 1107l7.6 13h-15.2zM1233 1038l7.6 13h-15.2zM1281 1007l7.6 13h-15.2zM1131 1107l7.6 13h-15.2zM1285 998l7.6 13h-15.2zM1180 1107l7.6 13h-15.2zM1197 1102l7.6 13h-15.2zM1269 1037l7.6 13h-15.2zM1206 1059l7.6 13h-15.2zM1315 1028l7.6 13h-15.2zM1252 1022l7.6 13h-15.2zM1239 1032l7.6 13h-15.2zM1216 1060l7.6 13h-15.2zM1196 1117l7.6 13h-15.2zM1226 1005l7.6 13h-15.2zM1113 1123l7.6 13h-15.2zM1135 1138l7.6 13h-15.2zM1221 1051l7.6 13h-15.2zM1341 979l7.6 13h-15.2zM1211 1043l7.6 13h-15.2zM1246 1059l7.6 13h-15.2zM1172 1056l7.6 13h-15.2zM1282 1022l7.6 13h-15.2zM1247 1040l7.6 13h-15.2zM1346 994l7.6 13h-15.2zM1158 1119l7.6 13h-15.2zM1302 1005l7.6 13h-15.2zM1097 1168l7.6 13h-15.2zM1105 1159l7.6 13h-15.2zM1327 952l7.6 13h-15.2zM1183 1062l7.6 13h-15.2zM1140 1129l7.6 13h-15.2zM1092 1123l7.6 13h-15.2zM1230 1033l7.6 13h-15.2zM1244 1021l7.6 13h-15.2zM1358 964l7.6 13h-15.2zM1226 1015l7.6 13h-15.2zM1113 1112l7.6 13h-15.2zM1211 1056l7.6 13h-15.2zM1295 1026l7.6 13h-15.2zM1222 1039l7.6 13h-15.2zM1221 1094l7.6 13h-15.2zM1251 985l7.6 13h-15.2zM1202 1072l7.6 13h-15.2zM1161 1154l7.6 13h-15.2zM1333 1046l7.6 13h-15.2zM1173 1081l7.6 13h-15.2zM1219 1081l7.6 13h-15.2zM1171 1023l7.6 13h-15.2zM1291 982l7.6 13h-15.2zM1136 1126l7.6 13h-15.2zM1172 1021l7.6 13h-15.2zM1199 1044l7.6 13h-15.2z"/>
<path stroke="#c03a36" d="M1332 959l7.6 13h-15.2zM1118 1100l7.6 13h-15.2zM1213 1019l7.6 13h-15.2zM1154 1077l7.6 13h-15.2zM1148 1106l7.6 13h-15.2zM1166 1085l7.6 13h-15.2zM1149 1116l7.6 13h-15.2zM1332 948l7.6 13h-15.2zM1157 1064l7.6 13h-15.2zM1232 966l7.6 13h-15.2zM1135 1105l7.6 13h-15.2zM1130 1094l7.6 13h-15.2zM1330 936l7.6 13h-15.2zM1310 952l7.6 13h-15.2zM1277 1030l7.6 13h-15.2zM1309 947l7.6 13h-15.2zM1051 1140l7.6 13h-15.2zM1142 1120l7.6 13h-15.2zM1310 947l7.6 13h-15.2zM1326 929l7.6 13h-15.2z"/>
<path stroke="#0c1f46" d="M1078 1194l7.6 13h-15.2zM1093 1180l7.6 13h-15.2zM1082 1204l7.6 13h-15.2zM1067 1235l7.6 13h-15.2zM1079 1203l7.6 13h-15.2z"/>
<path stroke="#12a4dc" d="M1223 1080l7.6 13h-15.2zM1337 982l7.6 13h-15.2zM1193 1077l7.6 13h-15.2zM1235 1043l7.6 13h-15.2zM1274 997l7.6 13h-15.2zM1236 1025l7.6 13h-15.2zM1262 1026l7.6 13h-15.2zM1205 1066l7.6 13h-15.2zM1266 1021l7.6 13h-15.2zM1229 1080l7.6 13h-15.2zM1141 1162l7.6 13h-15.2zM1144 1113l7.6 13h-15.2zM1184 1130l7.6 13h-15.2zM1192 1108l7.6 13h-15.2zM1255 1034l7.6 13h-15.2zM1118 1130l7.6 13h-15.2zM1274 1015l7.6 13h-15.2zM1371 970l7.6 13h-15.2zM1256 982l7.6 13h-15.2zM1294 999l7.6 13h-15.2zM1209 1051l7.6 13h-15.2zM1243 1062l7.6 13h-15.2zM1310 962l7.6 13h-15.2zM1168 1100l7.6 13h-15.2zM1352 965l7.6 13h-15.2zM1150 1148l7.6 13h-15.2zM1198 999l7.6 13h-15.2zM1211 1020l7.6 13h-15.2zM1174 1070l7.6 13h-15.2zM1136 1154l7.6 13h-15.2zM1105 1119l7.6 13h-15.2zM1337 936l7.6 13h-15.2zM1300 1009l7.6 13h-15.2zM1309 971l7.6 13h-15.2zM1152 1123l7.6 13h-15.2zM1178 1119l7.6 13h-15.2zM1144 1075l7.6 13h-15.2zM1268 1061l7.6 13h-15.2zM1206 1128l7.6 13h-15.2zM1254 991l7.6 13h-15.2zM1192 1082l7.6 13h-15.2zM1244 1043l7.6 13h-15.2zM1185 1060l7.6 13h-15.2zM1241 1032l7.6 13h-15.2zM1330 961l7.6 13h-15.2zM1274 986l7.6 13h-15.2zM1175 1116l7.6 13h-15.2zM1191 1064l7.6 13h-15.2zM1253 1086l7.6 13h-15.2zM1117 1136l7.6 13h-15.2zM1230 1090l7.6 13h-15.2zM1188 1019l7.6 13h-15.2zM1259 1020l7.6 13h-15.2zM1250 1055l7.6 13h-15.2zM1214 1088l7.6 13h-15.2zM1269 1011l7.6 13h-15.2zM1230 1017l7.6 13h-15.2zM1221 1048l7.6 13h-15.2zM1258 1028l7.6 13h-15.2zM1172 1088l7.6 13h-15.2z"/>
<path stroke="#f99f12" d="M1158 1045l7.6 13h-15.2z"/>
<path stroke="#c03a36" d="M1131 1123l7.6 13h-15.2zM1248 984l7.6 13h-15.2zM1344 935l7.6 13h-15.2zM1252 974l7.6 13h-15.2zM1361 954l7.6 13h-15.2zM1233 1037l7.6 13h-15.2zM1129 1102l7.6 13h-15.2zM1148 1085l7.6 13h-15.2zM1162 1094l7.6 13h-15.2zM1121 1112l7.6 13h-15.2zM1149 1072l7.6 13h-15.2zM1332 952l7.6 13h-15.2zM1224 1052l7.6 13h-15.2zM1341 916l7.6 13h-15.2zM1157 1077l7.6 13h-15.2zM1357 904l7.6 13h-15.2zM1141 1110l7.6 13h-15.2zM1254 997l7.6 13h-15.2z"/>
<path stroke="#0c1f46" d="M1113 1163l7.6 13h-15.2zM1079 1193l7.6 13h-15.2zM1114 1173l7.6 13h-15.2z"/>
<path stroke="#12a4dc" d="M1231 1076l7.6 13h-15.2zM1234 1054l7.6 13h-15.2zM1220 1044l7.6 13h-15.2zM1161 1099l7.6 13h-15.2zM1085 1179l7.6 13h-15.2zM1274 1024l7.6 13h-15.2zM1204 1097l7.6 13h-15.2zM1169 1122l7.6 13h-15.2zM1141 1137l7.6 13h-15.2zM1200 1045l7.6 13h-15.2zM1137 1104l7.6 13h-15.2zM1237 1068l7.6 13h-15.2zM1195 1058l7.6 13h-15.2zM1180 1088l7.6 13h-15.2zM1348 953l7.6 13h-15.2zM1225 1055l7.6 13h-15.2zM1172 1071l7.6 13h-15.2zM1063 1139l7.6 13h-15.2zM1147 1096l7.6 13h-15.2zM1160 1091l7.6 13h-15.2zM1246 1057l7.6 13h-15.2zM1249 995l7.6 13h-15.2zM1282 1019l7.6 13h-15.2zM1155 1084l7.6 13h-15.2zM1274 1019l7.6 13h-15.2zM1352 978l7.6 13h-15.2zM1192 1094l7.6 13h-15.2zM1220 1087l7.6 13h-15.2zM1285 1036l7.6 13h-15.2zM1240 1042l7.6 13h-15.2zM1174 1019l7.6 13h-15.2zM1323 1003l7.6 13h-15.2zM1209 1109l7.6 13h-15.2zM1244 1045l7.6 13h-15.2zM1222 1036l7.6 13h-15.2zM1293 974l7.6 13h-15.2zM1214 1096l7.6 13h-15.2zM1236 1037l7.6 13h-15.2zM1251 1039l7.6 13h-15.2zM1138 1144l7.6 13h-15.2zM1239 1005l7.6 13h-15.2zM1269 954l7.6 13h-15.2zM1276 1046l7.6 13h-15.2zM1186 1069l7.6 13h-15.2zM1340 989l7.6 13h-15.2zM1208 1066l7.6 13h-15.2zM1158 1112l7.6 13h-15.2zM1252 1027l7.6 13h-15.2zM1271 986l7.6 13h-15.2zM1175 1094l7.6 13h-15.2zM1301 1015l7.6 13h-15.2zM1283 1008l7.6 13h-15.2zM1171 1132l7.6 13h-15.2zM1149 1105l7.6 13h-15.2zM1364 993l7.6 13h-15.2zM1290 1045l7.6 13h-15.2zM1181 1112l7.6 13h-15.2z"/>
<path stroke="#f99f12" d="M1187 1142l7.6 13h-15.2z"/>
<path stroke="#c03a36" d="M1141 1112l7.6 13h-15.2zM1155 1075l7.6 13h-15.2zM1119 1109l7.6 13h-15.2zM1258 1013l7.6 13h-15.2zM1240 1019l7.6 13h-15.2zM1136 1129l7.6 13h-15.2zM1128 1094l7.6 13h-15.2zM1346 932l7.6 13h-15.2zM1337 951l7.6 13h-15.2zM1319 958l7.6 13h-15.2zM1316 941l7.6 13h-15.2zM1174 1042l7.6 13h-15.2zM1159 1070l7.6 13h-15.2zM1170 1092l7.6 13h-15.2zM1194 1083l7.6 13h-15.2zM1138 1097l7.6 13h-15.2zM1257 990l7.6 13h-15.2zM1309 908l7.6 13h-15.2zM1321 979l7.6 13h-15.2zM1174 1174l7.6 13h-15.2zM1205 1065l7.6 13h-15.2z"/>
<path stroke="#0c1f46" d="M1047 1244l7.6 13h-15.2zM1132 1185l7.6 13h-15.2z"/>
<path stroke="#12a4dc" d="M1355 957l7.6 13h-15.2zM1060 1250l7.6 13h-15.2zM1250 1059l7.6 13h-15.2zM1249 1061l7.6 13h-15.2zM1187 1094l7.6 13h-15.2zM1216 1015l7.6 13h-15.2zM1206 1060l7.6 13h-15.2zM1154 1112l7.6 13h-15.2zM1179 1090l7.6 13h-15.2zM1089 1159l7.6 13h-15.2zM1283 1008l7.6 13h-15.2zM1223 1038l7.6 13h-15.2zM1188 1084l7.6 13h-15.2zM1185 1083l7.6 13h-15.2zM1175 1110l7.6 13h-15.2zM1229 991l7.6 13h-15.2zM1074 1193l7.6 13h-15.2zM1183 1058l7.6 13h-15.2zM1087 1135l7.6 13h-15.2zM1149 1121l7.6 13h-15.2zM1275 995l7.6 13h-15.2zM1208 1063l7.6 13h-15.2zM1302 977l7.6 13h-15.2zM1233 1030l7.6 13h-15.2zM1201 1116l7.6 13h-15.2zM1104 1157l7.6 13h-15.2zM1190 1044l7.6 13h-15.2zM1262 1007l7.6 13h-15.2zM1115 1118l7.6 13h-15.2zM1220 1069l7.6 13h-15.2zM1233 1008l7.6 13h-15.2zM1261 1021l7.6 13h-15.2zM1321 1041l7.6 13h-15.2zM1239 1037l7.6 13h-15.2zM1215 1103l7.6 13h-15.2zM1337 997l7.6 13h-15.2zM1330 968l7.6 13h-15.2zM1175 1077l7.6 13h-15.2zM1217 1007l7.6 13h-15.2zM1257 1076l7.6 13h-15.2zM1217 1024l7.6 13h-15.2zM1134 1101l7.6 13h-15.2zM1161 1085l7.6 13h-15.2zM1125 1119l7.6 13h-15.2zM1200 1060l7.6 13h-15.2zM1276 977l7.6 13h-15.2zM1301 959l7.6 13h-15.2zM1229 981l7.6 13h-15.2zM1213 1011l7.6 13h-15.2zM1307 1005l7.6 13h-15.2zM1182 1080l7.6 13h-15.2zM1307 1005l7.6 13h-15.2zM1119 1203l7.6 13h-15.2zM1146 1101l7.6 13h-15.2zM1215 1058l7.6 13h-15.2zM1243 1005l7.6 13h-15.2zM1265 1016l7.6 13h-15.2zM1327 926l7.6 13h-15.2zM1308 966l7.6 13h-15.2zM1240 1046l7.6 13h-15.2zM1065 1219l7.6 13h-15.2zM1313 990l7.6 13h-15.2zM1178 1084l7.6 13h-15.2zM1214 1018l7.6 13h-15.2z"/>
<path stroke="#c03a36" d="M1230 1146l7.6 13h-15.2zM1256 991l7.6 13h-15.2zM1172 1049l7.6 13h-15.2zM1157 1095l7.6 13h-15.2zM1219 1055l7.6 13h-15.2zM1161 1101l7.6 13h-15.2zM1143 1116l7.6 13h-15.2zM1138 1109l7.6 13h-15.2zM1128 1099l7.6 13h-15.2zM1167 1090l7.6 13h-15.2zM1310 935l7.6 13h-15.2zM1139 1112l7.6 13h-15.2zM1153 1059l7.6 13h-15.2zM1354 919l7.6 13h-15.2zM1237 1035l7.6 13h-15.2zM1217 1123l7.6 13h-15.2zM1360 906l7.6 13h-15.2zM1362 924l7.6 13h-15.2zM1142 1113l7.6 13h-15.2zM1112 1120l7.6 13h-15.2z"/>
<path stroke="#0c1f46" d="M1067 1216l7.6 13h-15.2zM1044 1201l7.6 13h-15.2zM1052 1224l7.6 13h-15.2z"/>
<path stroke="#12a4dc" d="M1216 1101l7.6 13h-15.2zM1085 1139l7.6 13h-15.2zM1298 1010l7.6 13h-15.2zM1250 1042l7.6 13h-15.2zM1204 1104l7.6 13h-15.2zM1273 990l7.6 13h-15.2zM1260 994l7.6 13h-15.2zM1186 1146l7.6 13h-15.2zM1196 1068l7.6 13h-15.2zM1306 998l7.6 13h-15.2zM1336 963l7.6 13h-15.2zM1357 992l7.6 13h-15.2zM1254 1018l7.6 13h-15.2zM1188 1069l7.6 13h-15.2zM1316 1024l7.6 13h-15.2zM1230 1069l7.6 13h-15.2zM1172 1083l7.6 13h-15.2zM1292 984l7.6 13h-15.2zM1079 1197l7.6 13h-15.2zM1074 1241l7.6 13h-15.2zM1383 948l7.6 13h-15.2zM1316 952l7.6 13h-15.2zM1195 1074l7.6 13h-15.2zM1201 1102l7.6 13h-15.2zM1215 1027l7.6 13h-15.2zM1166 1114l7.6 13h-15.2zM1268 1037l7.6 13h-15.2zM1267 1054l7.6 13h-15.2zM1316 990l7.6 13h-15.2zM1222 1073l7.6 13h-15.2zM1254 1075l7.6 13h-15.2zM1105 1114l7.6 13h-15.2zM1291 959l7.6 13h-15.2zM1146 1114l7.6 13h-15.2zM1270 1040l7.6 13h-15.2zM1258 980l7.6 13h-15.2zM1215 1072l7.6 13h-15.2zM1201 1014l7.6 13h-15.2zM1237 1028l7.6 13h-15.2zM1213 1023l7.6 13h-15.2zM1271 1021l7.6 13h-15.2zM1239 1087l7.6 13h-15.2zM1298 1024l7.6 13h-15.2zM1196 1070l7.6 13h-15.2zM1199 1081l7.6 13h-15.2zM1306 972l7.6 13h-15.2zM1252 996l7.6 13h-15.2zM1170 1145l7.6 13h-15.2zM1323 948l7.6 13h-15.2zM1207 1052l7.6 13h-15.2zM1218 1066l7.6 13h-15.2zM1173 1050l7.6 13h-15.2zM1115 1153l7.6 13h-15.2zM1182 1117l7.6 13h-15.2zM1295 1016l7.6 13h-15.2zM1240 1030l7.6 13h-15.2zM1320 987l7.6 13h-15.2zM1316 983l7.6 13h-15.2zM1201 1021l7.6 13h-15.2zM1277 1044l7.6 13h-15.2zM1302 994l7.6 13h-15.2zM1282 1025l7.6 13h-15.2zM1150 1122l7.6 13h-15.2zM1278 984l7.6 13h-15.2zM1292 944l7.6 13h-15.2zM1305 990l7.6 13h-15.2zM1273 979l7.6 13h-15.2zM1176 1062l7.6 13h-15.2zM1346 976l7.6 13h-15.2z"/>
<path stroke="#f99f12" d="M1215 1106l7.6 13h-15.2zM1197 984l7.6 13h-15.2zM1112 1121l7.6 13h-15.2z"/>
<path stroke="#c03a36" d="M1259 999l7.6 13h-15.2zM1171 1082l7.6 13h-15.2zM1149 1055l7.6 13h-15.2zM1342 929l7.6 13h-15.2zM1338 934l7.6 13h-15.2zM1145 1079l7.6 13h-15.2zM1166 1113l7.6 13h-15.2zM1140 1082l7.6 13h-15.2zM1149 1081l7.6 13h-15.2zM1280 929l7.6 13h-15.2zM1283 985l7.6 13h-15.2zM1155 1085l7.6 13h-15.2zM1344 962l7.6 13h-15.2zM1154 1058l7.6 13h-15.2zM1134 1072l7.6 13h-15.2zM1170 1082l7.6 13h-15.2zM1300 925l7.6 13h-15.2zM1343 942l7.6 13h-15.2zM1113 1122l7.6 13h-15.2zM1164 1087l7.6 13h-15.2zM1111 1111l7.6 13h-15.2z"/>
<path stroke="#0c1f46" d="M1066 1201l7.6 13h-15.2zM1120 1163l7.6 13h-15.2zM1065 1191l7.6 13h-15.2zM1062 1212l7.6 13h-15.2zM1122 1159l7.6 13h-15.2z"/>
</g>
<polyline points="1033.1,1200.4 1214.0,1059.7 1394.9,918.9" fill="none" stroke="#000" stroke-width="2.9" stroke-dasharray="12.5 12.5"/>
<polyline points="1033.1,1176.6 1214.0,1013.2 1394.9,849.7" fill="none" stroke="#000" stroke-width="3.6" stroke-linecap="round" stroke-dasharray="0 12.6"/>
<polyline points="1033.1,1218.2 1037.6,1212.8 1042.1,1207.5 1046.7,1202.2 1051.2,1196.9 1055.7,1191.7 1060.2,1186.4 1064.8,1181.2 1069.3,1176.1 1073.8,1170.9 1078.3,1165.8 1082.8,1160.7 1087.4,1155.6 1091.9,1150.6 1096.4,1145.6 1100.9,1140.7 1105.5,1135.8 1110.0,1130.9 1114.5,1126.1 1119.0,1121.4 1123.5,1116.7 1128.1,1112.0 1132.6,1107.4 1137.1,1102.9 1141.6,1098.4 1146.2,1094.0 1150.7,1089.6 1155.2,1085.4 1159.7,1081.2 1164.3,1077.0 1168.8,1073.0 1173.3,1069.0 1177.8,1065.1 1182.3,1061.3 1186.9,1057.6 1191.4,1053.9 1195.9,1050.3 1200.4,1046.8 1205.0,1043.4 1209.5,1040.0 1214.0,1036.7 1218.5,1033.5 1223.0,1030.3 1227.6,1027.1 1232.1,1024.0 1236.6,1021.0 1241.1,1017.9 1245.7,1014.9 1250.2,1011.9 1254.7,1008.9 1259.2,1005.8 1263.7,1002.8 1268.3,999.6 1272.8,996.5 1277.3,993.3 1281.8,990.0 1286.4,986.7 1290.9,983.3 1295.4,979.8 1299.9,976.2 1304.4,972.5 1309.0,968.8 1313.5,965.0 1318.0,961.1 1322.5,957.1 1327.1,953.1 1331.6,949.0 1336.1,944.8 1340.6,940.5 1345.2,936.2 1349.7,931.8 1354.2,927.3 1358.7,922.8 1363.2,918.2 1367.8,913.6 1372.3,908.9 1376.8,904.1 1381.3,899.3 1385.9,894.5 1390.4,889.6 1394.9,884.7" fill="none" stroke="#000" stroke-width="3.1" stroke-linecap="round" stroke-dasharray="0 12 9 12"/>
<polyline points="1033.1,1197.6 1214.0,1059.3 1394.9,921.0" fill="none" stroke="#000" stroke-width="5.6"/>
<path d="M999.3 1276.3h9.0M999.3 1252.6h9.0M999.3 1234.2h17.4M999.3 1219.2h9.0M999.3 1206.4h9.0M999.3 1195.4h9.0M999.3 1185.7h9.0M999.3 1177.0h25.4M999.3 1119.8h9.0M999.3 1086.3h9.0M999.3 1062.6h9.0M999.3 1044.2h17.4M1005.0 1283.0v-17.4M999.3 1029.2h9.0M1017.1 1283.0v-9.0M999.3 1016.4h9.0M1027.4 1283.0v-9.0M999.3 1005.4h9.0M1036.3 1283.0v-9.0M999.3 995.7h9.0M1044.1 1283.0v-9.0M999.3 987.0h25.4M1051.1 1283.0v-25.4M999.3 929.8h9.0M1097.2 1283.0v-9.0M999.3 896.3h9.0M1124.1 1283.0v-9.0M999.3 872.6h9.0M1143.3 1283.0v-9.0M999.3 854.2h17.4M1158.1 1283.0v-17.4M999.3 839.2h9.0M1170.2 1283.0v-9.0M1180.5 1283.0v-9.0M1189.4 1283.0v-9.0M1197.2 1283.0v-9.0M1204.2 1283.0v-25.4M1250.3 1283.0v-9.0M1277.2 1283.0v-9.0M1296.4 1283.0v-9.0M1311.2 1283.0v-17.4M1323.3 1283.0v-9.0M1333.6 1283.0v-9.0M1342.5 1283.0v-9.0M1350.3 1283.0v-9.0M1357.3 1283.0v-25.4M1403.4 1283.0v-9.0" stroke="#000" stroke-width="1.7" fill="none"/>
<text x="1037.7" y="1313.3" font-size="23" textLength="27.2" lengthAdjust="spacingAndGlyphs" fill="#404040">0.1</text>
<text x="1191.0" y="1313.3" font-size="23" textLength="28.5" lengthAdjust="spacingAndGlyphs" fill="#404040">1.0</text>
<text x="1334.7" y="1313.3" font-size="23" textLength="45.5" lengthAdjust="spacingAndGlyphs" fill="#404040">10.0</text>
<text x="1152.6" y="813.3" font-size="22.5" font-weight="bold" textLength="109.5" lengthAdjust="spacingAndGlyphs" fill="#1e1e1e">Labrador</text>
<text x="1018.4" y="846.1" font-size="20.5" fill="#1a1a1a" textLength="188.4" lengthAdjust="spacingAndGlyphs"><tspan font-style="italic">y</tspan> = −1.42 + 0.616 <tspan font-style="italic">x</tspan></text>
<text x="1021.4" y="883.6" font-size="20.5" fill="#1a1a1a" textLength="192.7" lengthAdjust="spacingAndGlyphs"><tspan font-style="italic">R</tspan><tspan dy="-9" font-size="14">2</tspan><tspan dy="9"> = 0.79, </tspan><tspan font-style="italic">p</tspan> &lt; 0.001</text>
<text x="63.0" y="904.5" font-size="23" textLength="65.0" lengthAdjust="spacingAndGlyphs" fill="#404040">0.300</text>
<text x="68.6" y="995.2" font-size="23" textLength="58.9" lengthAdjust="spacingAndGlyphs" fill="#404040">0.100</text>
<text x="63.5" y="1094.5" font-size="23" textLength="63.6" lengthAdjust="spacingAndGlyphs" fill="#404040">0.030</text>
<text x="69.2" y="1185.2" font-size="23" textLength="58.8" lengthAdjust="spacingAndGlyphs" fill="#404040">0.010</text>
<text x="63.6" y="1284.5" font-size="23" textLength="62.0" lengthAdjust="spacingAndGlyphs" fill="#404040">0.003</text>
<g transform="translate(36.7,1166.7) rotate(-90)" fill="#000" font-size="29.5">
<text x="0" y="0" textLength="13.8" lengthAdjust="spacingAndGlyphs">a</text>
<text x="17.6" y="6.5" font-size="20" textLength="11.5" lengthAdjust="spacingAndGlyphs">φ</text>
<path d="M51.5,-28.3 Q42.8,-11.8 51.5,4.7" fill="none" stroke="#000" stroke-width="2.9"/>
<text x="56.2" y="0" textLength="51.9" lengthAdjust="spacingAndGlyphs">443</text>
<path d="M114.3,-28.3 Q123.4,-11.8 114.3,4.7" fill="none" stroke="#000" stroke-width="2.9"/>
<path d="M145.5,-28.3 Q137.4,-11.8 145.5,4.7" fill="none" stroke="#000" stroke-width="2.9"/>
<text x="151.6" y="0" textLength="25.5" lengthAdjust="spacingAndGlyphs">m</text>
<text x="182.5" y="-15.5" font-size="20" textLength="22" lengthAdjust="spacingAndGlyphs">−1</text>
<path d="M210.9,-28.3 Q219.9,-11.8 210.9,4.7" fill="none" stroke="#000" stroke-width="2.9"/>
</g>
<g transform="translate(0,665)" fill="#000" font-size="29.5">
<text x="651" y="692.5" textLength="91" lengthAdjust="spacingAndGlyphs">[Chl-a]</text>
<path d="M764.2,664.5 Q754.7,680.5 764.2,696.5" fill="none" stroke="#000" stroke-width="2.9"/>
<text x="770.5" y="692.5" textLength="48.6" lengthAdjust="spacingAndGlyphs">mg</text>
<text x="832.8" y="692.5" textLength="26.3" lengthAdjust="spacingAndGlyphs">m</text>
<text x="864.8" y="676.5" font-size="20" textLength="24.8" lengthAdjust="spacingAndGlyphs">−3</text>
<path d="M896,664.5 Q905.4,680.5 896,696.5" fill="none" stroke="#000" stroke-width="2.9"/>
</g>
</svg></body></html>
